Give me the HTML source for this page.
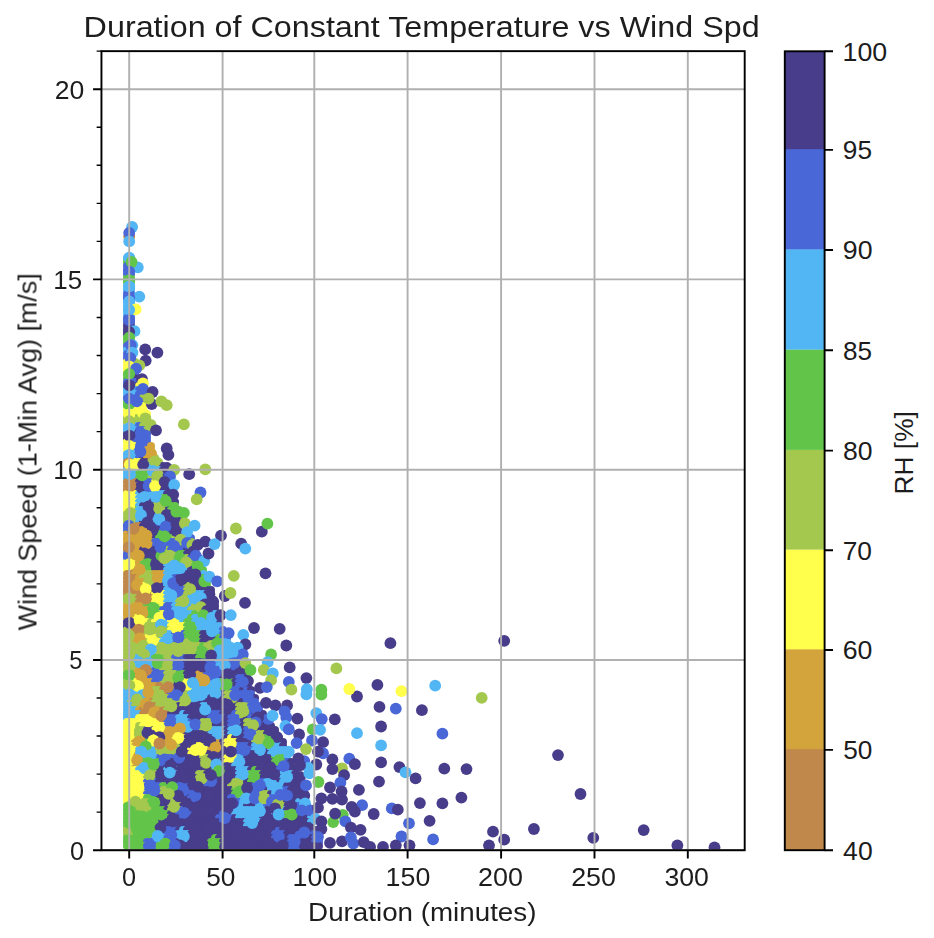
<!DOCTYPE html><html><head><meta charset="utf-8"><style>html,body{margin:0;padding:0;background:#fff;}svg{display:block;}text{font-family:"Liberation Sans",sans-serif;fill:#1c1c1c;}</style></head><body>
<svg width="934" height="938" viewBox="0 0 934 938">
<rect x="0" y="0" width="934" height="938" fill="#fff"/>
<defs><clipPath id="ax"><rect x="101.45" y="51.15" width="643.25" height="799.0500000000001"/></clipPath></defs>
<g clip-path="url(#ax)">
<circle cx="127.0" cy="258.0" r="4" fill="#52B6F5"/>
<circle cx="131.0" cy="258.0" r="4" fill="#52B6F5"/>
<circle cx="127.0" cy="262.0" r="4" fill="#62C54A"/>
<circle cx="131.0" cy="262.0" r="4" fill="#62C54A"/>
<circle cx="127.0" cy="266.0" r="4" fill="#4A67D8"/>
<circle cx="131.0" cy="266.0" r="4" fill="#62C54A"/>
<circle cx="127.0" cy="270.0" r="4" fill="#4A67D8"/>
<circle cx="131.0" cy="270.0" r="4" fill="#4A67D8"/>
<circle cx="127.0" cy="274.0" r="4" fill="#4A67D8"/>
<circle cx="131.0" cy="274.0" r="4" fill="#4A67D8"/>
<circle cx="127.0" cy="278.0" r="4" fill="#62C54A"/>
<circle cx="131.0" cy="278.0" r="4" fill="#62C54A"/>
<circle cx="127.0" cy="282.0" r="4" fill="#62C54A"/>
<circle cx="131.0" cy="282.0" r="4" fill="#62C54A"/>
<circle cx="127.0" cy="286.0" r="4" fill="#52B6F5"/>
<circle cx="131.0" cy="286.0" r="4" fill="#52B6F5"/>
<circle cx="127.0" cy="290.0" r="4" fill="#52B6F5"/>
<circle cx="131.0" cy="290.0" r="4" fill="#52B6F5"/>
<circle cx="127.0" cy="294.0" r="4" fill="#4A67D8"/>
<circle cx="131.0" cy="294.0" r="4" fill="#4A67D8"/>
<circle cx="127.0" cy="298.0" r="4" fill="#4A67D8"/>
<circle cx="131.0" cy="298.0" r="4" fill="#4A67D8"/>
<circle cx="127.0" cy="302.0" r="4" fill="#52B6F5"/>
<circle cx="131.0" cy="302.0" r="4" fill="#52B6F5"/>
<circle cx="127.0" cy="306.0" r="4" fill="#52B6F5"/>
<circle cx="131.0" cy="306.0" r="4" fill="#52B6F5"/>
<circle cx="127.0" cy="310.0" r="4" fill="#52B6F5"/>
<circle cx="131.0" cy="310.0" r="4" fill="#52B6F5"/>
<circle cx="127.0" cy="314.0" r="4" fill="#52B6F5"/>
<circle cx="131.0" cy="314.0" r="4" fill="#52B6F5"/>
<circle cx="127.0" cy="318.0" r="4" fill="#4A67D8"/>
<circle cx="131.0" cy="318.0" r="4" fill="#4A67D8"/>
<circle cx="127.0" cy="322.0" r="4" fill="#4A67D8"/>
<circle cx="131.0" cy="322.0" r="4" fill="#4A67D8"/>
<circle cx="127.0" cy="326.0" r="4" fill="#483D8B"/>
<circle cx="131.0" cy="326.0" r="4" fill="#483D8B"/>
<circle cx="127.0" cy="330.0" r="4" fill="#483D8B"/>
<circle cx="131.0" cy="330.0" r="4" fill="#483D8B"/>
<circle cx="127.0" cy="334.0" r="4" fill="#483D8B"/>
<circle cx="131.0" cy="334.0" r="4" fill="#483D8B"/>
<circle cx="127.0" cy="338.0" r="4" fill="#62C54A"/>
<circle cx="131.0" cy="338.0" r="4" fill="#62C54A"/>
<circle cx="127.0" cy="342.0" r="4" fill="#62C54A"/>
<circle cx="131.0" cy="342.0" r="4" fill="#4A67D8"/>
<circle cx="127.0" cy="346.0" r="4" fill="#4A67D8"/>
<circle cx="131.0" cy="346.0" r="4" fill="#4A67D8"/>
<circle cx="127.0" cy="350.0" r="4" fill="#52B6F5"/>
<circle cx="131.0" cy="350.0" r="4" fill="#52B6F5"/>
<circle cx="127.0" cy="354.0" r="4" fill="#4A67D8"/>
<circle cx="131.0" cy="354.0" r="4" fill="#52B6F5"/>
<circle cx="127.0" cy="358.0" r="4" fill="#4A67D8"/>
<circle cx="131.0" cy="358.0" r="4" fill="#4A67D8"/>
<circle cx="127.0" cy="362.0" r="4" fill="#FFFF4C"/>
<circle cx="131.0" cy="362.0" r="4" fill="#4A67D8"/>
<circle cx="135.0" cy="362.0" r="4" fill="#A4C84E"/>
<circle cx="127.0" cy="366.0" r="4" fill="#FFFF4C"/>
<circle cx="131.0" cy="366.0" r="4" fill="#FFFF4C"/>
<circle cx="135.0" cy="366.0" r="4" fill="#4A67D8"/>
<circle cx="127.0" cy="370.0" r="4" fill="#FFFF4C"/>
<circle cx="131.0" cy="370.0" r="4" fill="#FFFF4C"/>
<circle cx="135.0" cy="370.0" r="4" fill="#4A67D8"/>
<circle cx="127.0" cy="374.0" r="4" fill="#62C54A"/>
<circle cx="131.0" cy="374.0" r="4" fill="#62C54A"/>
<circle cx="135.0" cy="374.0" r="4" fill="#4A67D8"/>
<circle cx="127.0" cy="378.0" r="4" fill="#62C54A"/>
<circle cx="131.0" cy="378.0" r="4" fill="#62C54A"/>
<circle cx="135.0" cy="378.0" r="4" fill="#483D8B"/>
<circle cx="127.0" cy="382.0" r="4" fill="#4A67D8"/>
<circle cx="131.0" cy="382.0" r="4" fill="#4A67D8"/>
<circle cx="135.0" cy="382.0" r="4" fill="#4A67D8"/>
<circle cx="127.0" cy="386.0" r="4" fill="#483D8B"/>
<circle cx="131.0" cy="386.0" r="4" fill="#483D8B"/>
<circle cx="135.0" cy="386.0" r="4" fill="#483D8B"/>
<circle cx="139.0" cy="386.0" r="4" fill="#FFFF4C"/>
<circle cx="127.0" cy="390.0" r="4" fill="#52B6F5"/>
<circle cx="131.0" cy="390.0" r="4" fill="#52B6F5"/>
<circle cx="135.0" cy="390.0" r="4" fill="#52B6F5"/>
<circle cx="139.0" cy="390.0" r="4" fill="#4A67D8"/>
<circle cx="143.0" cy="390.0" r="4" fill="#4A67D8"/>
<circle cx="127.0" cy="394.0" r="4" fill="#52B6F5"/>
<circle cx="131.0" cy="394.0" r="4" fill="#52B6F5"/>
<circle cx="135.0" cy="394.0" r="4" fill="#52B6F5"/>
<circle cx="139.0" cy="394.0" r="4" fill="#4A67D8"/>
<circle cx="143.0" cy="394.0" r="4" fill="#4A67D8"/>
<circle cx="127.0" cy="398.0" r="4" fill="#4A67D8"/>
<circle cx="131.0" cy="398.0" r="4" fill="#4A67D8"/>
<circle cx="135.0" cy="398.0" r="4" fill="#4A67D8"/>
<circle cx="139.0" cy="398.0" r="4" fill="#4A67D8"/>
<circle cx="143.0" cy="398.0" r="4" fill="#A4C84E"/>
<circle cx="127.0" cy="402.0" r="4" fill="#62C54A"/>
<circle cx="131.0" cy="402.0" r="4" fill="#62C54A"/>
<circle cx="135.0" cy="402.0" r="4" fill="#4A67D8"/>
<circle cx="139.0" cy="402.0" r="4" fill="#4A67D8"/>
<circle cx="143.0" cy="402.0" r="4" fill="#4A67D8"/>
<circle cx="127.0" cy="406.0" r="4" fill="#62C54A"/>
<circle cx="131.0" cy="406.0" r="4" fill="#62C54A"/>
<circle cx="135.0" cy="406.0" r="4" fill="#4A67D8"/>
<circle cx="139.0" cy="406.0" r="4" fill="#4A67D8"/>
<circle cx="143.0" cy="406.0" r="4" fill="#FFFF4C"/>
<circle cx="127.0" cy="410.0" r="4" fill="#FFFF4C"/>
<circle cx="131.0" cy="410.0" r="4" fill="#FFFF4C"/>
<circle cx="135.0" cy="410.0" r="4" fill="#FFFF4C"/>
<circle cx="139.0" cy="410.0" r="4" fill="#FFFF4C"/>
<circle cx="143.0" cy="410.0" r="4" fill="#FFFF4C"/>
<circle cx="127.0" cy="414.0" r="4" fill="#FFFF4C"/>
<circle cx="131.0" cy="414.0" r="4" fill="#FFFF4C"/>
<circle cx="135.0" cy="414.0" r="4" fill="#FFFF4C"/>
<circle cx="139.0" cy="414.0" r="4" fill="#FFFF4C"/>
<circle cx="143.0" cy="414.0" r="4" fill="#FFFF4C"/>
<circle cx="147.0" cy="414.0" r="4" fill="#FFFF4C"/>
<circle cx="127.0" cy="418.0" r="4" fill="#A4C84E"/>
<circle cx="131.0" cy="418.0" r="4" fill="#A4C84E"/>
<circle cx="135.0" cy="418.0" r="4" fill="#A4C84E"/>
<circle cx="139.0" cy="418.0" r="4" fill="#A4C84E"/>
<circle cx="143.0" cy="418.0" r="4" fill="#A4C84E"/>
<circle cx="147.0" cy="418.0" r="4" fill="#A4C84E"/>
<circle cx="127.0" cy="422.0" r="4" fill="#A4C84E"/>
<circle cx="131.0" cy="422.0" r="4" fill="#A4C84E"/>
<circle cx="135.0" cy="422.0" r="4" fill="#A4C84E"/>
<circle cx="139.0" cy="422.0" r="4" fill="#A4C84E"/>
<circle cx="143.0" cy="422.0" r="4" fill="#A4C84E"/>
<circle cx="147.0" cy="422.0" r="4" fill="#A4C84E"/>
<circle cx="127.0" cy="426.0" r="4" fill="#52B6F5"/>
<circle cx="131.0" cy="426.0" r="4" fill="#52B6F5"/>
<circle cx="135.0" cy="426.0" r="4" fill="#52B6F5"/>
<circle cx="139.0" cy="426.0" r="4" fill="#4A67D8"/>
<circle cx="143.0" cy="426.0" r="4" fill="#A4C84E"/>
<circle cx="147.0" cy="426.0" r="4" fill="#A4C84E"/>
<circle cx="127.0" cy="430.0" r="4" fill="#52B6F5"/>
<circle cx="131.0" cy="430.0" r="4" fill="#52B6F5"/>
<circle cx="135.0" cy="430.0" r="4" fill="#52B6F5"/>
<circle cx="139.0" cy="430.0" r="4" fill="#4A67D8"/>
<circle cx="143.0" cy="430.0" r="4" fill="#4A67D8"/>
<circle cx="147.0" cy="430.0" r="4" fill="#A4C84E"/>
<circle cx="127.0" cy="434.0" r="4" fill="#483D8B"/>
<circle cx="131.0" cy="434.0" r="4" fill="#483D8B"/>
<circle cx="135.0" cy="434.0" r="4" fill="#483D8B"/>
<circle cx="139.0" cy="434.0" r="4" fill="#4A67D8"/>
<circle cx="143.0" cy="434.0" r="4" fill="#4A67D8"/>
<circle cx="147.0" cy="434.0" r="4" fill="#4A67D8"/>
<circle cx="127.0" cy="438.0" r="4" fill="#483D8B"/>
<circle cx="131.0" cy="438.0" r="4" fill="#483D8B"/>
<circle cx="135.0" cy="438.0" r="4" fill="#483D8B"/>
<circle cx="139.0" cy="438.0" r="4" fill="#4A67D8"/>
<circle cx="143.0" cy="438.0" r="4" fill="#4A67D8"/>
<circle cx="147.0" cy="438.0" r="4" fill="#4A67D8"/>
<circle cx="127.0" cy="442.0" r="4" fill="#FFFF4C"/>
<circle cx="131.0" cy="442.0" r="4" fill="#FFFF4C"/>
<circle cx="135.0" cy="442.0" r="4" fill="#4A67D8"/>
<circle cx="139.0" cy="442.0" r="4" fill="#4A67D8"/>
<circle cx="143.0" cy="442.0" r="4" fill="#4A67D8"/>
<circle cx="147.0" cy="442.0" r="4" fill="#4A67D8"/>
<circle cx="127.0" cy="446.0" r="4" fill="#FFFF4C"/>
<circle cx="131.0" cy="446.0" r="4" fill="#FFFF4C"/>
<circle cx="135.0" cy="446.0" r="4" fill="#FFFF4C"/>
<circle cx="139.0" cy="446.0" r="4" fill="#4A67D8"/>
<circle cx="143.0" cy="446.0" r="4" fill="#4A67D8"/>
<circle cx="147.0" cy="446.0" r="4" fill="#4A67D8"/>
<circle cx="151.0" cy="446.0" r="4" fill="#D4A43C"/>
<circle cx="127.0" cy="450.0" r="4" fill="#FFFF4C"/>
<circle cx="131.0" cy="450.0" r="4" fill="#FFFF4C"/>
<circle cx="135.0" cy="450.0" r="4" fill="#4A67D8"/>
<circle cx="139.0" cy="450.0" r="4" fill="#4A67D8"/>
<circle cx="143.0" cy="450.0" r="4" fill="#4A67D8"/>
<circle cx="147.0" cy="450.0" r="4" fill="#D4A43C"/>
<circle cx="151.0" cy="450.0" r="4" fill="#D4A43C"/>
<circle cx="127.0" cy="454.0" r="4" fill="#52B6F5"/>
<circle cx="131.0" cy="454.0" r="4" fill="#52B6F5"/>
<circle cx="135.0" cy="454.0" r="4" fill="#52B6F5"/>
<circle cx="139.0" cy="454.0" r="4" fill="#4A67D8"/>
<circle cx="143.0" cy="454.0" r="4" fill="#4A67D8"/>
<circle cx="147.0" cy="454.0" r="4" fill="#D4A43C"/>
<circle cx="151.0" cy="454.0" r="4" fill="#D4A43C"/>
<circle cx="127.0" cy="458.0" r="4" fill="#52B6F5"/>
<circle cx="131.0" cy="458.0" r="4" fill="#52B6F5"/>
<circle cx="135.0" cy="458.0" r="4" fill="#52B6F5"/>
<circle cx="139.0" cy="458.0" r="4" fill="#4A67D8"/>
<circle cx="143.0" cy="458.0" r="4" fill="#483D8B"/>
<circle cx="147.0" cy="458.0" r="4" fill="#D4A43C"/>
<circle cx="151.0" cy="458.0" r="4" fill="#D4A43C"/>
<circle cx="155.0" cy="458.0" r="4" fill="#A4C84E"/>
<circle cx="127.0" cy="462.0" r="4" fill="#C0884A"/>
<circle cx="131.0" cy="462.0" r="4" fill="#C0884A"/>
<circle cx="135.0" cy="462.0" r="4" fill="#FFFF4C"/>
<circle cx="139.0" cy="462.0" r="4" fill="#FFFF4C"/>
<circle cx="143.0" cy="462.0" r="4" fill="#483D8B"/>
<circle cx="147.0" cy="462.0" r="4" fill="#483D8B"/>
<circle cx="151.0" cy="462.0" r="4" fill="#A4C84E"/>
<circle cx="155.0" cy="462.0" r="4" fill="#A4C84E"/>
<circle cx="159.0" cy="462.0" r="4" fill="#A4C84E"/>
<circle cx="127.0" cy="466.0" r="4" fill="#C0884A"/>
<circle cx="131.0" cy="466.0" r="4" fill="#FFFF4C"/>
<circle cx="135.0" cy="466.0" r="4" fill="#FFFF4C"/>
<circle cx="139.0" cy="466.0" r="4" fill="#FFFF4C"/>
<circle cx="143.0" cy="466.0" r="4" fill="#483D8B"/>
<circle cx="147.0" cy="466.0" r="4" fill="#483D8B"/>
<circle cx="151.0" cy="466.0" r="4" fill="#52B6F5"/>
<circle cx="155.0" cy="466.0" r="4" fill="#A4C84E"/>
<circle cx="159.0" cy="466.0" r="4" fill="#A4C84E"/>
<circle cx="163.0" cy="466.0" r="4" fill="#483D8B"/>
<circle cx="167.0" cy="466.0" r="4" fill="#483D8B"/>
<circle cx="127.0" cy="470.0" r="4" fill="#52B6F5"/>
<circle cx="131.0" cy="470.0" r="4" fill="#52B6F5"/>
<circle cx="135.0" cy="470.0" r="4" fill="#FFFF4C"/>
<circle cx="139.0" cy="470.0" r="4" fill="#62C54A"/>
<circle cx="143.0" cy="470.0" r="4" fill="#62C54A"/>
<circle cx="147.0" cy="470.0" r="4" fill="#52B6F5"/>
<circle cx="151.0" cy="470.0" r="4" fill="#52B6F5"/>
<circle cx="155.0" cy="470.0" r="4" fill="#52B6F5"/>
<circle cx="159.0" cy="470.0" r="4" fill="#52B6F5"/>
<circle cx="163.0" cy="470.0" r="4" fill="#483D8B"/>
<circle cx="167.0" cy="470.0" r="4" fill="#483D8B"/>
<circle cx="127.0" cy="474.0" r="4" fill="#52B6F5"/>
<circle cx="131.0" cy="474.0" r="4" fill="#52B6F5"/>
<circle cx="135.0" cy="474.0" r="4" fill="#52B6F5"/>
<circle cx="139.0" cy="474.0" r="4" fill="#62C54A"/>
<circle cx="143.0" cy="474.0" r="4" fill="#62C54A"/>
<circle cx="147.0" cy="474.0" r="4" fill="#62C54A"/>
<circle cx="151.0" cy="474.0" r="4" fill="#52B6F5"/>
<circle cx="155.0" cy="474.0" r="4" fill="#A4C84E"/>
<circle cx="159.0" cy="474.0" r="4" fill="#A4C84E"/>
<circle cx="163.0" cy="474.0" r="4" fill="#A4C84E"/>
<circle cx="167.0" cy="474.0" r="4" fill="#4A67D8"/>
<circle cx="127.0" cy="478.0" r="4" fill="#52B6F5"/>
<circle cx="131.0" cy="478.0" r="4" fill="#52B6F5"/>
<circle cx="135.0" cy="478.0" r="4" fill="#52B6F5"/>
<circle cx="139.0" cy="478.0" r="4" fill="#62C54A"/>
<circle cx="143.0" cy="478.0" r="4" fill="#62C54A"/>
<circle cx="147.0" cy="478.0" r="4" fill="#62C54A"/>
<circle cx="151.0" cy="478.0" r="4" fill="#A4C84E"/>
<circle cx="155.0" cy="478.0" r="4" fill="#A4C84E"/>
<circle cx="159.0" cy="478.0" r="4" fill="#A4C84E"/>
<circle cx="163.0" cy="478.0" r="4" fill="#483D8B"/>
<circle cx="167.0" cy="478.0" r="4" fill="#4A67D8"/>
<circle cx="127.0" cy="482.0" r="4" fill="#C0884A"/>
<circle cx="131.0" cy="482.0" r="4" fill="#C0884A"/>
<circle cx="135.0" cy="482.0" r="4" fill="#C0884A"/>
<circle cx="139.0" cy="482.0" r="4" fill="#483D8B"/>
<circle cx="143.0" cy="482.0" r="4" fill="#483D8B"/>
<circle cx="147.0" cy="482.0" r="4" fill="#4A67D8"/>
<circle cx="151.0" cy="482.0" r="4" fill="#4A67D8"/>
<circle cx="155.0" cy="482.0" r="4" fill="#FFFF4C"/>
<circle cx="159.0" cy="482.0" r="4" fill="#483D8B"/>
<circle cx="163.0" cy="482.0" r="4" fill="#483D8B"/>
<circle cx="167.0" cy="482.0" r="4" fill="#483D8B"/>
<circle cx="171.0" cy="482.0" r="4" fill="#52B6F5"/>
<circle cx="127.0" cy="486.0" r="4" fill="#C0884A"/>
<circle cx="131.0" cy="486.0" r="4" fill="#C0884A"/>
<circle cx="135.0" cy="486.0" r="4" fill="#C0884A"/>
<circle cx="139.0" cy="486.0" r="4" fill="#483D8B"/>
<circle cx="143.0" cy="486.0" r="4" fill="#483D8B"/>
<circle cx="147.0" cy="486.0" r="4" fill="#4A67D8"/>
<circle cx="151.0" cy="486.0" r="4" fill="#4A67D8"/>
<circle cx="155.0" cy="486.0" r="4" fill="#FFFF4C"/>
<circle cx="159.0" cy="486.0" r="4" fill="#FFFF4C"/>
<circle cx="163.0" cy="486.0" r="4" fill="#483D8B"/>
<circle cx="167.0" cy="486.0" r="4" fill="#483D8B"/>
<circle cx="171.0" cy="486.0" r="4" fill="#52B6F5"/>
<circle cx="127.0" cy="490.0" r="4" fill="#C0884A"/>
<circle cx="131.0" cy="490.0" r="4" fill="#C0884A"/>
<circle cx="135.0" cy="490.0" r="4" fill="#C0884A"/>
<circle cx="139.0" cy="490.0" r="4" fill="#483D8B"/>
<circle cx="143.0" cy="490.0" r="4" fill="#483D8B"/>
<circle cx="147.0" cy="490.0" r="4" fill="#4A67D8"/>
<circle cx="151.0" cy="490.0" r="4" fill="#4A67D8"/>
<circle cx="155.0" cy="490.0" r="4" fill="#FFFF4C"/>
<circle cx="159.0" cy="490.0" r="4" fill="#FFFF4C"/>
<circle cx="163.0" cy="490.0" r="4" fill="#483D8B"/>
<circle cx="167.0" cy="490.0" r="4" fill="#483D8B"/>
<circle cx="171.0" cy="490.0" r="4" fill="#483D8B"/>
<circle cx="127.0" cy="494.0" r="4" fill="#FFFF4C"/>
<circle cx="131.0" cy="494.0" r="4" fill="#FFFF4C"/>
<circle cx="135.0" cy="494.0" r="4" fill="#FFFF4C"/>
<circle cx="139.0" cy="494.0" r="4" fill="#52B6F5"/>
<circle cx="143.0" cy="494.0" r="4" fill="#52B6F5"/>
<circle cx="147.0" cy="494.0" r="4" fill="#52B6F5"/>
<circle cx="151.0" cy="494.0" r="4" fill="#52B6F5"/>
<circle cx="155.0" cy="494.0" r="4" fill="#52B6F5"/>
<circle cx="159.0" cy="494.0" r="4" fill="#52B6F5"/>
<circle cx="163.0" cy="494.0" r="4" fill="#52B6F5"/>
<circle cx="167.0" cy="494.0" r="4" fill="#483D8B"/>
<circle cx="171.0" cy="494.0" r="4" fill="#483D8B"/>
<circle cx="127.0" cy="498.0" r="4" fill="#FFFF4C"/>
<circle cx="131.0" cy="498.0" r="4" fill="#FFFF4C"/>
<circle cx="135.0" cy="498.0" r="4" fill="#FFFF4C"/>
<circle cx="139.0" cy="498.0" r="4" fill="#52B6F5"/>
<circle cx="143.0" cy="498.0" r="4" fill="#52B6F5"/>
<circle cx="147.0" cy="498.0" r="4" fill="#52B6F5"/>
<circle cx="151.0" cy="498.0" r="4" fill="#52B6F5"/>
<circle cx="155.0" cy="498.0" r="4" fill="#52B6F5"/>
<circle cx="159.0" cy="498.0" r="4" fill="#52B6F5"/>
<circle cx="163.0" cy="498.0" r="4" fill="#62C54A"/>
<circle cx="167.0" cy="498.0" r="4" fill="#62C54A"/>
<circle cx="171.0" cy="498.0" r="4" fill="#483D8B"/>
<circle cx="127.0" cy="502.0" r="4" fill="#FFFF4C"/>
<circle cx="131.0" cy="502.0" r="4" fill="#FFFF4C"/>
<circle cx="135.0" cy="502.0" r="4" fill="#FFFF4C"/>
<circle cx="139.0" cy="502.0" r="4" fill="#52B6F5"/>
<circle cx="143.0" cy="502.0" r="4" fill="#52B6F5"/>
<circle cx="147.0" cy="502.0" r="4" fill="#483D8B"/>
<circle cx="151.0" cy="502.0" r="4" fill="#483D8B"/>
<circle cx="155.0" cy="502.0" r="4" fill="#52B6F5"/>
<circle cx="159.0" cy="502.0" r="4" fill="#52B6F5"/>
<circle cx="163.0" cy="502.0" r="4" fill="#62C54A"/>
<circle cx="167.0" cy="502.0" r="4" fill="#62C54A"/>
<circle cx="171.0" cy="502.0" r="4" fill="#62C54A"/>
<circle cx="175.0" cy="502.0" r="4" fill="#483D8B"/>
<circle cx="127.0" cy="506.0" r="4" fill="#FFFF4C"/>
<circle cx="131.0" cy="506.0" r="4" fill="#FFFF4C"/>
<circle cx="135.0" cy="506.0" r="4" fill="#FFFF4C"/>
<circle cx="139.0" cy="506.0" r="4" fill="#52B6F5"/>
<circle cx="143.0" cy="506.0" r="4" fill="#483D8B"/>
<circle cx="147.0" cy="506.0" r="4" fill="#483D8B"/>
<circle cx="151.0" cy="506.0" r="4" fill="#483D8B"/>
<circle cx="155.0" cy="506.0" r="4" fill="#A4C84E"/>
<circle cx="159.0" cy="506.0" r="4" fill="#A4C84E"/>
<circle cx="163.0" cy="506.0" r="4" fill="#A4C84E"/>
<circle cx="167.0" cy="506.0" r="4" fill="#62C54A"/>
<circle cx="171.0" cy="506.0" r="4" fill="#62C54A"/>
<circle cx="175.0" cy="506.0" r="4" fill="#62C54A"/>
<circle cx="127.0" cy="510.0" r="4" fill="#FFFF4C"/>
<circle cx="131.0" cy="510.0" r="4" fill="#A4C84E"/>
<circle cx="135.0" cy="510.0" r="4" fill="#A4C84E"/>
<circle cx="139.0" cy="510.0" r="4" fill="#52B6F5"/>
<circle cx="143.0" cy="510.0" r="4" fill="#52B6F5"/>
<circle cx="147.0" cy="510.0" r="4" fill="#483D8B"/>
<circle cx="151.0" cy="510.0" r="4" fill="#483D8B"/>
<circle cx="155.0" cy="510.0" r="4" fill="#A4C84E"/>
<circle cx="159.0" cy="510.0" r="4" fill="#A4C84E"/>
<circle cx="163.0" cy="510.0" r="4" fill="#A4C84E"/>
<circle cx="167.0" cy="510.0" r="4" fill="#483D8B"/>
<circle cx="171.0" cy="510.0" r="4" fill="#62C54A"/>
<circle cx="175.0" cy="510.0" r="4" fill="#62C54A"/>
<circle cx="179.0" cy="510.0" r="4" fill="#62C54A"/>
<circle cx="127.0" cy="514.0" r="4" fill="#A4C84E"/>
<circle cx="131.0" cy="514.0" r="4" fill="#A4C84E"/>
<circle cx="135.0" cy="514.0" r="4" fill="#A4C84E"/>
<circle cx="139.0" cy="514.0" r="4" fill="#52B6F5"/>
<circle cx="143.0" cy="514.0" r="4" fill="#52B6F5"/>
<circle cx="147.0" cy="514.0" r="4" fill="#483D8B"/>
<circle cx="151.0" cy="514.0" r="4" fill="#483D8B"/>
<circle cx="155.0" cy="514.0" r="4" fill="#483D8B"/>
<circle cx="159.0" cy="514.0" r="4" fill="#52B6F5"/>
<circle cx="163.0" cy="514.0" r="4" fill="#483D8B"/>
<circle cx="167.0" cy="514.0" r="4" fill="#483D8B"/>
<circle cx="171.0" cy="514.0" r="4" fill="#483D8B"/>
<circle cx="175.0" cy="514.0" r="4" fill="#62C54A"/>
<circle cx="179.0" cy="514.0" r="4" fill="#62C54A"/>
<circle cx="127.0" cy="518.0" r="4" fill="#A4C84E"/>
<circle cx="131.0" cy="518.0" r="4" fill="#A4C84E"/>
<circle cx="135.0" cy="518.0" r="4" fill="#A4C84E"/>
<circle cx="139.0" cy="518.0" r="4" fill="#52B6F5"/>
<circle cx="143.0" cy="518.0" r="4" fill="#52B6F5"/>
<circle cx="147.0" cy="518.0" r="4" fill="#483D8B"/>
<circle cx="151.0" cy="518.0" r="4" fill="#483D8B"/>
<circle cx="155.0" cy="518.0" r="4" fill="#52B6F5"/>
<circle cx="159.0" cy="518.0" r="4" fill="#52B6F5"/>
<circle cx="163.0" cy="518.0" r="4" fill="#52B6F5"/>
<circle cx="167.0" cy="518.0" r="4" fill="#483D8B"/>
<circle cx="171.0" cy="518.0" r="4" fill="#483D8B"/>
<circle cx="175.0" cy="518.0" r="4" fill="#483D8B"/>
<circle cx="179.0" cy="518.0" r="4" fill="#483D8B"/>
<circle cx="127.0" cy="522.0" r="4" fill="#A4C84E"/>
<circle cx="131.0" cy="522.0" r="4" fill="#A4C84E"/>
<circle cx="135.0" cy="522.0" r="4" fill="#A4C84E"/>
<circle cx="139.0" cy="522.0" r="4" fill="#52B6F5"/>
<circle cx="143.0" cy="522.0" r="4" fill="#483D8B"/>
<circle cx="147.0" cy="522.0" r="4" fill="#483D8B"/>
<circle cx="151.0" cy="522.0" r="4" fill="#483D8B"/>
<circle cx="155.0" cy="522.0" r="4" fill="#52B6F5"/>
<circle cx="159.0" cy="522.0" r="4" fill="#52B6F5"/>
<circle cx="163.0" cy="522.0" r="4" fill="#52B6F5"/>
<circle cx="167.0" cy="522.0" r="4" fill="#4A67D8"/>
<circle cx="171.0" cy="522.0" r="4" fill="#483D8B"/>
<circle cx="175.0" cy="522.0" r="4" fill="#483D8B"/>
<circle cx="179.0" cy="522.0" r="4" fill="#483D8B"/>
<circle cx="183.0" cy="522.0" r="4" fill="#A4C84E"/>
<circle cx="127.0" cy="526.0" r="4" fill="#4A67D8"/>
<circle cx="131.0" cy="526.0" r="4" fill="#4A67D8"/>
<circle cx="135.0" cy="526.0" r="4" fill="#C0884A"/>
<circle cx="139.0" cy="526.0" r="4" fill="#C0884A"/>
<circle cx="143.0" cy="526.0" r="4" fill="#483D8B"/>
<circle cx="147.0" cy="526.0" r="4" fill="#483D8B"/>
<circle cx="151.0" cy="526.0" r="4" fill="#483D8B"/>
<circle cx="155.0" cy="526.0" r="4" fill="#483D8B"/>
<circle cx="159.0" cy="526.0" r="4" fill="#4A67D8"/>
<circle cx="163.0" cy="526.0" r="4" fill="#4A67D8"/>
<circle cx="167.0" cy="526.0" r="4" fill="#4A67D8"/>
<circle cx="171.0" cy="526.0" r="4" fill="#4A67D8"/>
<circle cx="175.0" cy="526.0" r="4" fill="#483D8B"/>
<circle cx="179.0" cy="526.0" r="4" fill="#483D8B"/>
<circle cx="183.0" cy="526.0" r="4" fill="#A4C84E"/>
<circle cx="127.0" cy="530.0" r="4" fill="#4A67D8"/>
<circle cx="131.0" cy="530.0" r="4" fill="#C0884A"/>
<circle cx="135.0" cy="530.0" r="4" fill="#C0884A"/>
<circle cx="139.0" cy="530.0" r="4" fill="#C0884A"/>
<circle cx="143.0" cy="530.0" r="4" fill="#D4A43C"/>
<circle cx="147.0" cy="530.0" r="4" fill="#D4A43C"/>
<circle cx="151.0" cy="530.0" r="4" fill="#483D8B"/>
<circle cx="155.0" cy="530.0" r="4" fill="#483D8B"/>
<circle cx="159.0" cy="530.0" r="4" fill="#483D8B"/>
<circle cx="163.0" cy="530.0" r="4" fill="#4A67D8"/>
<circle cx="167.0" cy="530.0" r="4" fill="#4A67D8"/>
<circle cx="171.0" cy="530.0" r="4" fill="#483D8B"/>
<circle cx="175.0" cy="530.0" r="4" fill="#483D8B"/>
<circle cx="179.0" cy="530.0" r="4" fill="#483D8B"/>
<circle cx="183.0" cy="530.0" r="4" fill="#52B6F5"/>
<circle cx="187.0" cy="530.0" r="4" fill="#52B6F5"/>
<circle cx="127.0" cy="534.0" r="4" fill="#D4A43C"/>
<circle cx="131.0" cy="534.0" r="4" fill="#C0884A"/>
<circle cx="135.0" cy="534.0" r="4" fill="#C0884A"/>
<circle cx="139.0" cy="534.0" r="4" fill="#D4A43C"/>
<circle cx="143.0" cy="534.0" r="4" fill="#D4A43C"/>
<circle cx="147.0" cy="534.0" r="4" fill="#D4A43C"/>
<circle cx="151.0" cy="534.0" r="4" fill="#483D8B"/>
<circle cx="155.0" cy="534.0" r="4" fill="#483D8B"/>
<circle cx="159.0" cy="534.0" r="4" fill="#62C54A"/>
<circle cx="163.0" cy="534.0" r="4" fill="#62C54A"/>
<circle cx="167.0" cy="534.0" r="4" fill="#62C54A"/>
<circle cx="171.0" cy="534.0" r="4" fill="#483D8B"/>
<circle cx="175.0" cy="534.0" r="4" fill="#483D8B"/>
<circle cx="179.0" cy="534.0" r="4" fill="#483D8B"/>
<circle cx="183.0" cy="534.0" r="4" fill="#52B6F5"/>
<circle cx="187.0" cy="534.0" r="4" fill="#52B6F5"/>
<circle cx="127.0" cy="538.0" r="4" fill="#D4A43C"/>
<circle cx="131.0" cy="538.0" r="4" fill="#D4A43C"/>
<circle cx="135.0" cy="538.0" r="4" fill="#D4A43C"/>
<circle cx="139.0" cy="538.0" r="4" fill="#D4A43C"/>
<circle cx="143.0" cy="538.0" r="4" fill="#D4A43C"/>
<circle cx="147.0" cy="538.0" r="4" fill="#D4A43C"/>
<circle cx="151.0" cy="538.0" r="4" fill="#D4A43C"/>
<circle cx="155.0" cy="538.0" r="4" fill="#483D8B"/>
<circle cx="159.0" cy="538.0" r="4" fill="#62C54A"/>
<circle cx="163.0" cy="538.0" r="4" fill="#62C54A"/>
<circle cx="167.0" cy="538.0" r="4" fill="#62C54A"/>
<circle cx="171.0" cy="538.0" r="4" fill="#62C54A"/>
<circle cx="175.0" cy="538.0" r="4" fill="#A4C84E"/>
<circle cx="179.0" cy="538.0" r="4" fill="#A4C84E"/>
<circle cx="183.0" cy="538.0" r="4" fill="#A4C84E"/>
<circle cx="187.0" cy="538.0" r="4" fill="#4A67D8"/>
<circle cx="191.0" cy="538.0" r="4" fill="#4A67D8"/>
<circle cx="127.0" cy="542.0" r="4" fill="#D4A43C"/>
<circle cx="131.0" cy="542.0" r="4" fill="#D4A43C"/>
<circle cx="135.0" cy="542.0" r="4" fill="#D4A43C"/>
<circle cx="139.0" cy="542.0" r="4" fill="#D4A43C"/>
<circle cx="143.0" cy="542.0" r="4" fill="#D4A43C"/>
<circle cx="147.0" cy="542.0" r="4" fill="#D4A43C"/>
<circle cx="151.0" cy="542.0" r="4" fill="#D4A43C"/>
<circle cx="155.0" cy="542.0" r="4" fill="#4A67D8"/>
<circle cx="159.0" cy="542.0" r="4" fill="#4A67D8"/>
<circle cx="163.0" cy="542.0" r="4" fill="#4A67D8"/>
<circle cx="167.0" cy="542.0" r="4" fill="#62C54A"/>
<circle cx="171.0" cy="542.0" r="4" fill="#4A67D8"/>
<circle cx="175.0" cy="542.0" r="4" fill="#4A67D8"/>
<circle cx="179.0" cy="542.0" r="4" fill="#A4C84E"/>
<circle cx="183.0" cy="542.0" r="4" fill="#A4C84E"/>
<circle cx="187.0" cy="542.0" r="4" fill="#4A67D8"/>
<circle cx="191.0" cy="542.0" r="4" fill="#A4C84E"/>
<circle cx="127.0" cy="546.0" r="4" fill="#C0884A"/>
<circle cx="131.0" cy="546.0" r="4" fill="#D4A43C"/>
<circle cx="135.0" cy="546.0" r="4" fill="#D4A43C"/>
<circle cx="139.0" cy="546.0" r="4" fill="#D4A43C"/>
<circle cx="143.0" cy="546.0" r="4" fill="#D4A43C"/>
<circle cx="147.0" cy="546.0" r="4" fill="#D4A43C"/>
<circle cx="151.0" cy="546.0" r="4" fill="#D4A43C"/>
<circle cx="155.0" cy="546.0" r="4" fill="#4A67D8"/>
<circle cx="159.0" cy="546.0" r="4" fill="#4A67D8"/>
<circle cx="163.0" cy="546.0" r="4" fill="#4A67D8"/>
<circle cx="167.0" cy="546.0" r="4" fill="#4A67D8"/>
<circle cx="171.0" cy="546.0" r="4" fill="#4A67D8"/>
<circle cx="175.0" cy="546.0" r="4" fill="#4A67D8"/>
<circle cx="179.0" cy="546.0" r="4" fill="#4A67D8"/>
<circle cx="183.0" cy="546.0" r="4" fill="#4A67D8"/>
<circle cx="187.0" cy="546.0" r="4" fill="#4A67D8"/>
<circle cx="191.0" cy="546.0" r="4" fill="#A4C84E"/>
<circle cx="127.0" cy="550.0" r="4" fill="#C0884A"/>
<circle cx="131.0" cy="550.0" r="4" fill="#D4A43C"/>
<circle cx="135.0" cy="550.0" r="4" fill="#D4A43C"/>
<circle cx="139.0" cy="550.0" r="4" fill="#D4A43C"/>
<circle cx="143.0" cy="550.0" r="4" fill="#483D8B"/>
<circle cx="147.0" cy="550.0" r="4" fill="#483D8B"/>
<circle cx="151.0" cy="550.0" r="4" fill="#483D8B"/>
<circle cx="155.0" cy="550.0" r="4" fill="#483D8B"/>
<circle cx="159.0" cy="550.0" r="4" fill="#4A67D8"/>
<circle cx="163.0" cy="550.0" r="4" fill="#4A67D8"/>
<circle cx="167.0" cy="550.0" r="4" fill="#A4C84E"/>
<circle cx="171.0" cy="550.0" r="4" fill="#4A67D8"/>
<circle cx="175.0" cy="550.0" r="4" fill="#4A67D8"/>
<circle cx="179.0" cy="550.0" r="4" fill="#4A67D8"/>
<circle cx="183.0" cy="550.0" r="4" fill="#4A67D8"/>
<circle cx="187.0" cy="550.0" r="4" fill="#483D8B"/>
<circle cx="191.0" cy="550.0" r="4" fill="#483D8B"/>
<circle cx="195.0" cy="550.0" r="4" fill="#483D8B"/>
<circle cx="127.0" cy="554.0" r="4" fill="#4A67D8"/>
<circle cx="131.0" cy="554.0" r="4" fill="#D4A43C"/>
<circle cx="135.0" cy="554.0" r="4" fill="#D4A43C"/>
<circle cx="139.0" cy="554.0" r="4" fill="#D4A43C"/>
<circle cx="143.0" cy="554.0" r="4" fill="#483D8B"/>
<circle cx="147.0" cy="554.0" r="4" fill="#483D8B"/>
<circle cx="151.0" cy="554.0" r="4" fill="#483D8B"/>
<circle cx="155.0" cy="554.0" r="4" fill="#483D8B"/>
<circle cx="159.0" cy="554.0" r="4" fill="#62C54A"/>
<circle cx="163.0" cy="554.0" r="4" fill="#62C54A"/>
<circle cx="167.0" cy="554.0" r="4" fill="#A4C84E"/>
<circle cx="171.0" cy="554.0" r="4" fill="#A4C84E"/>
<circle cx="175.0" cy="554.0" r="4" fill="#A4C84E"/>
<circle cx="179.0" cy="554.0" r="4" fill="#62C54A"/>
<circle cx="183.0" cy="554.0" r="4" fill="#62C54A"/>
<circle cx="187.0" cy="554.0" r="4" fill="#483D8B"/>
<circle cx="191.0" cy="554.0" r="4" fill="#483D8B"/>
<circle cx="195.0" cy="554.0" r="4" fill="#4A67D8"/>
<circle cx="127.0" cy="558.0" r="4" fill="#4A67D8"/>
<circle cx="131.0" cy="558.0" r="4" fill="#4A67D8"/>
<circle cx="135.0" cy="558.0" r="4" fill="#D4A43C"/>
<circle cx="139.0" cy="558.0" r="4" fill="#D4A43C"/>
<circle cx="143.0" cy="558.0" r="4" fill="#483D8B"/>
<circle cx="147.0" cy="558.0" r="4" fill="#483D8B"/>
<circle cx="151.0" cy="558.0" r="4" fill="#483D8B"/>
<circle cx="155.0" cy="558.0" r="4" fill="#483D8B"/>
<circle cx="159.0" cy="558.0" r="4" fill="#62C54A"/>
<circle cx="163.0" cy="558.0" r="4" fill="#A4C84E"/>
<circle cx="167.0" cy="558.0" r="4" fill="#A4C84E"/>
<circle cx="171.0" cy="558.0" r="4" fill="#A4C84E"/>
<circle cx="175.0" cy="558.0" r="4" fill="#62C54A"/>
<circle cx="179.0" cy="558.0" r="4" fill="#62C54A"/>
<circle cx="183.0" cy="558.0" r="4" fill="#62C54A"/>
<circle cx="187.0" cy="558.0" r="4" fill="#A4C84E"/>
<circle cx="191.0" cy="558.0" r="4" fill="#4A67D8"/>
<circle cx="195.0" cy="558.0" r="4" fill="#4A67D8"/>
<circle cx="199.0" cy="558.0" r="4" fill="#4A67D8"/>
<circle cx="127.0" cy="562.0" r="4" fill="#FFFF4C"/>
<circle cx="131.0" cy="562.0" r="4" fill="#FFFF4C"/>
<circle cx="135.0" cy="562.0" r="4" fill="#FFFF4C"/>
<circle cx="139.0" cy="562.0" r="4" fill="#D4A43C"/>
<circle cx="143.0" cy="562.0" r="4" fill="#62C54A"/>
<circle cx="147.0" cy="562.0" r="4" fill="#62C54A"/>
<circle cx="151.0" cy="562.0" r="4" fill="#62C54A"/>
<circle cx="155.0" cy="562.0" r="4" fill="#483D8B"/>
<circle cx="159.0" cy="562.0" r="4" fill="#483D8B"/>
<circle cx="163.0" cy="562.0" r="4" fill="#A4C84E"/>
<circle cx="167.0" cy="562.0" r="4" fill="#A4C84E"/>
<circle cx="171.0" cy="562.0" r="4" fill="#52B6F5"/>
<circle cx="175.0" cy="562.0" r="4" fill="#52B6F5"/>
<circle cx="179.0" cy="562.0" r="4" fill="#62C54A"/>
<circle cx="183.0" cy="562.0" r="4" fill="#A4C84E"/>
<circle cx="187.0" cy="562.0" r="4" fill="#A4C84E"/>
<circle cx="191.0" cy="562.0" r="4" fill="#A4C84E"/>
<circle cx="195.0" cy="562.0" r="4" fill="#62C54A"/>
<circle cx="199.0" cy="562.0" r="4" fill="#62C54A"/>
<circle cx="127.0" cy="566.0" r="4" fill="#FFFF4C"/>
<circle cx="131.0" cy="566.0" r="4" fill="#FFFF4C"/>
<circle cx="135.0" cy="566.0" r="4" fill="#D4A43C"/>
<circle cx="139.0" cy="566.0" r="4" fill="#D4A43C"/>
<circle cx="143.0" cy="566.0" r="4" fill="#62C54A"/>
<circle cx="147.0" cy="566.0" r="4" fill="#62C54A"/>
<circle cx="151.0" cy="566.0" r="4" fill="#62C54A"/>
<circle cx="155.0" cy="566.0" r="4" fill="#483D8B"/>
<circle cx="159.0" cy="566.0" r="4" fill="#483D8B"/>
<circle cx="163.0" cy="566.0" r="4" fill="#483D8B"/>
<circle cx="167.0" cy="566.0" r="4" fill="#52B6F5"/>
<circle cx="171.0" cy="566.0" r="4" fill="#52B6F5"/>
<circle cx="175.0" cy="566.0" r="4" fill="#52B6F5"/>
<circle cx="179.0" cy="566.0" r="4" fill="#52B6F5"/>
<circle cx="183.0" cy="566.0" r="4" fill="#52B6F5"/>
<circle cx="187.0" cy="566.0" r="4" fill="#A4C84E"/>
<circle cx="191.0" cy="566.0" r="4" fill="#A4C84E"/>
<circle cx="195.0" cy="566.0" r="4" fill="#62C54A"/>
<circle cx="199.0" cy="566.0" r="4" fill="#62C54A"/>
<circle cx="127.0" cy="570.0" r="4" fill="#FFFF4C"/>
<circle cx="131.0" cy="570.0" r="4" fill="#FFFF4C"/>
<circle cx="135.0" cy="570.0" r="4" fill="#D4A43C"/>
<circle cx="139.0" cy="570.0" r="4" fill="#D4A43C"/>
<circle cx="143.0" cy="570.0" r="4" fill="#D4A43C"/>
<circle cx="147.0" cy="570.0" r="4" fill="#62C54A"/>
<circle cx="151.0" cy="570.0" r="4" fill="#62C54A"/>
<circle cx="155.0" cy="570.0" r="4" fill="#483D8B"/>
<circle cx="159.0" cy="570.0" r="4" fill="#483D8B"/>
<circle cx="163.0" cy="570.0" r="4" fill="#483D8B"/>
<circle cx="167.0" cy="570.0" r="4" fill="#52B6F5"/>
<circle cx="171.0" cy="570.0" r="4" fill="#52B6F5"/>
<circle cx="175.0" cy="570.0" r="4" fill="#52B6F5"/>
<circle cx="179.0" cy="570.0" r="4" fill="#52B6F5"/>
<circle cx="183.0" cy="570.0" r="4" fill="#52B6F5"/>
<circle cx="187.0" cy="570.0" r="4" fill="#52B6F5"/>
<circle cx="191.0" cy="570.0" r="4" fill="#483D8B"/>
<circle cx="195.0" cy="570.0" r="4" fill="#483D8B"/>
<circle cx="199.0" cy="570.0" r="4" fill="#62C54A"/>
<circle cx="203.0" cy="570.0" r="4" fill="#62C54A"/>
<circle cx="127.0" cy="574.0" r="4" fill="#C0884A"/>
<circle cx="131.0" cy="574.0" r="4" fill="#C0884A"/>
<circle cx="135.0" cy="574.0" r="4" fill="#D4A43C"/>
<circle cx="139.0" cy="574.0" r="4" fill="#D4A43C"/>
<circle cx="143.0" cy="574.0" r="4" fill="#D4A43C"/>
<circle cx="147.0" cy="574.0" r="4" fill="#A4C84E"/>
<circle cx="151.0" cy="574.0" r="4" fill="#A4C84E"/>
<circle cx="155.0" cy="574.0" r="4" fill="#D4A43C"/>
<circle cx="159.0" cy="574.0" r="4" fill="#D4A43C"/>
<circle cx="163.0" cy="574.0" r="4" fill="#D4A43C"/>
<circle cx="167.0" cy="574.0" r="4" fill="#52B6F5"/>
<circle cx="171.0" cy="574.0" r="4" fill="#52B6F5"/>
<circle cx="175.0" cy="574.0" r="4" fill="#52B6F5"/>
<circle cx="179.0" cy="574.0" r="4" fill="#52B6F5"/>
<circle cx="183.0" cy="574.0" r="4" fill="#483D8B"/>
<circle cx="187.0" cy="574.0" r="4" fill="#483D8B"/>
<circle cx="191.0" cy="574.0" r="4" fill="#483D8B"/>
<circle cx="195.0" cy="574.0" r="4" fill="#483D8B"/>
<circle cx="199.0" cy="574.0" r="4" fill="#483D8B"/>
<circle cx="203.0" cy="574.0" r="4" fill="#52B6F5"/>
<circle cx="127.0" cy="578.0" r="4" fill="#C0884A"/>
<circle cx="131.0" cy="578.0" r="4" fill="#C0884A"/>
<circle cx="135.0" cy="578.0" r="4" fill="#C0884A"/>
<circle cx="139.0" cy="578.0" r="4" fill="#D4A43C"/>
<circle cx="143.0" cy="578.0" r="4" fill="#A4C84E"/>
<circle cx="147.0" cy="578.0" r="4" fill="#A4C84E"/>
<circle cx="151.0" cy="578.0" r="4" fill="#A4C84E"/>
<circle cx="155.0" cy="578.0" r="4" fill="#D4A43C"/>
<circle cx="159.0" cy="578.0" r="4" fill="#D4A43C"/>
<circle cx="163.0" cy="578.0" r="4" fill="#D4A43C"/>
<circle cx="167.0" cy="578.0" r="4" fill="#52B6F5"/>
<circle cx="171.0" cy="578.0" r="4" fill="#52B6F5"/>
<circle cx="175.0" cy="578.0" r="4" fill="#4A67D8"/>
<circle cx="179.0" cy="578.0" r="4" fill="#483D8B"/>
<circle cx="183.0" cy="578.0" r="4" fill="#483D8B"/>
<circle cx="187.0" cy="578.0" r="4" fill="#483D8B"/>
<circle cx="191.0" cy="578.0" r="4" fill="#483D8B"/>
<circle cx="195.0" cy="578.0" r="4" fill="#483D8B"/>
<circle cx="199.0" cy="578.0" r="4" fill="#483D8B"/>
<circle cx="203.0" cy="578.0" r="4" fill="#62C54A"/>
<circle cx="207.0" cy="578.0" r="4" fill="#52B6F5"/>
<circle cx="127.0" cy="582.0" r="4" fill="#C0884A"/>
<circle cx="131.0" cy="582.0" r="4" fill="#C0884A"/>
<circle cx="135.0" cy="582.0" r="4" fill="#D4A43C"/>
<circle cx="139.0" cy="582.0" r="4" fill="#D4A43C"/>
<circle cx="143.0" cy="582.0" r="4" fill="#D4A43C"/>
<circle cx="147.0" cy="582.0" r="4" fill="#A4C84E"/>
<circle cx="151.0" cy="582.0" r="4" fill="#A4C84E"/>
<circle cx="155.0" cy="582.0" r="4" fill="#D4A43C"/>
<circle cx="159.0" cy="582.0" r="4" fill="#D4A43C"/>
<circle cx="163.0" cy="582.0" r="4" fill="#52B6F5"/>
<circle cx="167.0" cy="582.0" r="4" fill="#52B6F5"/>
<circle cx="171.0" cy="582.0" r="4" fill="#4A67D8"/>
<circle cx="175.0" cy="582.0" r="4" fill="#4A67D8"/>
<circle cx="179.0" cy="582.0" r="4" fill="#483D8B"/>
<circle cx="183.0" cy="582.0" r="4" fill="#483D8B"/>
<circle cx="187.0" cy="582.0" r="4" fill="#483D8B"/>
<circle cx="191.0" cy="582.0" r="4" fill="#483D8B"/>
<circle cx="195.0" cy="582.0" r="4" fill="#483D8B"/>
<circle cx="199.0" cy="582.0" r="4" fill="#483D8B"/>
<circle cx="203.0" cy="582.0" r="4" fill="#62C54A"/>
<circle cx="207.0" cy="582.0" r="4" fill="#62C54A"/>
<circle cx="127.0" cy="586.0" r="4" fill="#C0884A"/>
<circle cx="131.0" cy="586.0" r="4" fill="#C0884A"/>
<circle cx="135.0" cy="586.0" r="4" fill="#D4A43C"/>
<circle cx="139.0" cy="586.0" r="4" fill="#D4A43C"/>
<circle cx="143.0" cy="586.0" r="4" fill="#FFFF4C"/>
<circle cx="147.0" cy="586.0" r="4" fill="#FFFF4C"/>
<circle cx="151.0" cy="586.0" r="4" fill="#FFFF4C"/>
<circle cx="155.0" cy="586.0" r="4" fill="#483D8B"/>
<circle cx="159.0" cy="586.0" r="4" fill="#483D8B"/>
<circle cx="163.0" cy="586.0" r="4" fill="#483D8B"/>
<circle cx="167.0" cy="586.0" r="4" fill="#52B6F5"/>
<circle cx="171.0" cy="586.0" r="4" fill="#4A67D8"/>
<circle cx="175.0" cy="586.0" r="4" fill="#4A67D8"/>
<circle cx="179.0" cy="586.0" r="4" fill="#4A67D8"/>
<circle cx="183.0" cy="586.0" r="4" fill="#483D8B"/>
<circle cx="187.0" cy="586.0" r="4" fill="#A4C84E"/>
<circle cx="191.0" cy="586.0" r="4" fill="#A4C84E"/>
<circle cx="195.0" cy="586.0" r="4" fill="#483D8B"/>
<circle cx="199.0" cy="586.0" r="4" fill="#483D8B"/>
<circle cx="203.0" cy="586.0" r="4" fill="#62C54A"/>
<circle cx="207.0" cy="586.0" r="4" fill="#62C54A"/>
<circle cx="127.0" cy="590.0" r="4" fill="#C0884A"/>
<circle cx="131.0" cy="590.0" r="4" fill="#C0884A"/>
<circle cx="135.0" cy="590.0" r="4" fill="#D4A43C"/>
<circle cx="139.0" cy="590.0" r="4" fill="#D4A43C"/>
<circle cx="143.0" cy="590.0" r="4" fill="#FFFF4C"/>
<circle cx="147.0" cy="590.0" r="4" fill="#FFFF4C"/>
<circle cx="151.0" cy="590.0" r="4" fill="#FFFF4C"/>
<circle cx="155.0" cy="590.0" r="4" fill="#483D8B"/>
<circle cx="159.0" cy="590.0" r="4" fill="#483D8B"/>
<circle cx="163.0" cy="590.0" r="4" fill="#483D8B"/>
<circle cx="167.0" cy="590.0" r="4" fill="#52B6F5"/>
<circle cx="171.0" cy="590.0" r="4" fill="#52B6F5"/>
<circle cx="175.0" cy="590.0" r="4" fill="#4A67D8"/>
<circle cx="179.0" cy="590.0" r="4" fill="#4A67D8"/>
<circle cx="183.0" cy="590.0" r="4" fill="#4A67D8"/>
<circle cx="187.0" cy="590.0" r="4" fill="#A4C84E"/>
<circle cx="191.0" cy="590.0" r="4" fill="#A4C84E"/>
<circle cx="195.0" cy="590.0" r="4" fill="#A4C84E"/>
<circle cx="199.0" cy="590.0" r="4" fill="#483D8B"/>
<circle cx="203.0" cy="590.0" r="4" fill="#483D8B"/>
<circle cx="207.0" cy="590.0" r="4" fill="#483D8B"/>
<circle cx="211.0" cy="590.0" r="4" fill="#483D8B"/>
<circle cx="127.0" cy="594.0" r="4" fill="#C0884A"/>
<circle cx="131.0" cy="594.0" r="4" fill="#C0884A"/>
<circle cx="135.0" cy="594.0" r="4" fill="#C0884A"/>
<circle cx="139.0" cy="594.0" r="4" fill="#C0884A"/>
<circle cx="143.0" cy="594.0" r="4" fill="#C0884A"/>
<circle cx="147.0" cy="594.0" r="4" fill="#C0884A"/>
<circle cx="151.0" cy="594.0" r="4" fill="#C0884A"/>
<circle cx="155.0" cy="594.0" r="4" fill="#FFFF4C"/>
<circle cx="159.0" cy="594.0" r="4" fill="#FFFF4C"/>
<circle cx="163.0" cy="594.0" r="4" fill="#FFFF4C"/>
<circle cx="167.0" cy="594.0" r="4" fill="#52B6F5"/>
<circle cx="171.0" cy="594.0" r="4" fill="#52B6F5"/>
<circle cx="175.0" cy="594.0" r="4" fill="#4A67D8"/>
<circle cx="179.0" cy="594.0" r="4" fill="#4A67D8"/>
<circle cx="183.0" cy="594.0" r="4" fill="#4A67D8"/>
<circle cx="187.0" cy="594.0" r="4" fill="#A4C84E"/>
<circle cx="191.0" cy="594.0" r="4" fill="#A4C84E"/>
<circle cx="195.0" cy="594.0" r="4" fill="#52B6F5"/>
<circle cx="199.0" cy="594.0" r="4" fill="#52B6F5"/>
<circle cx="203.0" cy="594.0" r="4" fill="#52B6F5"/>
<circle cx="207.0" cy="594.0" r="4" fill="#483D8B"/>
<circle cx="211.0" cy="594.0" r="4" fill="#483D8B"/>
<circle cx="127.0" cy="598.0" r="4" fill="#A4C84E"/>
<circle cx="131.0" cy="598.0" r="4" fill="#A4C84E"/>
<circle cx="135.0" cy="598.0" r="4" fill="#A4C84E"/>
<circle cx="139.0" cy="598.0" r="4" fill="#C0884A"/>
<circle cx="143.0" cy="598.0" r="4" fill="#C0884A"/>
<circle cx="147.0" cy="598.0" r="4" fill="#C0884A"/>
<circle cx="151.0" cy="598.0" r="4" fill="#C0884A"/>
<circle cx="155.0" cy="598.0" r="4" fill="#FFFF4C"/>
<circle cx="159.0" cy="598.0" r="4" fill="#FFFF4C"/>
<circle cx="163.0" cy="598.0" r="4" fill="#FFFF4C"/>
<circle cx="167.0" cy="598.0" r="4" fill="#52B6F5"/>
<circle cx="171.0" cy="598.0" r="4" fill="#52B6F5"/>
<circle cx="175.0" cy="598.0" r="4" fill="#52B6F5"/>
<circle cx="179.0" cy="598.0" r="4" fill="#A4C84E"/>
<circle cx="183.0" cy="598.0" r="4" fill="#A4C84E"/>
<circle cx="187.0" cy="598.0" r="4" fill="#A4C84E"/>
<circle cx="191.0" cy="598.0" r="4" fill="#52B6F5"/>
<circle cx="195.0" cy="598.0" r="4" fill="#52B6F5"/>
<circle cx="199.0" cy="598.0" r="4" fill="#52B6F5"/>
<circle cx="203.0" cy="598.0" r="4" fill="#52B6F5"/>
<circle cx="207.0" cy="598.0" r="4" fill="#483D8B"/>
<circle cx="211.0" cy="598.0" r="4" fill="#483D8B"/>
<circle cx="127.0" cy="602.0" r="4" fill="#A4C84E"/>
<circle cx="131.0" cy="602.0" r="4" fill="#A4C84E"/>
<circle cx="135.0" cy="602.0" r="4" fill="#A4C84E"/>
<circle cx="139.0" cy="602.0" r="4" fill="#C0884A"/>
<circle cx="143.0" cy="602.0" r="4" fill="#C0884A"/>
<circle cx="147.0" cy="602.0" r="4" fill="#C0884A"/>
<circle cx="151.0" cy="602.0" r="4" fill="#C0884A"/>
<circle cx="155.0" cy="602.0" r="4" fill="#FFFF4C"/>
<circle cx="159.0" cy="602.0" r="4" fill="#FFFF4C"/>
<circle cx="163.0" cy="602.0" r="4" fill="#FFFF4C"/>
<circle cx="167.0" cy="602.0" r="4" fill="#52B6F5"/>
<circle cx="171.0" cy="602.0" r="4" fill="#52B6F5"/>
<circle cx="175.0" cy="602.0" r="4" fill="#52B6F5"/>
<circle cx="179.0" cy="602.0" r="4" fill="#A4C84E"/>
<circle cx="183.0" cy="602.0" r="4" fill="#A4C84E"/>
<circle cx="187.0" cy="602.0" r="4" fill="#A4C84E"/>
<circle cx="191.0" cy="602.0" r="4" fill="#52B6F5"/>
<circle cx="195.0" cy="602.0" r="4" fill="#52B6F5"/>
<circle cx="199.0" cy="602.0" r="4" fill="#52B6F5"/>
<circle cx="203.0" cy="602.0" r="4" fill="#483D8B"/>
<circle cx="207.0" cy="602.0" r="4" fill="#483D8B"/>
<circle cx="211.0" cy="602.0" r="4" fill="#483D8B"/>
<circle cx="215.0" cy="602.0" r="4" fill="#483D8B"/>
<circle cx="127.0" cy="606.0" r="4" fill="#D4A43C"/>
<circle cx="131.0" cy="606.0" r="4" fill="#D4A43C"/>
<circle cx="135.0" cy="606.0" r="4" fill="#D4A43C"/>
<circle cx="139.0" cy="606.0" r="4" fill="#D4A43C"/>
<circle cx="143.0" cy="606.0" r="4" fill="#D4A43C"/>
<circle cx="147.0" cy="606.0" r="4" fill="#62C54A"/>
<circle cx="151.0" cy="606.0" r="4" fill="#62C54A"/>
<circle cx="155.0" cy="606.0" r="4" fill="#62C54A"/>
<circle cx="159.0" cy="606.0" r="4" fill="#62C54A"/>
<circle cx="163.0" cy="606.0" r="4" fill="#FFFF4C"/>
<circle cx="167.0" cy="606.0" r="4" fill="#4A67D8"/>
<circle cx="171.0" cy="606.0" r="4" fill="#4A67D8"/>
<circle cx="175.0" cy="606.0" r="4" fill="#52B6F5"/>
<circle cx="179.0" cy="606.0" r="4" fill="#A4C84E"/>
<circle cx="183.0" cy="606.0" r="4" fill="#A4C84E"/>
<circle cx="187.0" cy="606.0" r="4" fill="#A4C84E"/>
<circle cx="191.0" cy="606.0" r="4" fill="#52B6F5"/>
<circle cx="195.0" cy="606.0" r="4" fill="#A4C84E"/>
<circle cx="199.0" cy="606.0" r="4" fill="#A4C84E"/>
<circle cx="203.0" cy="606.0" r="4" fill="#A4C84E"/>
<circle cx="207.0" cy="606.0" r="4" fill="#483D8B"/>
<circle cx="211.0" cy="606.0" r="4" fill="#483D8B"/>
<circle cx="215.0" cy="606.0" r="4" fill="#483D8B"/>
<circle cx="127.0" cy="610.0" r="4" fill="#D4A43C"/>
<circle cx="131.0" cy="610.0" r="4" fill="#D4A43C"/>
<circle cx="135.0" cy="610.0" r="4" fill="#D4A43C"/>
<circle cx="139.0" cy="610.0" r="4" fill="#D4A43C"/>
<circle cx="143.0" cy="610.0" r="4" fill="#D4A43C"/>
<circle cx="147.0" cy="610.0" r="4" fill="#D4A43C"/>
<circle cx="151.0" cy="610.0" r="4" fill="#62C54A"/>
<circle cx="155.0" cy="610.0" r="4" fill="#62C54A"/>
<circle cx="159.0" cy="610.0" r="4" fill="#62C54A"/>
<circle cx="163.0" cy="610.0" r="4" fill="#4A67D8"/>
<circle cx="167.0" cy="610.0" r="4" fill="#4A67D8"/>
<circle cx="171.0" cy="610.0" r="4" fill="#4A67D8"/>
<circle cx="175.0" cy="610.0" r="4" fill="#52B6F5"/>
<circle cx="179.0" cy="610.0" r="4" fill="#52B6F5"/>
<circle cx="183.0" cy="610.0" r="4" fill="#52B6F5"/>
<circle cx="187.0" cy="610.0" r="4" fill="#52B6F5"/>
<circle cx="191.0" cy="610.0" r="4" fill="#A4C84E"/>
<circle cx="195.0" cy="610.0" r="4" fill="#A4C84E"/>
<circle cx="199.0" cy="610.0" r="4" fill="#A4C84E"/>
<circle cx="203.0" cy="610.0" r="4" fill="#A4C84E"/>
<circle cx="207.0" cy="610.0" r="4" fill="#483D8B"/>
<circle cx="211.0" cy="610.0" r="4" fill="#483D8B"/>
<circle cx="215.0" cy="610.0" r="4" fill="#483D8B"/>
<circle cx="127.0" cy="614.0" r="4" fill="#D4A43C"/>
<circle cx="131.0" cy="614.0" r="4" fill="#D4A43C"/>
<circle cx="135.0" cy="614.0" r="4" fill="#D4A43C"/>
<circle cx="139.0" cy="614.0" r="4" fill="#D4A43C"/>
<circle cx="143.0" cy="614.0" r="4" fill="#D4A43C"/>
<circle cx="147.0" cy="614.0" r="4" fill="#D4A43C"/>
<circle cx="151.0" cy="614.0" r="4" fill="#62C54A"/>
<circle cx="155.0" cy="614.0" r="4" fill="#62C54A"/>
<circle cx="159.0" cy="614.0" r="4" fill="#FFFF4C"/>
<circle cx="163.0" cy="614.0" r="4" fill="#FFFF4C"/>
<circle cx="167.0" cy="614.0" r="4" fill="#4A67D8"/>
<circle cx="171.0" cy="614.0" r="4" fill="#4A67D8"/>
<circle cx="175.0" cy="614.0" r="4" fill="#52B6F5"/>
<circle cx="179.0" cy="614.0" r="4" fill="#52B6F5"/>
<circle cx="183.0" cy="614.0" r="4" fill="#52B6F5"/>
<circle cx="187.0" cy="614.0" r="4" fill="#52B6F5"/>
<circle cx="191.0" cy="614.0" r="4" fill="#52B6F5"/>
<circle cx="195.0" cy="614.0" r="4" fill="#62C54A"/>
<circle cx="199.0" cy="614.0" r="4" fill="#62C54A"/>
<circle cx="203.0" cy="614.0" r="4" fill="#62C54A"/>
<circle cx="207.0" cy="614.0" r="4" fill="#483D8B"/>
<circle cx="211.0" cy="614.0" r="4" fill="#52B6F5"/>
<circle cx="215.0" cy="614.0" r="4" fill="#52B6F5"/>
<circle cx="127.0" cy="618.0" r="4" fill="#D4A43C"/>
<circle cx="131.0" cy="618.0" r="4" fill="#D4A43C"/>
<circle cx="135.0" cy="618.0" r="4" fill="#FFFF4C"/>
<circle cx="139.0" cy="618.0" r="4" fill="#FFFF4C"/>
<circle cx="143.0" cy="618.0" r="4" fill="#FFFF4C"/>
<circle cx="147.0" cy="618.0" r="4" fill="#D4A43C"/>
<circle cx="151.0" cy="618.0" r="4" fill="#62C54A"/>
<circle cx="155.0" cy="618.0" r="4" fill="#FFFF4C"/>
<circle cx="159.0" cy="618.0" r="4" fill="#FFFF4C"/>
<circle cx="163.0" cy="618.0" r="4" fill="#FFFF4C"/>
<circle cx="167.0" cy="618.0" r="4" fill="#4A67D8"/>
<circle cx="171.0" cy="618.0" r="4" fill="#4A67D8"/>
<circle cx="175.0" cy="618.0" r="4" fill="#52B6F5"/>
<circle cx="179.0" cy="618.0" r="4" fill="#52B6F5"/>
<circle cx="183.0" cy="618.0" r="4" fill="#52B6F5"/>
<circle cx="187.0" cy="618.0" r="4" fill="#52B6F5"/>
<circle cx="191.0" cy="618.0" r="4" fill="#62C54A"/>
<circle cx="195.0" cy="618.0" r="4" fill="#52B6F5"/>
<circle cx="199.0" cy="618.0" r="4" fill="#52B6F5"/>
<circle cx="203.0" cy="618.0" r="4" fill="#62C54A"/>
<circle cx="207.0" cy="618.0" r="4" fill="#62C54A"/>
<circle cx="211.0" cy="618.0" r="4" fill="#52B6F5"/>
<circle cx="215.0" cy="618.0" r="4" fill="#52B6F5"/>
<circle cx="219.0" cy="618.0" r="4" fill="#483D8B"/>
<circle cx="127.0" cy="622.0" r="4" fill="#483D8B"/>
<circle cx="131.0" cy="622.0" r="4" fill="#483D8B"/>
<circle cx="135.0" cy="622.0" r="4" fill="#FFFF4C"/>
<circle cx="139.0" cy="622.0" r="4" fill="#FFFF4C"/>
<circle cx="143.0" cy="622.0" r="4" fill="#FFFF4C"/>
<circle cx="147.0" cy="622.0" r="4" fill="#FFFF4C"/>
<circle cx="151.0" cy="622.0" r="4" fill="#A4C84E"/>
<circle cx="155.0" cy="622.0" r="4" fill="#FFFF4C"/>
<circle cx="159.0" cy="622.0" r="4" fill="#52B6F5"/>
<circle cx="163.0" cy="622.0" r="4" fill="#52B6F5"/>
<circle cx="167.0" cy="622.0" r="4" fill="#52B6F5"/>
<circle cx="171.0" cy="622.0" r="4" fill="#FFFF4C"/>
<circle cx="175.0" cy="622.0" r="4" fill="#FFFF4C"/>
<circle cx="179.0" cy="622.0" r="4" fill="#FFFF4C"/>
<circle cx="183.0" cy="622.0" r="4" fill="#52B6F5"/>
<circle cx="187.0" cy="622.0" r="4" fill="#62C54A"/>
<circle cx="191.0" cy="622.0" r="4" fill="#62C54A"/>
<circle cx="195.0" cy="622.0" r="4" fill="#52B6F5"/>
<circle cx="199.0" cy="622.0" r="4" fill="#52B6F5"/>
<circle cx="203.0" cy="622.0" r="4" fill="#52B6F5"/>
<circle cx="207.0" cy="622.0" r="4" fill="#52B6F5"/>
<circle cx="211.0" cy="622.0" r="4" fill="#52B6F5"/>
<circle cx="215.0" cy="622.0" r="4" fill="#52B6F5"/>
<circle cx="219.0" cy="622.0" r="4" fill="#483D8B"/>
<circle cx="127.0" cy="626.0" r="4" fill="#483D8B"/>
<circle cx="131.0" cy="626.0" r="4" fill="#483D8B"/>
<circle cx="135.0" cy="626.0" r="4" fill="#C0884A"/>
<circle cx="139.0" cy="626.0" r="4" fill="#C0884A"/>
<circle cx="143.0" cy="626.0" r="4" fill="#C0884A"/>
<circle cx="147.0" cy="626.0" r="4" fill="#A4C84E"/>
<circle cx="151.0" cy="626.0" r="4" fill="#A4C84E"/>
<circle cx="155.0" cy="626.0" r="4" fill="#A4C84E"/>
<circle cx="159.0" cy="626.0" r="4" fill="#52B6F5"/>
<circle cx="163.0" cy="626.0" r="4" fill="#52B6F5"/>
<circle cx="167.0" cy="626.0" r="4" fill="#52B6F5"/>
<circle cx="171.0" cy="626.0" r="4" fill="#FFFF4C"/>
<circle cx="175.0" cy="626.0" r="4" fill="#FFFF4C"/>
<circle cx="179.0" cy="626.0" r="4" fill="#FFFF4C"/>
<circle cx="183.0" cy="626.0" r="4" fill="#FFFF4C"/>
<circle cx="187.0" cy="626.0" r="4" fill="#62C54A"/>
<circle cx="191.0" cy="626.0" r="4" fill="#62C54A"/>
<circle cx="195.0" cy="626.0" r="4" fill="#62C54A"/>
<circle cx="199.0" cy="626.0" r="4" fill="#52B6F5"/>
<circle cx="203.0" cy="626.0" r="4" fill="#52B6F5"/>
<circle cx="207.0" cy="626.0" r="4" fill="#52B6F5"/>
<circle cx="211.0" cy="626.0" r="4" fill="#52B6F5"/>
<circle cx="215.0" cy="626.0" r="4" fill="#52B6F5"/>
<circle cx="219.0" cy="626.0" r="4" fill="#52B6F5"/>
<circle cx="127.0" cy="630.0" r="4" fill="#A4C84E"/>
<circle cx="131.0" cy="630.0" r="4" fill="#A4C84E"/>
<circle cx="135.0" cy="630.0" r="4" fill="#C0884A"/>
<circle cx="139.0" cy="630.0" r="4" fill="#C0884A"/>
<circle cx="143.0" cy="630.0" r="4" fill="#C0884A"/>
<circle cx="147.0" cy="630.0" r="4" fill="#A4C84E"/>
<circle cx="151.0" cy="630.0" r="4" fill="#A4C84E"/>
<circle cx="155.0" cy="630.0" r="4" fill="#A4C84E"/>
<circle cx="159.0" cy="630.0" r="4" fill="#A4C84E"/>
<circle cx="163.0" cy="630.0" r="4" fill="#A4C84E"/>
<circle cx="167.0" cy="630.0" r="4" fill="#A4C84E"/>
<circle cx="171.0" cy="630.0" r="4" fill="#FFFF4C"/>
<circle cx="175.0" cy="630.0" r="4" fill="#FFFF4C"/>
<circle cx="179.0" cy="630.0" r="4" fill="#FFFF4C"/>
<circle cx="183.0" cy="630.0" r="4" fill="#FFFF4C"/>
<circle cx="187.0" cy="630.0" r="4" fill="#62C54A"/>
<circle cx="191.0" cy="630.0" r="4" fill="#62C54A"/>
<circle cx="195.0" cy="630.0" r="4" fill="#62C54A"/>
<circle cx="199.0" cy="630.0" r="4" fill="#52B6F5"/>
<circle cx="203.0" cy="630.0" r="4" fill="#52B6F5"/>
<circle cx="207.0" cy="630.0" r="4" fill="#52B6F5"/>
<circle cx="211.0" cy="630.0" r="4" fill="#52B6F5"/>
<circle cx="215.0" cy="630.0" r="4" fill="#52B6F5"/>
<circle cx="219.0" cy="630.0" r="4" fill="#52B6F5"/>
<circle cx="223.0" cy="630.0" r="4" fill="#4A67D8"/>
<circle cx="127.0" cy="634.0" r="4" fill="#A4C84E"/>
<circle cx="131.0" cy="634.0" r="4" fill="#A4C84E"/>
<circle cx="135.0" cy="634.0" r="4" fill="#C0884A"/>
<circle cx="139.0" cy="634.0" r="4" fill="#C0884A"/>
<circle cx="143.0" cy="634.0" r="4" fill="#D4A43C"/>
<circle cx="147.0" cy="634.0" r="4" fill="#A4C84E"/>
<circle cx="151.0" cy="634.0" r="4" fill="#A4C84E"/>
<circle cx="155.0" cy="634.0" r="4" fill="#A4C84E"/>
<circle cx="159.0" cy="634.0" r="4" fill="#A4C84E"/>
<circle cx="163.0" cy="634.0" r="4" fill="#A4C84E"/>
<circle cx="167.0" cy="634.0" r="4" fill="#52B6F5"/>
<circle cx="171.0" cy="634.0" r="4" fill="#52B6F5"/>
<circle cx="175.0" cy="634.0" r="4" fill="#4A67D8"/>
<circle cx="179.0" cy="634.0" r="4" fill="#4A67D8"/>
<circle cx="183.0" cy="634.0" r="4" fill="#4A67D8"/>
<circle cx="187.0" cy="634.0" r="4" fill="#62C54A"/>
<circle cx="191.0" cy="634.0" r="4" fill="#62C54A"/>
<circle cx="195.0" cy="634.0" r="4" fill="#62C54A"/>
<circle cx="199.0" cy="634.0" r="4" fill="#62C54A"/>
<circle cx="203.0" cy="634.0" r="4" fill="#483D8B"/>
<circle cx="207.0" cy="634.0" r="4" fill="#483D8B"/>
<circle cx="211.0" cy="634.0" r="4" fill="#52B6F5"/>
<circle cx="215.0" cy="634.0" r="4" fill="#52B6F5"/>
<circle cx="219.0" cy="634.0" r="4" fill="#52B6F5"/>
<circle cx="223.0" cy="634.0" r="4" fill="#4A67D8"/>
<circle cx="127.0" cy="638.0" r="4" fill="#A4C84E"/>
<circle cx="131.0" cy="638.0" r="4" fill="#A4C84E"/>
<circle cx="135.0" cy="638.0" r="4" fill="#D4A43C"/>
<circle cx="139.0" cy="638.0" r="4" fill="#D4A43C"/>
<circle cx="143.0" cy="638.0" r="4" fill="#D4A43C"/>
<circle cx="147.0" cy="638.0" r="4" fill="#FFFF4C"/>
<circle cx="151.0" cy="638.0" r="4" fill="#FFFF4C"/>
<circle cx="155.0" cy="638.0" r="4" fill="#FFFF4C"/>
<circle cx="159.0" cy="638.0" r="4" fill="#A4C84E"/>
<circle cx="163.0" cy="638.0" r="4" fill="#52B6F5"/>
<circle cx="167.0" cy="638.0" r="4" fill="#52B6F5"/>
<circle cx="171.0" cy="638.0" r="4" fill="#52B6F5"/>
<circle cx="175.0" cy="638.0" r="4" fill="#4A67D8"/>
<circle cx="179.0" cy="638.0" r="4" fill="#4A67D8"/>
<circle cx="183.0" cy="638.0" r="4" fill="#4A67D8"/>
<circle cx="187.0" cy="638.0" r="4" fill="#62C54A"/>
<circle cx="191.0" cy="638.0" r="4" fill="#62C54A"/>
<circle cx="195.0" cy="638.0" r="4" fill="#62C54A"/>
<circle cx="199.0" cy="638.0" r="4" fill="#62C54A"/>
<circle cx="203.0" cy="638.0" r="4" fill="#483D8B"/>
<circle cx="207.0" cy="638.0" r="4" fill="#483D8B"/>
<circle cx="211.0" cy="638.0" r="4" fill="#483D8B"/>
<circle cx="215.0" cy="638.0" r="4" fill="#483D8B"/>
<circle cx="219.0" cy="638.0" r="4" fill="#62C54A"/>
<circle cx="223.0" cy="638.0" r="4" fill="#4A67D8"/>
<circle cx="227.0" cy="638.0" r="4" fill="#4A67D8"/>
<circle cx="127.0" cy="642.0" r="4" fill="#A4C84E"/>
<circle cx="131.0" cy="642.0" r="4" fill="#A4C84E"/>
<circle cx="135.0" cy="642.0" r="4" fill="#D4A43C"/>
<circle cx="139.0" cy="642.0" r="4" fill="#D4A43C"/>
<circle cx="143.0" cy="642.0" r="4" fill="#A4C84E"/>
<circle cx="147.0" cy="642.0" r="4" fill="#A4C84E"/>
<circle cx="151.0" cy="642.0" r="4" fill="#FFFF4C"/>
<circle cx="155.0" cy="642.0" r="4" fill="#FFFF4C"/>
<circle cx="159.0" cy="642.0" r="4" fill="#FFFF4C"/>
<circle cx="163.0" cy="642.0" r="4" fill="#52B6F5"/>
<circle cx="167.0" cy="642.0" r="4" fill="#52B6F5"/>
<circle cx="171.0" cy="642.0" r="4" fill="#52B6F5"/>
<circle cx="175.0" cy="642.0" r="4" fill="#4A67D8"/>
<circle cx="179.0" cy="642.0" r="4" fill="#4A67D8"/>
<circle cx="183.0" cy="642.0" r="4" fill="#4A67D8"/>
<circle cx="187.0" cy="642.0" r="4" fill="#A4C84E"/>
<circle cx="191.0" cy="642.0" r="4" fill="#A4C84E"/>
<circle cx="195.0" cy="642.0" r="4" fill="#62C54A"/>
<circle cx="199.0" cy="642.0" r="4" fill="#62C54A"/>
<circle cx="203.0" cy="642.0" r="4" fill="#483D8B"/>
<circle cx="207.0" cy="642.0" r="4" fill="#483D8B"/>
<circle cx="211.0" cy="642.0" r="4" fill="#A4C84E"/>
<circle cx="215.0" cy="642.0" r="4" fill="#62C54A"/>
<circle cx="219.0" cy="642.0" r="4" fill="#62C54A"/>
<circle cx="223.0" cy="642.0" r="4" fill="#52B6F5"/>
<circle cx="227.0" cy="642.0" r="4" fill="#52B6F5"/>
<circle cx="127.0" cy="646.0" r="4" fill="#A4C84E"/>
<circle cx="131.0" cy="646.0" r="4" fill="#A4C84E"/>
<circle cx="135.0" cy="646.0" r="4" fill="#A4C84E"/>
<circle cx="139.0" cy="646.0" r="4" fill="#A4C84E"/>
<circle cx="143.0" cy="646.0" r="4" fill="#A4C84E"/>
<circle cx="147.0" cy="646.0" r="4" fill="#A4C84E"/>
<circle cx="151.0" cy="646.0" r="4" fill="#52B6F5"/>
<circle cx="155.0" cy="646.0" r="4" fill="#52B6F5"/>
<circle cx="159.0" cy="646.0" r="4" fill="#A4C84E"/>
<circle cx="163.0" cy="646.0" r="4" fill="#A4C84E"/>
<circle cx="167.0" cy="646.0" r="4" fill="#A4C84E"/>
<circle cx="171.0" cy="646.0" r="4" fill="#A4C84E"/>
<circle cx="175.0" cy="646.0" r="4" fill="#A4C84E"/>
<circle cx="179.0" cy="646.0" r="4" fill="#A4C84E"/>
<circle cx="183.0" cy="646.0" r="4" fill="#A4C84E"/>
<circle cx="187.0" cy="646.0" r="4" fill="#A4C84E"/>
<circle cx="191.0" cy="646.0" r="4" fill="#A4C84E"/>
<circle cx="195.0" cy="646.0" r="4" fill="#A4C84E"/>
<circle cx="199.0" cy="646.0" r="4" fill="#A4C84E"/>
<circle cx="203.0" cy="646.0" r="4" fill="#62C54A"/>
<circle cx="207.0" cy="646.0" r="4" fill="#A4C84E"/>
<circle cx="211.0" cy="646.0" r="4" fill="#A4C84E"/>
<circle cx="215.0" cy="646.0" r="4" fill="#62C54A"/>
<circle cx="219.0" cy="646.0" r="4" fill="#62C54A"/>
<circle cx="223.0" cy="646.0" r="4" fill="#52B6F5"/>
<circle cx="227.0" cy="646.0" r="4" fill="#52B6F5"/>
<circle cx="231.0" cy="646.0" r="4" fill="#52B6F5"/>
<circle cx="127.0" cy="650.0" r="4" fill="#A4C84E"/>
<circle cx="131.0" cy="650.0" r="4" fill="#A4C84E"/>
<circle cx="135.0" cy="650.0" r="4" fill="#A4C84E"/>
<circle cx="139.0" cy="650.0" r="4" fill="#A4C84E"/>
<circle cx="143.0" cy="650.0" r="4" fill="#A4C84E"/>
<circle cx="147.0" cy="650.0" r="4" fill="#52B6F5"/>
<circle cx="151.0" cy="650.0" r="4" fill="#52B6F5"/>
<circle cx="155.0" cy="650.0" r="4" fill="#52B6F5"/>
<circle cx="159.0" cy="650.0" r="4" fill="#A4C84E"/>
<circle cx="163.0" cy="650.0" r="4" fill="#A4C84E"/>
<circle cx="167.0" cy="650.0" r="4" fill="#A4C84E"/>
<circle cx="171.0" cy="650.0" r="4" fill="#A4C84E"/>
<circle cx="175.0" cy="650.0" r="4" fill="#A4C84E"/>
<circle cx="179.0" cy="650.0" r="4" fill="#A4C84E"/>
<circle cx="183.0" cy="650.0" r="4" fill="#A4C84E"/>
<circle cx="187.0" cy="650.0" r="4" fill="#A4C84E"/>
<circle cx="191.0" cy="650.0" r="4" fill="#A4C84E"/>
<circle cx="195.0" cy="650.0" r="4" fill="#A4C84E"/>
<circle cx="199.0" cy="650.0" r="4" fill="#62C54A"/>
<circle cx="203.0" cy="650.0" r="4" fill="#62C54A"/>
<circle cx="207.0" cy="650.0" r="4" fill="#62C54A"/>
<circle cx="211.0" cy="650.0" r="4" fill="#A4C84E"/>
<circle cx="215.0" cy="650.0" r="4" fill="#52B6F5"/>
<circle cx="219.0" cy="650.0" r="4" fill="#52B6F5"/>
<circle cx="223.0" cy="650.0" r="4" fill="#52B6F5"/>
<circle cx="227.0" cy="650.0" r="4" fill="#52B6F5"/>
<circle cx="231.0" cy="650.0" r="4" fill="#52B6F5"/>
<circle cx="127.0" cy="654.0" r="4" fill="#A4C84E"/>
<circle cx="131.0" cy="654.0" r="4" fill="#A4C84E"/>
<circle cx="135.0" cy="654.0" r="4" fill="#A4C84E"/>
<circle cx="139.0" cy="654.0" r="4" fill="#A4C84E"/>
<circle cx="143.0" cy="654.0" r="4" fill="#A4C84E"/>
<circle cx="147.0" cy="654.0" r="4" fill="#A4C84E"/>
<circle cx="151.0" cy="654.0" r="4" fill="#52B6F5"/>
<circle cx="155.0" cy="654.0" r="4" fill="#52B6F5"/>
<circle cx="159.0" cy="654.0" r="4" fill="#A4C84E"/>
<circle cx="163.0" cy="654.0" r="4" fill="#A4C84E"/>
<circle cx="167.0" cy="654.0" r="4" fill="#A4C84E"/>
<circle cx="171.0" cy="654.0" r="4" fill="#A4C84E"/>
<circle cx="175.0" cy="654.0" r="4" fill="#A4C84E"/>
<circle cx="179.0" cy="654.0" r="4" fill="#A4C84E"/>
<circle cx="183.0" cy="654.0" r="4" fill="#A4C84E"/>
<circle cx="187.0" cy="654.0" r="4" fill="#A4C84E"/>
<circle cx="191.0" cy="654.0" r="4" fill="#A4C84E"/>
<circle cx="195.0" cy="654.0" r="4" fill="#A4C84E"/>
<circle cx="199.0" cy="654.0" r="4" fill="#62C54A"/>
<circle cx="203.0" cy="654.0" r="4" fill="#62C54A"/>
<circle cx="207.0" cy="654.0" r="4" fill="#62C54A"/>
<circle cx="211.0" cy="654.0" r="4" fill="#483D8B"/>
<circle cx="215.0" cy="654.0" r="4" fill="#483D8B"/>
<circle cx="219.0" cy="654.0" r="4" fill="#52B6F5"/>
<circle cx="223.0" cy="654.0" r="4" fill="#52B6F5"/>
<circle cx="227.0" cy="654.0" r="4" fill="#52B6F5"/>
<circle cx="231.0" cy="654.0" r="4" fill="#52B6F5"/>
<circle cx="235.0" cy="654.0" r="4" fill="#52B6F5"/>
<circle cx="127.0" cy="658.0" r="4" fill="#A4C84E"/>
<circle cx="131.0" cy="658.0" r="4" fill="#A4C84E"/>
<circle cx="135.0" cy="658.0" r="4" fill="#52B6F5"/>
<circle cx="139.0" cy="658.0" r="4" fill="#52B6F5"/>
<circle cx="143.0" cy="658.0" r="4" fill="#A4C84E"/>
<circle cx="147.0" cy="658.0" r="4" fill="#A4C84E"/>
<circle cx="151.0" cy="658.0" r="4" fill="#52B6F5"/>
<circle cx="155.0" cy="658.0" r="4" fill="#62C54A"/>
<circle cx="159.0" cy="658.0" r="4" fill="#62C54A"/>
<circle cx="163.0" cy="658.0" r="4" fill="#62C54A"/>
<circle cx="167.0" cy="658.0" r="4" fill="#A4C84E"/>
<circle cx="171.0" cy="658.0" r="4" fill="#A4C84E"/>
<circle cx="175.0" cy="658.0" r="4" fill="#4A67D8"/>
<circle cx="179.0" cy="658.0" r="4" fill="#4A67D8"/>
<circle cx="183.0" cy="658.0" r="4" fill="#4A67D8"/>
<circle cx="187.0" cy="658.0" r="4" fill="#483D8B"/>
<circle cx="191.0" cy="658.0" r="4" fill="#483D8B"/>
<circle cx="195.0" cy="658.0" r="4" fill="#483D8B"/>
<circle cx="199.0" cy="658.0" r="4" fill="#62C54A"/>
<circle cx="203.0" cy="658.0" r="4" fill="#62C54A"/>
<circle cx="207.0" cy="658.0" r="4" fill="#483D8B"/>
<circle cx="211.0" cy="658.0" r="4" fill="#483D8B"/>
<circle cx="215.0" cy="658.0" r="4" fill="#483D8B"/>
<circle cx="219.0" cy="658.0" r="4" fill="#52B6F5"/>
<circle cx="223.0" cy="658.0" r="4" fill="#52B6F5"/>
<circle cx="227.0" cy="658.0" r="4" fill="#52B6F5"/>
<circle cx="231.0" cy="658.0" r="4" fill="#52B6F5"/>
<circle cx="235.0" cy="658.0" r="4" fill="#4A67D8"/>
<circle cx="127.0" cy="662.0" r="4" fill="#A4C84E"/>
<circle cx="131.0" cy="662.0" r="4" fill="#A4C84E"/>
<circle cx="135.0" cy="662.0" r="4" fill="#52B6F5"/>
<circle cx="139.0" cy="662.0" r="4" fill="#52B6F5"/>
<circle cx="143.0" cy="662.0" r="4" fill="#52B6F5"/>
<circle cx="147.0" cy="662.0" r="4" fill="#52B6F5"/>
<circle cx="151.0" cy="662.0" r="4" fill="#52B6F5"/>
<circle cx="155.0" cy="662.0" r="4" fill="#62C54A"/>
<circle cx="159.0" cy="662.0" r="4" fill="#62C54A"/>
<circle cx="163.0" cy="662.0" r="4" fill="#62C54A"/>
<circle cx="167.0" cy="662.0" r="4" fill="#A4C84E"/>
<circle cx="171.0" cy="662.0" r="4" fill="#A4C84E"/>
<circle cx="175.0" cy="662.0" r="4" fill="#4A67D8"/>
<circle cx="179.0" cy="662.0" r="4" fill="#4A67D8"/>
<circle cx="183.0" cy="662.0" r="4" fill="#4A67D8"/>
<circle cx="187.0" cy="662.0" r="4" fill="#483D8B"/>
<circle cx="191.0" cy="662.0" r="4" fill="#483D8B"/>
<circle cx="195.0" cy="662.0" r="4" fill="#483D8B"/>
<circle cx="199.0" cy="662.0" r="4" fill="#483D8B"/>
<circle cx="203.0" cy="662.0" r="4" fill="#483D8B"/>
<circle cx="207.0" cy="662.0" r="4" fill="#4A67D8"/>
<circle cx="211.0" cy="662.0" r="4" fill="#4A67D8"/>
<circle cx="215.0" cy="662.0" r="4" fill="#4A67D8"/>
<circle cx="219.0" cy="662.0" r="4" fill="#52B6F5"/>
<circle cx="223.0" cy="662.0" r="4" fill="#52B6F5"/>
<circle cx="227.0" cy="662.0" r="4" fill="#52B6F5"/>
<circle cx="231.0" cy="662.0" r="4" fill="#4A67D8"/>
<circle cx="235.0" cy="662.0" r="4" fill="#4A67D8"/>
<circle cx="239.0" cy="662.0" r="4" fill="#4A67D8"/>
<circle cx="127.0" cy="666.0" r="4" fill="#A4C84E"/>
<circle cx="131.0" cy="666.0" r="4" fill="#A4C84E"/>
<circle cx="135.0" cy="666.0" r="4" fill="#52B6F5"/>
<circle cx="139.0" cy="666.0" r="4" fill="#52B6F5"/>
<circle cx="143.0" cy="666.0" r="4" fill="#C0884A"/>
<circle cx="147.0" cy="666.0" r="4" fill="#52B6F5"/>
<circle cx="151.0" cy="666.0" r="4" fill="#52B6F5"/>
<circle cx="155.0" cy="666.0" r="4" fill="#62C54A"/>
<circle cx="159.0" cy="666.0" r="4" fill="#62C54A"/>
<circle cx="163.0" cy="666.0" r="4" fill="#A4C84E"/>
<circle cx="167.0" cy="666.0" r="4" fill="#A4C84E"/>
<circle cx="171.0" cy="666.0" r="4" fill="#A4C84E"/>
<circle cx="175.0" cy="666.0" r="4" fill="#4A67D8"/>
<circle cx="179.0" cy="666.0" r="4" fill="#4A67D8"/>
<circle cx="183.0" cy="666.0" r="4" fill="#4A67D8"/>
<circle cx="187.0" cy="666.0" r="4" fill="#483D8B"/>
<circle cx="191.0" cy="666.0" r="4" fill="#483D8B"/>
<circle cx="195.0" cy="666.0" r="4" fill="#483D8B"/>
<circle cx="199.0" cy="666.0" r="4" fill="#483D8B"/>
<circle cx="203.0" cy="666.0" r="4" fill="#483D8B"/>
<circle cx="207.0" cy="666.0" r="4" fill="#4A67D8"/>
<circle cx="211.0" cy="666.0" r="4" fill="#4A67D8"/>
<circle cx="215.0" cy="666.0" r="4" fill="#4A67D8"/>
<circle cx="219.0" cy="666.0" r="4" fill="#52B6F5"/>
<circle cx="223.0" cy="666.0" r="4" fill="#52B6F5"/>
<circle cx="227.0" cy="666.0" r="4" fill="#52B6F5"/>
<circle cx="231.0" cy="666.0" r="4" fill="#4A67D8"/>
<circle cx="235.0" cy="666.0" r="4" fill="#4A67D8"/>
<circle cx="239.0" cy="666.0" r="4" fill="#4A67D8"/>
<circle cx="127.0" cy="670.0" r="4" fill="#A4C84E"/>
<circle cx="131.0" cy="670.0" r="4" fill="#A4C84E"/>
<circle cx="135.0" cy="670.0" r="4" fill="#A4C84E"/>
<circle cx="139.0" cy="670.0" r="4" fill="#D4A43C"/>
<circle cx="143.0" cy="670.0" r="4" fill="#C0884A"/>
<circle cx="147.0" cy="670.0" r="4" fill="#C0884A"/>
<circle cx="151.0" cy="670.0" r="4" fill="#C0884A"/>
<circle cx="155.0" cy="670.0" r="4" fill="#4A67D8"/>
<circle cx="159.0" cy="670.0" r="4" fill="#4A67D8"/>
<circle cx="163.0" cy="670.0" r="4" fill="#A4C84E"/>
<circle cx="167.0" cy="670.0" r="4" fill="#A4C84E"/>
<circle cx="171.0" cy="670.0" r="4" fill="#A4C84E"/>
<circle cx="175.0" cy="670.0" r="4" fill="#4A67D8"/>
<circle cx="179.0" cy="670.0" r="4" fill="#4A67D8"/>
<circle cx="183.0" cy="670.0" r="4" fill="#4A67D8"/>
<circle cx="187.0" cy="670.0" r="4" fill="#483D8B"/>
<circle cx="191.0" cy="670.0" r="4" fill="#483D8B"/>
<circle cx="195.0" cy="670.0" r="4" fill="#483D8B"/>
<circle cx="199.0" cy="670.0" r="4" fill="#483D8B"/>
<circle cx="203.0" cy="670.0" r="4" fill="#483D8B"/>
<circle cx="207.0" cy="670.0" r="4" fill="#4A67D8"/>
<circle cx="211.0" cy="670.0" r="4" fill="#4A67D8"/>
<circle cx="215.0" cy="670.0" r="4" fill="#4A67D8"/>
<circle cx="219.0" cy="670.0" r="4" fill="#4A67D8"/>
<circle cx="223.0" cy="670.0" r="4" fill="#52B6F5"/>
<circle cx="227.0" cy="670.0" r="4" fill="#483D8B"/>
<circle cx="231.0" cy="670.0" r="4" fill="#483D8B"/>
<circle cx="235.0" cy="670.0" r="4" fill="#4A67D8"/>
<circle cx="239.0" cy="670.0" r="4" fill="#483D8B"/>
<circle cx="243.0" cy="670.0" r="4" fill="#483D8B"/>
<circle cx="127.0" cy="674.0" r="4" fill="#62C54A"/>
<circle cx="131.0" cy="674.0" r="4" fill="#62C54A"/>
<circle cx="135.0" cy="674.0" r="4" fill="#D4A43C"/>
<circle cx="139.0" cy="674.0" r="4" fill="#D4A43C"/>
<circle cx="143.0" cy="674.0" r="4" fill="#D4A43C"/>
<circle cx="147.0" cy="674.0" r="4" fill="#C0884A"/>
<circle cx="151.0" cy="674.0" r="4" fill="#C0884A"/>
<circle cx="155.0" cy="674.0" r="4" fill="#4A67D8"/>
<circle cx="159.0" cy="674.0" r="4" fill="#4A67D8"/>
<circle cx="163.0" cy="674.0" r="4" fill="#4A67D8"/>
<circle cx="167.0" cy="674.0" r="4" fill="#A4C84E"/>
<circle cx="171.0" cy="674.0" r="4" fill="#A4C84E"/>
<circle cx="175.0" cy="674.0" r="4" fill="#A4C84E"/>
<circle cx="179.0" cy="674.0" r="4" fill="#62C54A"/>
<circle cx="183.0" cy="674.0" r="4" fill="#62C54A"/>
<circle cx="187.0" cy="674.0" r="4" fill="#483D8B"/>
<circle cx="191.0" cy="674.0" r="4" fill="#483D8B"/>
<circle cx="195.0" cy="674.0" r="4" fill="#483D8B"/>
<circle cx="199.0" cy="674.0" r="4" fill="#D4A43C"/>
<circle cx="203.0" cy="674.0" r="4" fill="#D4A43C"/>
<circle cx="207.0" cy="674.0" r="4" fill="#4A67D8"/>
<circle cx="211.0" cy="674.0" r="4" fill="#4A67D8"/>
<circle cx="215.0" cy="674.0" r="4" fill="#4A67D8"/>
<circle cx="219.0" cy="674.0" r="4" fill="#4A67D8"/>
<circle cx="223.0" cy="674.0" r="4" fill="#483D8B"/>
<circle cx="227.0" cy="674.0" r="4" fill="#483D8B"/>
<circle cx="231.0" cy="674.0" r="4" fill="#483D8B"/>
<circle cx="235.0" cy="674.0" r="4" fill="#483D8B"/>
<circle cx="239.0" cy="674.0" r="4" fill="#483D8B"/>
<circle cx="243.0" cy="674.0" r="4" fill="#483D8B"/>
<circle cx="127.0" cy="678.0" r="4" fill="#62C54A"/>
<circle cx="131.0" cy="678.0" r="4" fill="#62C54A"/>
<circle cx="135.0" cy="678.0" r="4" fill="#D4A43C"/>
<circle cx="139.0" cy="678.0" r="4" fill="#D4A43C"/>
<circle cx="143.0" cy="678.0" r="4" fill="#D4A43C"/>
<circle cx="147.0" cy="678.0" r="4" fill="#D4A43C"/>
<circle cx="151.0" cy="678.0" r="4" fill="#4A67D8"/>
<circle cx="155.0" cy="678.0" r="4" fill="#4A67D8"/>
<circle cx="159.0" cy="678.0" r="4" fill="#4A67D8"/>
<circle cx="163.0" cy="678.0" r="4" fill="#4A67D8"/>
<circle cx="167.0" cy="678.0" r="4" fill="#A4C84E"/>
<circle cx="171.0" cy="678.0" r="4" fill="#A4C84E"/>
<circle cx="175.0" cy="678.0" r="4" fill="#62C54A"/>
<circle cx="179.0" cy="678.0" r="4" fill="#62C54A"/>
<circle cx="183.0" cy="678.0" r="4" fill="#62C54A"/>
<circle cx="187.0" cy="678.0" r="4" fill="#483D8B"/>
<circle cx="191.0" cy="678.0" r="4" fill="#483D8B"/>
<circle cx="195.0" cy="678.0" r="4" fill="#52B6F5"/>
<circle cx="199.0" cy="678.0" r="4" fill="#D4A43C"/>
<circle cx="203.0" cy="678.0" r="4" fill="#D4A43C"/>
<circle cx="207.0" cy="678.0" r="4" fill="#D4A43C"/>
<circle cx="211.0" cy="678.0" r="4" fill="#4A67D8"/>
<circle cx="215.0" cy="678.0" r="4" fill="#4A67D8"/>
<circle cx="219.0" cy="678.0" r="4" fill="#4A67D8"/>
<circle cx="223.0" cy="678.0" r="4" fill="#483D8B"/>
<circle cx="227.0" cy="678.0" r="4" fill="#483D8B"/>
<circle cx="231.0" cy="678.0" r="4" fill="#483D8B"/>
<circle cx="235.0" cy="678.0" r="4" fill="#483D8B"/>
<circle cx="239.0" cy="678.0" r="4" fill="#4A67D8"/>
<circle cx="243.0" cy="678.0" r="4" fill="#4A67D8"/>
<circle cx="247.0" cy="678.0" r="4" fill="#483D8B"/>
<circle cx="127.0" cy="682.0" r="4" fill="#A4C84E"/>
<circle cx="131.0" cy="682.0" r="4" fill="#A4C84E"/>
<circle cx="135.0" cy="682.0" r="4" fill="#FFFF4C"/>
<circle cx="139.0" cy="682.0" r="4" fill="#FFFF4C"/>
<circle cx="143.0" cy="682.0" r="4" fill="#D4A43C"/>
<circle cx="147.0" cy="682.0" r="4" fill="#D4A43C"/>
<circle cx="151.0" cy="682.0" r="4" fill="#D4A43C"/>
<circle cx="155.0" cy="682.0" r="4" fill="#4A67D8"/>
<circle cx="159.0" cy="682.0" r="4" fill="#4A67D8"/>
<circle cx="163.0" cy="682.0" r="4" fill="#A4C84E"/>
<circle cx="167.0" cy="682.0" r="4" fill="#A4C84E"/>
<circle cx="171.0" cy="682.0" r="4" fill="#A4C84E"/>
<circle cx="175.0" cy="682.0" r="4" fill="#62C54A"/>
<circle cx="179.0" cy="682.0" r="4" fill="#62C54A"/>
<circle cx="183.0" cy="682.0" r="4" fill="#FFFF4C"/>
<circle cx="187.0" cy="682.0" r="4" fill="#FFFF4C"/>
<circle cx="191.0" cy="682.0" r="4" fill="#52B6F5"/>
<circle cx="195.0" cy="682.0" r="4" fill="#52B6F5"/>
<circle cx="199.0" cy="682.0" r="4" fill="#D4A43C"/>
<circle cx="203.0" cy="682.0" r="4" fill="#D4A43C"/>
<circle cx="207.0" cy="682.0" r="4" fill="#D4A43C"/>
<circle cx="211.0" cy="682.0" r="4" fill="#52B6F5"/>
<circle cx="215.0" cy="682.0" r="4" fill="#52B6F5"/>
<circle cx="219.0" cy="682.0" r="4" fill="#52B6F5"/>
<circle cx="223.0" cy="682.0" r="4" fill="#62C54A"/>
<circle cx="227.0" cy="682.0" r="4" fill="#62C54A"/>
<circle cx="231.0" cy="682.0" r="4" fill="#62C54A"/>
<circle cx="235.0" cy="682.0" r="4" fill="#483D8B"/>
<circle cx="239.0" cy="682.0" r="4" fill="#4A67D8"/>
<circle cx="243.0" cy="682.0" r="4" fill="#4A67D8"/>
<circle cx="247.0" cy="682.0" r="4" fill="#483D8B"/>
<circle cx="127.0" cy="686.0" r="4" fill="#A4C84E"/>
<circle cx="131.0" cy="686.0" r="4" fill="#A4C84E"/>
<circle cx="135.0" cy="686.0" r="4" fill="#FFFF4C"/>
<circle cx="139.0" cy="686.0" r="4" fill="#FFFF4C"/>
<circle cx="143.0" cy="686.0" r="4" fill="#D4A43C"/>
<circle cx="147.0" cy="686.0" r="4" fill="#D4A43C"/>
<circle cx="151.0" cy="686.0" r="4" fill="#D4A43C"/>
<circle cx="155.0" cy="686.0" r="4" fill="#D4A43C"/>
<circle cx="159.0" cy="686.0" r="4" fill="#C0884A"/>
<circle cx="163.0" cy="686.0" r="4" fill="#C0884A"/>
<circle cx="167.0" cy="686.0" r="4" fill="#C0884A"/>
<circle cx="171.0" cy="686.0" r="4" fill="#C0884A"/>
<circle cx="175.0" cy="686.0" r="4" fill="#483D8B"/>
<circle cx="179.0" cy="686.0" r="4" fill="#483D8B"/>
<circle cx="183.0" cy="686.0" r="4" fill="#483D8B"/>
<circle cx="187.0" cy="686.0" r="4" fill="#FFFF4C"/>
<circle cx="191.0" cy="686.0" r="4" fill="#FFFF4C"/>
<circle cx="195.0" cy="686.0" r="4" fill="#52B6F5"/>
<circle cx="199.0" cy="686.0" r="4" fill="#52B6F5"/>
<circle cx="203.0" cy="686.0" r="4" fill="#D4A43C"/>
<circle cx="207.0" cy="686.0" r="4" fill="#D4A43C"/>
<circle cx="211.0" cy="686.0" r="4" fill="#52B6F5"/>
<circle cx="215.0" cy="686.0" r="4" fill="#52B6F5"/>
<circle cx="219.0" cy="686.0" r="4" fill="#52B6F5"/>
<circle cx="223.0" cy="686.0" r="4" fill="#62C54A"/>
<circle cx="227.0" cy="686.0" r="4" fill="#62C54A"/>
<circle cx="231.0" cy="686.0" r="4" fill="#62C54A"/>
<circle cx="235.0" cy="686.0" r="4" fill="#483D8B"/>
<circle cx="239.0" cy="686.0" r="4" fill="#4A67D8"/>
<circle cx="243.0" cy="686.0" r="4" fill="#4A67D8"/>
<circle cx="247.0" cy="686.0" r="4" fill="#483D8B"/>
<circle cx="127.0" cy="690.0" r="4" fill="#52B6F5"/>
<circle cx="131.0" cy="690.0" r="4" fill="#52B6F5"/>
<circle cx="135.0" cy="690.0" r="4" fill="#FFFF4C"/>
<circle cx="139.0" cy="690.0" r="4" fill="#FFFF4C"/>
<circle cx="143.0" cy="690.0" r="4" fill="#52B6F5"/>
<circle cx="147.0" cy="690.0" r="4" fill="#D4A43C"/>
<circle cx="151.0" cy="690.0" r="4" fill="#D4A43C"/>
<circle cx="155.0" cy="690.0" r="4" fill="#A4C84E"/>
<circle cx="159.0" cy="690.0" r="4" fill="#A4C84E"/>
<circle cx="163.0" cy="690.0" r="4" fill="#C0884A"/>
<circle cx="167.0" cy="690.0" r="4" fill="#C0884A"/>
<circle cx="171.0" cy="690.0" r="4" fill="#C0884A"/>
<circle cx="175.0" cy="690.0" r="4" fill="#4A67D8"/>
<circle cx="179.0" cy="690.0" r="4" fill="#483D8B"/>
<circle cx="183.0" cy="690.0" r="4" fill="#483D8B"/>
<circle cx="187.0" cy="690.0" r="4" fill="#FFFF4C"/>
<circle cx="191.0" cy="690.0" r="4" fill="#FFFF4C"/>
<circle cx="195.0" cy="690.0" r="4" fill="#52B6F5"/>
<circle cx="199.0" cy="690.0" r="4" fill="#52B6F5"/>
<circle cx="203.0" cy="690.0" r="4" fill="#52B6F5"/>
<circle cx="207.0" cy="690.0" r="4" fill="#52B6F5"/>
<circle cx="211.0" cy="690.0" r="4" fill="#52B6F5"/>
<circle cx="215.0" cy="690.0" r="4" fill="#52B6F5"/>
<circle cx="219.0" cy="690.0" r="4" fill="#52B6F5"/>
<circle cx="223.0" cy="690.0" r="4" fill="#62C54A"/>
<circle cx="227.0" cy="690.0" r="4" fill="#62C54A"/>
<circle cx="231.0" cy="690.0" r="4" fill="#4A67D8"/>
<circle cx="235.0" cy="690.0" r="4" fill="#4A67D8"/>
<circle cx="239.0" cy="690.0" r="4" fill="#4A67D8"/>
<circle cx="243.0" cy="690.0" r="4" fill="#483D8B"/>
<circle cx="247.0" cy="690.0" r="4" fill="#4A67D8"/>
<circle cx="251.0" cy="690.0" r="4" fill="#483D8B"/>
<circle cx="127.0" cy="694.0" r="4" fill="#52B6F5"/>
<circle cx="131.0" cy="694.0" r="4" fill="#52B6F5"/>
<circle cx="135.0" cy="694.0" r="4" fill="#52B6F5"/>
<circle cx="139.0" cy="694.0" r="4" fill="#52B6F5"/>
<circle cx="143.0" cy="694.0" r="4" fill="#52B6F5"/>
<circle cx="147.0" cy="694.0" r="4" fill="#D4A43C"/>
<circle cx="151.0" cy="694.0" r="4" fill="#D4A43C"/>
<circle cx="155.0" cy="694.0" r="4" fill="#A4C84E"/>
<circle cx="159.0" cy="694.0" r="4" fill="#A4C84E"/>
<circle cx="163.0" cy="694.0" r="4" fill="#A4C84E"/>
<circle cx="167.0" cy="694.0" r="4" fill="#C0884A"/>
<circle cx="171.0" cy="694.0" r="4" fill="#4A67D8"/>
<circle cx="175.0" cy="694.0" r="4" fill="#4A67D8"/>
<circle cx="179.0" cy="694.0" r="4" fill="#4A67D8"/>
<circle cx="183.0" cy="694.0" r="4" fill="#4A67D8"/>
<circle cx="187.0" cy="694.0" r="4" fill="#A4C84E"/>
<circle cx="191.0" cy="694.0" r="4" fill="#52B6F5"/>
<circle cx="195.0" cy="694.0" r="4" fill="#52B6F5"/>
<circle cx="199.0" cy="694.0" r="4" fill="#52B6F5"/>
<circle cx="203.0" cy="694.0" r="4" fill="#52B6F5"/>
<circle cx="207.0" cy="694.0" r="4" fill="#52B6F5"/>
<circle cx="211.0" cy="694.0" r="4" fill="#52B6F5"/>
<circle cx="215.0" cy="694.0" r="4" fill="#52B6F5"/>
<circle cx="219.0" cy="694.0" r="4" fill="#52B6F5"/>
<circle cx="223.0" cy="694.0" r="4" fill="#483D8B"/>
<circle cx="227.0" cy="694.0" r="4" fill="#A4C84E"/>
<circle cx="231.0" cy="694.0" r="4" fill="#A4C84E"/>
<circle cx="235.0" cy="694.0" r="4" fill="#4A67D8"/>
<circle cx="239.0" cy="694.0" r="4" fill="#4A67D8"/>
<circle cx="243.0" cy="694.0" r="4" fill="#4A67D8"/>
<circle cx="247.0" cy="694.0" r="4" fill="#4A67D8"/>
<circle cx="251.0" cy="694.0" r="4" fill="#4A67D8"/>
<circle cx="127.0" cy="698.0" r="4" fill="#52B6F5"/>
<circle cx="131.0" cy="698.0" r="4" fill="#52B6F5"/>
<circle cx="135.0" cy="698.0" r="4" fill="#A4C84E"/>
<circle cx="139.0" cy="698.0" r="4" fill="#A4C84E"/>
<circle cx="143.0" cy="698.0" r="4" fill="#52B6F5"/>
<circle cx="147.0" cy="698.0" r="4" fill="#52B6F5"/>
<circle cx="151.0" cy="698.0" r="4" fill="#D4A43C"/>
<circle cx="155.0" cy="698.0" r="4" fill="#A4C84E"/>
<circle cx="159.0" cy="698.0" r="4" fill="#A4C84E"/>
<circle cx="163.0" cy="698.0" r="4" fill="#A4C84E"/>
<circle cx="167.0" cy="698.0" r="4" fill="#A4C84E"/>
<circle cx="171.0" cy="698.0" r="4" fill="#4A67D8"/>
<circle cx="175.0" cy="698.0" r="4" fill="#4A67D8"/>
<circle cx="179.0" cy="698.0" r="4" fill="#4A67D8"/>
<circle cx="183.0" cy="698.0" r="4" fill="#A4C84E"/>
<circle cx="187.0" cy="698.0" r="4" fill="#A4C84E"/>
<circle cx="191.0" cy="698.0" r="4" fill="#52B6F5"/>
<circle cx="195.0" cy="698.0" r="4" fill="#52B6F5"/>
<circle cx="199.0" cy="698.0" r="4" fill="#52B6F5"/>
<circle cx="203.0" cy="698.0" r="4" fill="#52B6F5"/>
<circle cx="207.0" cy="698.0" r="4" fill="#52B6F5"/>
<circle cx="211.0" cy="698.0" r="4" fill="#483D8B"/>
<circle cx="215.0" cy="698.0" r="4" fill="#52B6F5"/>
<circle cx="219.0" cy="698.0" r="4" fill="#52B6F5"/>
<circle cx="223.0" cy="698.0" r="4" fill="#483D8B"/>
<circle cx="227.0" cy="698.0" r="4" fill="#A4C84E"/>
<circle cx="231.0" cy="698.0" r="4" fill="#A4C84E"/>
<circle cx="235.0" cy="698.0" r="4" fill="#A4C84E"/>
<circle cx="239.0" cy="698.0" r="4" fill="#4A67D8"/>
<circle cx="243.0" cy="698.0" r="4" fill="#4A67D8"/>
<circle cx="247.0" cy="698.0" r="4" fill="#4A67D8"/>
<circle cx="251.0" cy="698.0" r="4" fill="#4A67D8"/>
<circle cx="255.0" cy="698.0" r="4" fill="#483D8B"/>
<circle cx="127.0" cy="702.0" r="4" fill="#52B6F5"/>
<circle cx="131.0" cy="702.0" r="4" fill="#A4C84E"/>
<circle cx="135.0" cy="702.0" r="4" fill="#A4C84E"/>
<circle cx="139.0" cy="702.0" r="4" fill="#A4C84E"/>
<circle cx="143.0" cy="702.0" r="4" fill="#D4A43C"/>
<circle cx="147.0" cy="702.0" r="4" fill="#D4A43C"/>
<circle cx="151.0" cy="702.0" r="4" fill="#C0884A"/>
<circle cx="155.0" cy="702.0" r="4" fill="#A4C84E"/>
<circle cx="159.0" cy="702.0" r="4" fill="#A4C84E"/>
<circle cx="163.0" cy="702.0" r="4" fill="#A4C84E"/>
<circle cx="167.0" cy="702.0" r="4" fill="#A4C84E"/>
<circle cx="171.0" cy="702.0" r="4" fill="#A4C84E"/>
<circle cx="175.0" cy="702.0" r="4" fill="#A4C84E"/>
<circle cx="179.0" cy="702.0" r="4" fill="#A4C84E"/>
<circle cx="183.0" cy="702.0" r="4" fill="#A4C84E"/>
<circle cx="187.0" cy="702.0" r="4" fill="#A4C84E"/>
<circle cx="191.0" cy="702.0" r="4" fill="#A4C84E"/>
<circle cx="195.0" cy="702.0" r="4" fill="#52B6F5"/>
<circle cx="199.0" cy="702.0" r="4" fill="#483D8B"/>
<circle cx="203.0" cy="702.0" r="4" fill="#483D8B"/>
<circle cx="207.0" cy="702.0" r="4" fill="#483D8B"/>
<circle cx="211.0" cy="702.0" r="4" fill="#483D8B"/>
<circle cx="215.0" cy="702.0" r="4" fill="#483D8B"/>
<circle cx="219.0" cy="702.0" r="4" fill="#483D8B"/>
<circle cx="223.0" cy="702.0" r="4" fill="#483D8B"/>
<circle cx="227.0" cy="702.0" r="4" fill="#483D8B"/>
<circle cx="231.0" cy="702.0" r="4" fill="#483D8B"/>
<circle cx="235.0" cy="702.0" r="4" fill="#A4C84E"/>
<circle cx="239.0" cy="702.0" r="4" fill="#483D8B"/>
<circle cx="243.0" cy="702.0" r="4" fill="#483D8B"/>
<circle cx="247.0" cy="702.0" r="4" fill="#4A67D8"/>
<circle cx="251.0" cy="702.0" r="4" fill="#4A67D8"/>
<circle cx="255.0" cy="702.0" r="4" fill="#4A67D8"/>
<circle cx="127.0" cy="706.0" r="4" fill="#52B6F5"/>
<circle cx="131.0" cy="706.0" r="4" fill="#52B6F5"/>
<circle cx="135.0" cy="706.0" r="4" fill="#A4C84E"/>
<circle cx="139.0" cy="706.0" r="4" fill="#A4C84E"/>
<circle cx="143.0" cy="706.0" r="4" fill="#D4A43C"/>
<circle cx="147.0" cy="706.0" r="4" fill="#C0884A"/>
<circle cx="151.0" cy="706.0" r="4" fill="#C0884A"/>
<circle cx="155.0" cy="706.0" r="4" fill="#C0884A"/>
<circle cx="159.0" cy="706.0" r="4" fill="#A4C84E"/>
<circle cx="163.0" cy="706.0" r="4" fill="#A4C84E"/>
<circle cx="167.0" cy="706.0" r="4" fill="#A4C84E"/>
<circle cx="171.0" cy="706.0" r="4" fill="#A4C84E"/>
<circle cx="175.0" cy="706.0" r="4" fill="#A4C84E"/>
<circle cx="179.0" cy="706.0" r="4" fill="#483D8B"/>
<circle cx="183.0" cy="706.0" r="4" fill="#A4C84E"/>
<circle cx="187.0" cy="706.0" r="4" fill="#A4C84E"/>
<circle cx="191.0" cy="706.0" r="4" fill="#483D8B"/>
<circle cx="195.0" cy="706.0" r="4" fill="#483D8B"/>
<circle cx="199.0" cy="706.0" r="4" fill="#483D8B"/>
<circle cx="203.0" cy="706.0" r="4" fill="#52B6F5"/>
<circle cx="207.0" cy="706.0" r="4" fill="#52B6F5"/>
<circle cx="211.0" cy="706.0" r="4" fill="#483D8B"/>
<circle cx="215.0" cy="706.0" r="4" fill="#483D8B"/>
<circle cx="219.0" cy="706.0" r="4" fill="#483D8B"/>
<circle cx="223.0" cy="706.0" r="4" fill="#483D8B"/>
<circle cx="227.0" cy="706.0" r="4" fill="#483D8B"/>
<circle cx="231.0" cy="706.0" r="4" fill="#483D8B"/>
<circle cx="235.0" cy="706.0" r="4" fill="#483D8B"/>
<circle cx="239.0" cy="706.0" r="4" fill="#A4C84E"/>
<circle cx="243.0" cy="706.0" r="4" fill="#A4C84E"/>
<circle cx="247.0" cy="706.0" r="4" fill="#A4C84E"/>
<circle cx="251.0" cy="706.0" r="4" fill="#4A67D8"/>
<circle cx="255.0" cy="706.0" r="4" fill="#4A67D8"/>
<circle cx="259.0" cy="706.0" r="4" fill="#4A67D8"/>
<circle cx="127.0" cy="710.0" r="4" fill="#52B6F5"/>
<circle cx="131.0" cy="710.0" r="4" fill="#52B6F5"/>
<circle cx="135.0" cy="710.0" r="4" fill="#52B6F5"/>
<circle cx="139.0" cy="710.0" r="4" fill="#D4A43C"/>
<circle cx="143.0" cy="710.0" r="4" fill="#C0884A"/>
<circle cx="147.0" cy="710.0" r="4" fill="#C0884A"/>
<circle cx="151.0" cy="710.0" r="4" fill="#C0884A"/>
<circle cx="155.0" cy="710.0" r="4" fill="#D4A43C"/>
<circle cx="159.0" cy="710.0" r="4" fill="#D4A43C"/>
<circle cx="163.0" cy="710.0" r="4" fill="#C0884A"/>
<circle cx="167.0" cy="710.0" r="4" fill="#A4C84E"/>
<circle cx="171.0" cy="710.0" r="4" fill="#A4C84E"/>
<circle cx="175.0" cy="710.0" r="4" fill="#A4C84E"/>
<circle cx="179.0" cy="710.0" r="4" fill="#483D8B"/>
<circle cx="183.0" cy="710.0" r="4" fill="#483D8B"/>
<circle cx="187.0" cy="710.0" r="4" fill="#483D8B"/>
<circle cx="191.0" cy="710.0" r="4" fill="#483D8B"/>
<circle cx="195.0" cy="710.0" r="4" fill="#483D8B"/>
<circle cx="199.0" cy="710.0" r="4" fill="#483D8B"/>
<circle cx="203.0" cy="710.0" r="4" fill="#52B6F5"/>
<circle cx="207.0" cy="710.0" r="4" fill="#52B6F5"/>
<circle cx="211.0" cy="710.0" r="4" fill="#52B6F5"/>
<circle cx="215.0" cy="710.0" r="4" fill="#483D8B"/>
<circle cx="219.0" cy="710.0" r="4" fill="#483D8B"/>
<circle cx="223.0" cy="710.0" r="4" fill="#483D8B"/>
<circle cx="227.0" cy="710.0" r="4" fill="#483D8B"/>
<circle cx="231.0" cy="710.0" r="4" fill="#483D8B"/>
<circle cx="235.0" cy="710.0" r="4" fill="#483D8B"/>
<circle cx="239.0" cy="710.0" r="4" fill="#A4C84E"/>
<circle cx="243.0" cy="710.0" r="4" fill="#A4C84E"/>
<circle cx="247.0" cy="710.0" r="4" fill="#A4C84E"/>
<circle cx="251.0" cy="710.0" r="4" fill="#4A67D8"/>
<circle cx="255.0" cy="710.0" r="4" fill="#4A67D8"/>
<circle cx="259.0" cy="710.0" r="4" fill="#4A67D8"/>
<circle cx="127.0" cy="714.0" r="4" fill="#52B6F5"/>
<circle cx="131.0" cy="714.0" r="4" fill="#52B6F5"/>
<circle cx="135.0" cy="714.0" r="4" fill="#52B6F5"/>
<circle cx="139.0" cy="714.0" r="4" fill="#52B6F5"/>
<circle cx="143.0" cy="714.0" r="4" fill="#C0884A"/>
<circle cx="147.0" cy="714.0" r="4" fill="#C0884A"/>
<circle cx="151.0" cy="714.0" r="4" fill="#D4A43C"/>
<circle cx="155.0" cy="714.0" r="4" fill="#D4A43C"/>
<circle cx="159.0" cy="714.0" r="4" fill="#C0884A"/>
<circle cx="163.0" cy="714.0" r="4" fill="#C0884A"/>
<circle cx="167.0" cy="714.0" r="4" fill="#C0884A"/>
<circle cx="171.0" cy="714.0" r="4" fill="#483D8B"/>
<circle cx="175.0" cy="714.0" r="4" fill="#483D8B"/>
<circle cx="179.0" cy="714.0" r="4" fill="#483D8B"/>
<circle cx="183.0" cy="714.0" r="4" fill="#52B6F5"/>
<circle cx="187.0" cy="714.0" r="4" fill="#483D8B"/>
<circle cx="191.0" cy="714.0" r="4" fill="#483D8B"/>
<circle cx="195.0" cy="714.0" r="4" fill="#483D8B"/>
<circle cx="199.0" cy="714.0" r="4" fill="#483D8B"/>
<circle cx="203.0" cy="714.0" r="4" fill="#52B6F5"/>
<circle cx="207.0" cy="714.0" r="4" fill="#52B6F5"/>
<circle cx="211.0" cy="714.0" r="4" fill="#4A67D8"/>
<circle cx="215.0" cy="714.0" r="4" fill="#4A67D8"/>
<circle cx="219.0" cy="714.0" r="4" fill="#4A67D8"/>
<circle cx="223.0" cy="714.0" r="4" fill="#483D8B"/>
<circle cx="227.0" cy="714.0" r="4" fill="#483D8B"/>
<circle cx="231.0" cy="714.0" r="4" fill="#483D8B"/>
<circle cx="235.0" cy="714.0" r="4" fill="#4A67D8"/>
<circle cx="239.0" cy="714.0" r="4" fill="#A4C84E"/>
<circle cx="243.0" cy="714.0" r="4" fill="#A4C84E"/>
<circle cx="247.0" cy="714.0" r="4" fill="#A4C84E"/>
<circle cx="251.0" cy="714.0" r="4" fill="#4A67D8"/>
<circle cx="255.0" cy="714.0" r="4" fill="#483D8B"/>
<circle cx="259.0" cy="714.0" r="4" fill="#483D8B"/>
<circle cx="263.0" cy="714.0" r="4" fill="#483D8B"/>
<circle cx="127.0" cy="718.0" r="4" fill="#52B6F5"/>
<circle cx="131.0" cy="718.0" r="4" fill="#52B6F5"/>
<circle cx="135.0" cy="718.0" r="4" fill="#52B6F5"/>
<circle cx="139.0" cy="718.0" r="4" fill="#FFFF4C"/>
<circle cx="143.0" cy="718.0" r="4" fill="#FFFF4C"/>
<circle cx="147.0" cy="718.0" r="4" fill="#FFFF4C"/>
<circle cx="151.0" cy="718.0" r="4" fill="#FFFF4C"/>
<circle cx="155.0" cy="718.0" r="4" fill="#D4A43C"/>
<circle cx="159.0" cy="718.0" r="4" fill="#C0884A"/>
<circle cx="163.0" cy="718.0" r="4" fill="#C0884A"/>
<circle cx="167.0" cy="718.0" r="4" fill="#4A67D8"/>
<circle cx="171.0" cy="718.0" r="4" fill="#4A67D8"/>
<circle cx="175.0" cy="718.0" r="4" fill="#4A67D8"/>
<circle cx="179.0" cy="718.0" r="4" fill="#52B6F5"/>
<circle cx="183.0" cy="718.0" r="4" fill="#52B6F5"/>
<circle cx="187.0" cy="718.0" r="4" fill="#52B6F5"/>
<circle cx="191.0" cy="718.0" r="4" fill="#483D8B"/>
<circle cx="195.0" cy="718.0" r="4" fill="#483D8B"/>
<circle cx="199.0" cy="718.0" r="4" fill="#483D8B"/>
<circle cx="203.0" cy="718.0" r="4" fill="#483D8B"/>
<circle cx="207.0" cy="718.0" r="4" fill="#483D8B"/>
<circle cx="211.0" cy="718.0" r="4" fill="#4A67D8"/>
<circle cx="215.0" cy="718.0" r="4" fill="#4A67D8"/>
<circle cx="219.0" cy="718.0" r="4" fill="#4A67D8"/>
<circle cx="223.0" cy="718.0" r="4" fill="#4A67D8"/>
<circle cx="227.0" cy="718.0" r="4" fill="#483D8B"/>
<circle cx="231.0" cy="718.0" r="4" fill="#4A67D8"/>
<circle cx="235.0" cy="718.0" r="4" fill="#4A67D8"/>
<circle cx="239.0" cy="718.0" r="4" fill="#4A67D8"/>
<circle cx="243.0" cy="718.0" r="4" fill="#A4C84E"/>
<circle cx="247.0" cy="718.0" r="4" fill="#483D8B"/>
<circle cx="251.0" cy="718.0" r="4" fill="#4A67D8"/>
<circle cx="255.0" cy="718.0" r="4" fill="#483D8B"/>
<circle cx="259.0" cy="718.0" r="4" fill="#483D8B"/>
<circle cx="263.0" cy="718.0" r="4" fill="#483D8B"/>
<circle cx="267.0" cy="718.0" r="4" fill="#4A67D8"/>
<circle cx="127.0" cy="722.0" r="4" fill="#FFFF4C"/>
<circle cx="131.0" cy="722.0" r="4" fill="#FFFF4C"/>
<circle cx="135.0" cy="722.0" r="4" fill="#FFFF4C"/>
<circle cx="139.0" cy="722.0" r="4" fill="#FFFF4C"/>
<circle cx="143.0" cy="722.0" r="4" fill="#FFFF4C"/>
<circle cx="147.0" cy="722.0" r="4" fill="#FFFF4C"/>
<circle cx="151.0" cy="722.0" r="4" fill="#FFFF4C"/>
<circle cx="155.0" cy="722.0" r="4" fill="#FFFF4C"/>
<circle cx="159.0" cy="722.0" r="4" fill="#FFFF4C"/>
<circle cx="163.0" cy="722.0" r="4" fill="#C0884A"/>
<circle cx="167.0" cy="722.0" r="4" fill="#4A67D8"/>
<circle cx="171.0" cy="722.0" r="4" fill="#4A67D8"/>
<circle cx="175.0" cy="722.0" r="4" fill="#4A67D8"/>
<circle cx="179.0" cy="722.0" r="4" fill="#52B6F5"/>
<circle cx="183.0" cy="722.0" r="4" fill="#52B6F5"/>
<circle cx="187.0" cy="722.0" r="4" fill="#52B6F5"/>
<circle cx="191.0" cy="722.0" r="4" fill="#4A67D8"/>
<circle cx="195.0" cy="722.0" r="4" fill="#4A67D8"/>
<circle cx="199.0" cy="722.0" r="4" fill="#4A67D8"/>
<circle cx="203.0" cy="722.0" r="4" fill="#A4C84E"/>
<circle cx="207.0" cy="722.0" r="4" fill="#A4C84E"/>
<circle cx="211.0" cy="722.0" r="4" fill="#A4C84E"/>
<circle cx="215.0" cy="722.0" r="4" fill="#4A67D8"/>
<circle cx="219.0" cy="722.0" r="4" fill="#4A67D8"/>
<circle cx="223.0" cy="722.0" r="4" fill="#483D8B"/>
<circle cx="227.0" cy="722.0" r="4" fill="#483D8B"/>
<circle cx="231.0" cy="722.0" r="4" fill="#4A67D8"/>
<circle cx="235.0" cy="722.0" r="4" fill="#4A67D8"/>
<circle cx="239.0" cy="722.0" r="4" fill="#4A67D8"/>
<circle cx="243.0" cy="722.0" r="4" fill="#483D8B"/>
<circle cx="247.0" cy="722.0" r="4" fill="#A4C84E"/>
<circle cx="251.0" cy="722.0" r="4" fill="#A4C84E"/>
<circle cx="255.0" cy="722.0" r="4" fill="#4A67D8"/>
<circle cx="259.0" cy="722.0" r="4" fill="#4A67D8"/>
<circle cx="263.0" cy="722.0" r="4" fill="#4A67D8"/>
<circle cx="267.0" cy="722.0" r="4" fill="#4A67D8"/>
<circle cx="127.0" cy="726.0" r="4" fill="#FFFF4C"/>
<circle cx="131.0" cy="726.0" r="4" fill="#FFFF4C"/>
<circle cx="135.0" cy="726.0" r="4" fill="#FFFF4C"/>
<circle cx="139.0" cy="726.0" r="4" fill="#A4C84E"/>
<circle cx="143.0" cy="726.0" r="4" fill="#FFFF4C"/>
<circle cx="147.0" cy="726.0" r="4" fill="#FFFF4C"/>
<circle cx="151.0" cy="726.0" r="4" fill="#FFFF4C"/>
<circle cx="155.0" cy="726.0" r="4" fill="#FFFF4C"/>
<circle cx="159.0" cy="726.0" r="4" fill="#FFFF4C"/>
<circle cx="163.0" cy="726.0" r="4" fill="#FFFF4C"/>
<circle cx="167.0" cy="726.0" r="4" fill="#4A67D8"/>
<circle cx="171.0" cy="726.0" r="4" fill="#4A67D8"/>
<circle cx="175.0" cy="726.0" r="4" fill="#D4A43C"/>
<circle cx="179.0" cy="726.0" r="4" fill="#D4A43C"/>
<circle cx="183.0" cy="726.0" r="4" fill="#D4A43C"/>
<circle cx="187.0" cy="726.0" r="4" fill="#52B6F5"/>
<circle cx="191.0" cy="726.0" r="4" fill="#52B6F5"/>
<circle cx="195.0" cy="726.0" r="4" fill="#4A67D8"/>
<circle cx="199.0" cy="726.0" r="4" fill="#4A67D8"/>
<circle cx="203.0" cy="726.0" r="4" fill="#A4C84E"/>
<circle cx="207.0" cy="726.0" r="4" fill="#A4C84E"/>
<circle cx="211.0" cy="726.0" r="4" fill="#A4C84E"/>
<circle cx="215.0" cy="726.0" r="4" fill="#483D8B"/>
<circle cx="219.0" cy="726.0" r="4" fill="#483D8B"/>
<circle cx="223.0" cy="726.0" r="4" fill="#483D8B"/>
<circle cx="227.0" cy="726.0" r="4" fill="#483D8B"/>
<circle cx="231.0" cy="726.0" r="4" fill="#4A67D8"/>
<circle cx="235.0" cy="726.0" r="4" fill="#52B6F5"/>
<circle cx="239.0" cy="726.0" r="4" fill="#52B6F5"/>
<circle cx="243.0" cy="726.0" r="4" fill="#483D8B"/>
<circle cx="247.0" cy="726.0" r="4" fill="#A4C84E"/>
<circle cx="251.0" cy="726.0" r="4" fill="#A4C84E"/>
<circle cx="255.0" cy="726.0" r="4" fill="#A4C84E"/>
<circle cx="259.0" cy="726.0" r="4" fill="#4A67D8"/>
<circle cx="263.0" cy="726.0" r="4" fill="#483D8B"/>
<circle cx="267.0" cy="726.0" r="4" fill="#483D8B"/>
<circle cx="271.0" cy="726.0" r="4" fill="#483D8B"/>
<circle cx="127.0" cy="730.0" r="4" fill="#FFFF4C"/>
<circle cx="131.0" cy="730.0" r="4" fill="#FFFF4C"/>
<circle cx="135.0" cy="730.0" r="4" fill="#A4C84E"/>
<circle cx="139.0" cy="730.0" r="4" fill="#A4C84E"/>
<circle cx="143.0" cy="730.0" r="4" fill="#A4C84E"/>
<circle cx="147.0" cy="730.0" r="4" fill="#483D8B"/>
<circle cx="151.0" cy="730.0" r="4" fill="#483D8B"/>
<circle cx="155.0" cy="730.0" r="4" fill="#FFFF4C"/>
<circle cx="159.0" cy="730.0" r="4" fill="#FFFF4C"/>
<circle cx="163.0" cy="730.0" r="4" fill="#FFFF4C"/>
<circle cx="167.0" cy="730.0" r="4" fill="#D4A43C"/>
<circle cx="171.0" cy="730.0" r="4" fill="#D4A43C"/>
<circle cx="175.0" cy="730.0" r="4" fill="#D4A43C"/>
<circle cx="179.0" cy="730.0" r="4" fill="#D4A43C"/>
<circle cx="183.0" cy="730.0" r="4" fill="#D4A43C"/>
<circle cx="187.0" cy="730.0" r="4" fill="#52B6F5"/>
<circle cx="191.0" cy="730.0" r="4" fill="#52B6F5"/>
<circle cx="195.0" cy="730.0" r="4" fill="#4A67D8"/>
<circle cx="199.0" cy="730.0" r="4" fill="#4A67D8"/>
<circle cx="203.0" cy="730.0" r="4" fill="#A4C84E"/>
<circle cx="207.0" cy="730.0" r="4" fill="#A4C84E"/>
<circle cx="211.0" cy="730.0" r="4" fill="#A4C84E"/>
<circle cx="215.0" cy="730.0" r="4" fill="#52B6F5"/>
<circle cx="219.0" cy="730.0" r="4" fill="#52B6F5"/>
<circle cx="223.0" cy="730.0" r="4" fill="#52B6F5"/>
<circle cx="227.0" cy="730.0" r="4" fill="#483D8B"/>
<circle cx="231.0" cy="730.0" r="4" fill="#52B6F5"/>
<circle cx="235.0" cy="730.0" r="4" fill="#52B6F5"/>
<circle cx="239.0" cy="730.0" r="4" fill="#52B6F5"/>
<circle cx="243.0" cy="730.0" r="4" fill="#483D8B"/>
<circle cx="247.0" cy="730.0" r="4" fill="#4A67D8"/>
<circle cx="251.0" cy="730.0" r="4" fill="#4A67D8"/>
<circle cx="255.0" cy="730.0" r="4" fill="#A4C84E"/>
<circle cx="259.0" cy="730.0" r="4" fill="#483D8B"/>
<circle cx="263.0" cy="730.0" r="4" fill="#483D8B"/>
<circle cx="267.0" cy="730.0" r="4" fill="#483D8B"/>
<circle cx="271.0" cy="730.0" r="4" fill="#483D8B"/>
<circle cx="275.0" cy="730.0" r="4" fill="#483D8B"/>
<circle cx="127.0" cy="734.0" r="4" fill="#FFFF4C"/>
<circle cx="131.0" cy="734.0" r="4" fill="#FFFF4C"/>
<circle cx="135.0" cy="734.0" r="4" fill="#A4C84E"/>
<circle cx="139.0" cy="734.0" r="4" fill="#A4C84E"/>
<circle cx="143.0" cy="734.0" r="4" fill="#A4C84E"/>
<circle cx="147.0" cy="734.0" r="4" fill="#483D8B"/>
<circle cx="151.0" cy="734.0" r="4" fill="#483D8B"/>
<circle cx="155.0" cy="734.0" r="4" fill="#483D8B"/>
<circle cx="159.0" cy="734.0" r="4" fill="#483D8B"/>
<circle cx="163.0" cy="734.0" r="4" fill="#483D8B"/>
<circle cx="167.0" cy="734.0" r="4" fill="#D4A43C"/>
<circle cx="171.0" cy="734.0" r="4" fill="#D4A43C"/>
<circle cx="175.0" cy="734.0" r="4" fill="#FFFF4C"/>
<circle cx="179.0" cy="734.0" r="4" fill="#FFFF4C"/>
<circle cx="183.0" cy="734.0" r="4" fill="#FFFF4C"/>
<circle cx="187.0" cy="734.0" r="4" fill="#483D8B"/>
<circle cx="191.0" cy="734.0" r="4" fill="#483D8B"/>
<circle cx="195.0" cy="734.0" r="4" fill="#483D8B"/>
<circle cx="199.0" cy="734.0" r="4" fill="#483D8B"/>
<circle cx="203.0" cy="734.0" r="4" fill="#483D8B"/>
<circle cx="207.0" cy="734.0" r="4" fill="#483D8B"/>
<circle cx="211.0" cy="734.0" r="4" fill="#52B6F5"/>
<circle cx="215.0" cy="734.0" r="4" fill="#52B6F5"/>
<circle cx="219.0" cy="734.0" r="4" fill="#52B6F5"/>
<circle cx="223.0" cy="734.0" r="4" fill="#52B6F5"/>
<circle cx="227.0" cy="734.0" r="4" fill="#483D8B"/>
<circle cx="231.0" cy="734.0" r="4" fill="#52B6F5"/>
<circle cx="235.0" cy="734.0" r="4" fill="#52B6F5"/>
<circle cx="239.0" cy="734.0" r="4" fill="#52B6F5"/>
<circle cx="243.0" cy="734.0" r="4" fill="#483D8B"/>
<circle cx="247.0" cy="734.0" r="4" fill="#4A67D8"/>
<circle cx="251.0" cy="734.0" r="4" fill="#4A67D8"/>
<circle cx="255.0" cy="734.0" r="4" fill="#4A67D8"/>
<circle cx="259.0" cy="734.0" r="4" fill="#A4C84E"/>
<circle cx="263.0" cy="734.0" r="4" fill="#A4C84E"/>
<circle cx="267.0" cy="734.0" r="4" fill="#483D8B"/>
<circle cx="271.0" cy="734.0" r="4" fill="#483D8B"/>
<circle cx="275.0" cy="734.0" r="4" fill="#483D8B"/>
<circle cx="127.0" cy="738.0" r="4" fill="#FFFF4C"/>
<circle cx="131.0" cy="738.0" r="4" fill="#FFFF4C"/>
<circle cx="135.0" cy="738.0" r="4" fill="#D4A43C"/>
<circle cx="139.0" cy="738.0" r="4" fill="#D4A43C"/>
<circle cx="143.0" cy="738.0" r="4" fill="#D4A43C"/>
<circle cx="147.0" cy="738.0" r="4" fill="#483D8B"/>
<circle cx="151.0" cy="738.0" r="4" fill="#FFFF4C"/>
<circle cx="155.0" cy="738.0" r="4" fill="#FFFF4C"/>
<circle cx="159.0" cy="738.0" r="4" fill="#483D8B"/>
<circle cx="163.0" cy="738.0" r="4" fill="#483D8B"/>
<circle cx="167.0" cy="738.0" r="4" fill="#D4A43C"/>
<circle cx="171.0" cy="738.0" r="4" fill="#D4A43C"/>
<circle cx="175.0" cy="738.0" r="4" fill="#FFFF4C"/>
<circle cx="179.0" cy="738.0" r="4" fill="#FFFF4C"/>
<circle cx="183.0" cy="738.0" r="4" fill="#FFFF4C"/>
<circle cx="187.0" cy="738.0" r="4" fill="#483D8B"/>
<circle cx="191.0" cy="738.0" r="4" fill="#483D8B"/>
<circle cx="195.0" cy="738.0" r="4" fill="#483D8B"/>
<circle cx="199.0" cy="738.0" r="4" fill="#483D8B"/>
<circle cx="203.0" cy="738.0" r="4" fill="#483D8B"/>
<circle cx="207.0" cy="738.0" r="4" fill="#483D8B"/>
<circle cx="211.0" cy="738.0" r="4" fill="#483D8B"/>
<circle cx="215.0" cy="738.0" r="4" fill="#52B6F5"/>
<circle cx="219.0" cy="738.0" r="4" fill="#52B6F5"/>
<circle cx="223.0" cy="738.0" r="4" fill="#52B6F5"/>
<circle cx="227.0" cy="738.0" r="4" fill="#483D8B"/>
<circle cx="231.0" cy="738.0" r="4" fill="#FFFF4C"/>
<circle cx="235.0" cy="738.0" r="4" fill="#483D8B"/>
<circle cx="239.0" cy="738.0" r="4" fill="#483D8B"/>
<circle cx="243.0" cy="738.0" r="4" fill="#483D8B"/>
<circle cx="247.0" cy="738.0" r="4" fill="#4A67D8"/>
<circle cx="251.0" cy="738.0" r="4" fill="#4A67D8"/>
<circle cx="255.0" cy="738.0" r="4" fill="#A4C84E"/>
<circle cx="259.0" cy="738.0" r="4" fill="#A4C84E"/>
<circle cx="263.0" cy="738.0" r="4" fill="#A4C84E"/>
<circle cx="267.0" cy="738.0" r="4" fill="#62C54A"/>
<circle cx="271.0" cy="738.0" r="4" fill="#62C54A"/>
<circle cx="275.0" cy="738.0" r="4" fill="#483D8B"/>
<circle cx="279.0" cy="738.0" r="4" fill="#483D8B"/>
<circle cx="127.0" cy="742.0" r="4" fill="#FFFF4C"/>
<circle cx="131.0" cy="742.0" r="4" fill="#FFFF4C"/>
<circle cx="135.0" cy="742.0" r="4" fill="#D4A43C"/>
<circle cx="139.0" cy="742.0" r="4" fill="#D4A43C"/>
<circle cx="143.0" cy="742.0" r="4" fill="#D4A43C"/>
<circle cx="147.0" cy="742.0" r="4" fill="#62C54A"/>
<circle cx="151.0" cy="742.0" r="4" fill="#FFFF4C"/>
<circle cx="155.0" cy="742.0" r="4" fill="#FFFF4C"/>
<circle cx="159.0" cy="742.0" r="4" fill="#C0884A"/>
<circle cx="163.0" cy="742.0" r="4" fill="#C0884A"/>
<circle cx="167.0" cy="742.0" r="4" fill="#D4A43C"/>
<circle cx="171.0" cy="742.0" r="4" fill="#D4A43C"/>
<circle cx="175.0" cy="742.0" r="4" fill="#D4A43C"/>
<circle cx="179.0" cy="742.0" r="4" fill="#FFFF4C"/>
<circle cx="183.0" cy="742.0" r="4" fill="#FFFF4C"/>
<circle cx="187.0" cy="742.0" r="4" fill="#483D8B"/>
<circle cx="191.0" cy="742.0" r="4" fill="#483D8B"/>
<circle cx="195.0" cy="742.0" r="4" fill="#483D8B"/>
<circle cx="199.0" cy="742.0" r="4" fill="#483D8B"/>
<circle cx="203.0" cy="742.0" r="4" fill="#483D8B"/>
<circle cx="207.0" cy="742.0" r="4" fill="#483D8B"/>
<circle cx="211.0" cy="742.0" r="4" fill="#483D8B"/>
<circle cx="215.0" cy="742.0" r="4" fill="#483D8B"/>
<circle cx="219.0" cy="742.0" r="4" fill="#D4A43C"/>
<circle cx="223.0" cy="742.0" r="4" fill="#483D8B"/>
<circle cx="227.0" cy="742.0" r="4" fill="#FFFF4C"/>
<circle cx="231.0" cy="742.0" r="4" fill="#FFFF4C"/>
<circle cx="235.0" cy="742.0" r="4" fill="#FFFF4C"/>
<circle cx="239.0" cy="742.0" r="4" fill="#483D8B"/>
<circle cx="243.0" cy="742.0" r="4" fill="#483D8B"/>
<circle cx="247.0" cy="742.0" r="4" fill="#483D8B"/>
<circle cx="251.0" cy="742.0" r="4" fill="#483D8B"/>
<circle cx="255.0" cy="742.0" r="4" fill="#A4C84E"/>
<circle cx="259.0" cy="742.0" r="4" fill="#A4C84E"/>
<circle cx="263.0" cy="742.0" r="4" fill="#A4C84E"/>
<circle cx="267.0" cy="742.0" r="4" fill="#62C54A"/>
<circle cx="271.0" cy="742.0" r="4" fill="#62C54A"/>
<circle cx="275.0" cy="742.0" r="4" fill="#483D8B"/>
<circle cx="279.0" cy="742.0" r="4" fill="#483D8B"/>
<circle cx="283.0" cy="742.0" r="4" fill="#483D8B"/>
<circle cx="127.0" cy="746.0" r="4" fill="#FFFF4C"/>
<circle cx="131.0" cy="746.0" r="4" fill="#FFFF4C"/>
<circle cx="135.0" cy="746.0" r="4" fill="#D4A43C"/>
<circle cx="139.0" cy="746.0" r="4" fill="#D4A43C"/>
<circle cx="143.0" cy="746.0" r="4" fill="#62C54A"/>
<circle cx="147.0" cy="746.0" r="4" fill="#62C54A"/>
<circle cx="151.0" cy="746.0" r="4" fill="#62C54A"/>
<circle cx="155.0" cy="746.0" r="4" fill="#C0884A"/>
<circle cx="159.0" cy="746.0" r="4" fill="#C0884A"/>
<circle cx="163.0" cy="746.0" r="4" fill="#A4C84E"/>
<circle cx="167.0" cy="746.0" r="4" fill="#D4A43C"/>
<circle cx="171.0" cy="746.0" r="4" fill="#D4A43C"/>
<circle cx="175.0" cy="746.0" r="4" fill="#A4C84E"/>
<circle cx="179.0" cy="746.0" r="4" fill="#A4C84E"/>
<circle cx="183.0" cy="746.0" r="4" fill="#483D8B"/>
<circle cx="187.0" cy="746.0" r="4" fill="#483D8B"/>
<circle cx="191.0" cy="746.0" r="4" fill="#483D8B"/>
<circle cx="195.0" cy="746.0" r="4" fill="#FFFF4C"/>
<circle cx="199.0" cy="746.0" r="4" fill="#FFFF4C"/>
<circle cx="203.0" cy="746.0" r="4" fill="#FFFF4C"/>
<circle cx="207.0" cy="746.0" r="4" fill="#483D8B"/>
<circle cx="211.0" cy="746.0" r="4" fill="#D4A43C"/>
<circle cx="215.0" cy="746.0" r="4" fill="#D4A43C"/>
<circle cx="219.0" cy="746.0" r="4" fill="#D4A43C"/>
<circle cx="223.0" cy="746.0" r="4" fill="#483D8B"/>
<circle cx="227.0" cy="746.0" r="4" fill="#FFFF4C"/>
<circle cx="231.0" cy="746.0" r="4" fill="#FFFF4C"/>
<circle cx="235.0" cy="746.0" r="4" fill="#FFFF4C"/>
<circle cx="239.0" cy="746.0" r="4" fill="#4A67D8"/>
<circle cx="243.0" cy="746.0" r="4" fill="#4A67D8"/>
<circle cx="247.0" cy="746.0" r="4" fill="#4A67D8"/>
<circle cx="251.0" cy="746.0" r="4" fill="#483D8B"/>
<circle cx="255.0" cy="746.0" r="4" fill="#52B6F5"/>
<circle cx="259.0" cy="746.0" r="4" fill="#52B6F5"/>
<circle cx="263.0" cy="746.0" r="4" fill="#52B6F5"/>
<circle cx="267.0" cy="746.0" r="4" fill="#62C54A"/>
<circle cx="271.0" cy="746.0" r="4" fill="#62C54A"/>
<circle cx="275.0" cy="746.0" r="4" fill="#52B6F5"/>
<circle cx="279.0" cy="746.0" r="4" fill="#52B6F5"/>
<circle cx="283.0" cy="746.0" r="4" fill="#483D8B"/>
<circle cx="127.0" cy="750.0" r="4" fill="#FFFF4C"/>
<circle cx="131.0" cy="750.0" r="4" fill="#FFFF4C"/>
<circle cx="135.0" cy="750.0" r="4" fill="#FFFF4C"/>
<circle cx="139.0" cy="750.0" r="4" fill="#52B6F5"/>
<circle cx="143.0" cy="750.0" r="4" fill="#52B6F5"/>
<circle cx="147.0" cy="750.0" r="4" fill="#62C54A"/>
<circle cx="151.0" cy="750.0" r="4" fill="#52B6F5"/>
<circle cx="155.0" cy="750.0" r="4" fill="#52B6F5"/>
<circle cx="159.0" cy="750.0" r="4" fill="#A4C84E"/>
<circle cx="163.0" cy="750.0" r="4" fill="#A4C84E"/>
<circle cx="167.0" cy="750.0" r="4" fill="#A4C84E"/>
<circle cx="171.0" cy="750.0" r="4" fill="#A4C84E"/>
<circle cx="175.0" cy="750.0" r="4" fill="#A4C84E"/>
<circle cx="179.0" cy="750.0" r="4" fill="#483D8B"/>
<circle cx="183.0" cy="750.0" r="4" fill="#483D8B"/>
<circle cx="187.0" cy="750.0" r="4" fill="#483D8B"/>
<circle cx="191.0" cy="750.0" r="4" fill="#FFFF4C"/>
<circle cx="195.0" cy="750.0" r="4" fill="#FFFF4C"/>
<circle cx="199.0" cy="750.0" r="4" fill="#FFFF4C"/>
<circle cx="203.0" cy="750.0" r="4" fill="#FFFF4C"/>
<circle cx="207.0" cy="750.0" r="4" fill="#FFFF4C"/>
<circle cx="211.0" cy="750.0" r="4" fill="#D4A43C"/>
<circle cx="215.0" cy="750.0" r="4" fill="#D4A43C"/>
<circle cx="219.0" cy="750.0" r="4" fill="#D4A43C"/>
<circle cx="223.0" cy="750.0" r="4" fill="#483D8B"/>
<circle cx="227.0" cy="750.0" r="4" fill="#483D8B"/>
<circle cx="231.0" cy="750.0" r="4" fill="#483D8B"/>
<circle cx="235.0" cy="750.0" r="4" fill="#483D8B"/>
<circle cx="239.0" cy="750.0" r="4" fill="#4A67D8"/>
<circle cx="243.0" cy="750.0" r="4" fill="#4A67D8"/>
<circle cx="247.0" cy="750.0" r="4" fill="#4A67D8"/>
<circle cx="251.0" cy="750.0" r="4" fill="#4A67D8"/>
<circle cx="255.0" cy="750.0" r="4" fill="#52B6F5"/>
<circle cx="259.0" cy="750.0" r="4" fill="#52B6F5"/>
<circle cx="263.0" cy="750.0" r="4" fill="#52B6F5"/>
<circle cx="267.0" cy="750.0" r="4" fill="#483D8B"/>
<circle cx="271.0" cy="750.0" r="4" fill="#52B6F5"/>
<circle cx="275.0" cy="750.0" r="4" fill="#52B6F5"/>
<circle cx="279.0" cy="750.0" r="4" fill="#52B6F5"/>
<circle cx="283.0" cy="750.0" r="4" fill="#52B6F5"/>
<circle cx="287.0" cy="750.0" r="4" fill="#52B6F5"/>
<circle cx="127.0" cy="754.0" r="4" fill="#FFFF4C"/>
<circle cx="131.0" cy="754.0" r="4" fill="#FFFF4C"/>
<circle cx="135.0" cy="754.0" r="4" fill="#D4A43C"/>
<circle cx="139.0" cy="754.0" r="4" fill="#52B6F5"/>
<circle cx="143.0" cy="754.0" r="4" fill="#52B6F5"/>
<circle cx="147.0" cy="754.0" r="4" fill="#52B6F5"/>
<circle cx="151.0" cy="754.0" r="4" fill="#52B6F5"/>
<circle cx="155.0" cy="754.0" r="4" fill="#52B6F5"/>
<circle cx="159.0" cy="754.0" r="4" fill="#A4C84E"/>
<circle cx="163.0" cy="754.0" r="4" fill="#A4C84E"/>
<circle cx="167.0" cy="754.0" r="4" fill="#A4C84E"/>
<circle cx="171.0" cy="754.0" r="4" fill="#A4C84E"/>
<circle cx="175.0" cy="754.0" r="4" fill="#A4C84E"/>
<circle cx="179.0" cy="754.0" r="4" fill="#483D8B"/>
<circle cx="183.0" cy="754.0" r="4" fill="#483D8B"/>
<circle cx="187.0" cy="754.0" r="4" fill="#483D8B"/>
<circle cx="191.0" cy="754.0" r="4" fill="#FFFF4C"/>
<circle cx="195.0" cy="754.0" r="4" fill="#FFFF4C"/>
<circle cx="199.0" cy="754.0" r="4" fill="#FFFF4C"/>
<circle cx="203.0" cy="754.0" r="4" fill="#FFFF4C"/>
<circle cx="207.0" cy="754.0" r="4" fill="#483D8B"/>
<circle cx="211.0" cy="754.0" r="4" fill="#483D8B"/>
<circle cx="215.0" cy="754.0" r="4" fill="#483D8B"/>
<circle cx="219.0" cy="754.0" r="4" fill="#483D8B"/>
<circle cx="223.0" cy="754.0" r="4" fill="#483D8B"/>
<circle cx="227.0" cy="754.0" r="4" fill="#483D8B"/>
<circle cx="231.0" cy="754.0" r="4" fill="#483D8B"/>
<circle cx="235.0" cy="754.0" r="4" fill="#483D8B"/>
<circle cx="239.0" cy="754.0" r="4" fill="#4A67D8"/>
<circle cx="243.0" cy="754.0" r="4" fill="#4A67D8"/>
<circle cx="247.0" cy="754.0" r="4" fill="#4A67D8"/>
<circle cx="251.0" cy="754.0" r="4" fill="#483D8B"/>
<circle cx="255.0" cy="754.0" r="4" fill="#483D8B"/>
<circle cx="259.0" cy="754.0" r="4" fill="#52B6F5"/>
<circle cx="263.0" cy="754.0" r="4" fill="#52B6F5"/>
<circle cx="267.0" cy="754.0" r="4" fill="#483D8B"/>
<circle cx="271.0" cy="754.0" r="4" fill="#52B6F5"/>
<circle cx="275.0" cy="754.0" r="4" fill="#52B6F5"/>
<circle cx="279.0" cy="754.0" r="4" fill="#52B6F5"/>
<circle cx="283.0" cy="754.0" r="4" fill="#52B6F5"/>
<circle cx="287.0" cy="754.0" r="4" fill="#52B6F5"/>
<circle cx="127.0" cy="758.0" r="4" fill="#FFFF4C"/>
<circle cx="131.0" cy="758.0" r="4" fill="#FFFF4C"/>
<circle cx="135.0" cy="758.0" r="4" fill="#D4A43C"/>
<circle cx="139.0" cy="758.0" r="4" fill="#D4A43C"/>
<circle cx="143.0" cy="758.0" r="4" fill="#D4A43C"/>
<circle cx="147.0" cy="758.0" r="4" fill="#52B6F5"/>
<circle cx="151.0" cy="758.0" r="4" fill="#52B6F5"/>
<circle cx="155.0" cy="758.0" r="4" fill="#52B6F5"/>
<circle cx="159.0" cy="758.0" r="4" fill="#4A67D8"/>
<circle cx="163.0" cy="758.0" r="4" fill="#4A67D8"/>
<circle cx="167.0" cy="758.0" r="4" fill="#4A67D8"/>
<circle cx="171.0" cy="758.0" r="4" fill="#4A67D8"/>
<circle cx="175.0" cy="758.0" r="4" fill="#4A67D8"/>
<circle cx="179.0" cy="758.0" r="4" fill="#4A67D8"/>
<circle cx="183.0" cy="758.0" r="4" fill="#4A67D8"/>
<circle cx="187.0" cy="758.0" r="4" fill="#483D8B"/>
<circle cx="191.0" cy="758.0" r="4" fill="#483D8B"/>
<circle cx="195.0" cy="758.0" r="4" fill="#483D8B"/>
<circle cx="199.0" cy="758.0" r="4" fill="#483D8B"/>
<circle cx="203.0" cy="758.0" r="4" fill="#A4C84E"/>
<circle cx="207.0" cy="758.0" r="4" fill="#A4C84E"/>
<circle cx="211.0" cy="758.0" r="4" fill="#483D8B"/>
<circle cx="215.0" cy="758.0" r="4" fill="#483D8B"/>
<circle cx="219.0" cy="758.0" r="4" fill="#483D8B"/>
<circle cx="223.0" cy="758.0" r="4" fill="#483D8B"/>
<circle cx="227.0" cy="758.0" r="4" fill="#FFFF4C"/>
<circle cx="231.0" cy="758.0" r="4" fill="#FFFF4C"/>
<circle cx="235.0" cy="758.0" r="4" fill="#FFFF4C"/>
<circle cx="239.0" cy="758.0" r="4" fill="#52B6F5"/>
<circle cx="243.0" cy="758.0" r="4" fill="#52B6F5"/>
<circle cx="247.0" cy="758.0" r="4" fill="#483D8B"/>
<circle cx="251.0" cy="758.0" r="4" fill="#483D8B"/>
<circle cx="255.0" cy="758.0" r="4" fill="#483D8B"/>
<circle cx="259.0" cy="758.0" r="4" fill="#483D8B"/>
<circle cx="263.0" cy="758.0" r="4" fill="#483D8B"/>
<circle cx="267.0" cy="758.0" r="4" fill="#483D8B"/>
<circle cx="271.0" cy="758.0" r="4" fill="#483D8B"/>
<circle cx="275.0" cy="758.0" r="4" fill="#62C54A"/>
<circle cx="279.0" cy="758.0" r="4" fill="#62C54A"/>
<circle cx="283.0" cy="758.0" r="4" fill="#62C54A"/>
<circle cx="287.0" cy="758.0" r="4" fill="#52B6F5"/>
<circle cx="127.0" cy="762.0" r="4" fill="#FFFF4C"/>
<circle cx="131.0" cy="762.0" r="4" fill="#FFFF4C"/>
<circle cx="135.0" cy="762.0" r="4" fill="#D4A43C"/>
<circle cx="139.0" cy="762.0" r="4" fill="#D4A43C"/>
<circle cx="143.0" cy="762.0" r="4" fill="#62C54A"/>
<circle cx="147.0" cy="762.0" r="4" fill="#62C54A"/>
<circle cx="151.0" cy="762.0" r="4" fill="#62C54A"/>
<circle cx="155.0" cy="762.0" r="4" fill="#62C54A"/>
<circle cx="159.0" cy="762.0" r="4" fill="#62C54A"/>
<circle cx="163.0" cy="762.0" r="4" fill="#4A67D8"/>
<circle cx="167.0" cy="762.0" r="4" fill="#4A67D8"/>
<circle cx="171.0" cy="762.0" r="4" fill="#483D8B"/>
<circle cx="175.0" cy="762.0" r="4" fill="#483D8B"/>
<circle cx="179.0" cy="762.0" r="4" fill="#4A67D8"/>
<circle cx="183.0" cy="762.0" r="4" fill="#4A67D8"/>
<circle cx="187.0" cy="762.0" r="4" fill="#483D8B"/>
<circle cx="191.0" cy="762.0" r="4" fill="#483D8B"/>
<circle cx="195.0" cy="762.0" r="4" fill="#483D8B"/>
<circle cx="199.0" cy="762.0" r="4" fill="#483D8B"/>
<circle cx="203.0" cy="762.0" r="4" fill="#A4C84E"/>
<circle cx="207.0" cy="762.0" r="4" fill="#A4C84E"/>
<circle cx="211.0" cy="762.0" r="4" fill="#A4C84E"/>
<circle cx="215.0" cy="762.0" r="4" fill="#52B6F5"/>
<circle cx="219.0" cy="762.0" r="4" fill="#52B6F5"/>
<circle cx="223.0" cy="762.0" r="4" fill="#483D8B"/>
<circle cx="227.0" cy="762.0" r="4" fill="#FFFF4C"/>
<circle cx="231.0" cy="762.0" r="4" fill="#FFFF4C"/>
<circle cx="235.0" cy="762.0" r="4" fill="#52B6F5"/>
<circle cx="239.0" cy="762.0" r="4" fill="#52B6F5"/>
<circle cx="243.0" cy="762.0" r="4" fill="#52B6F5"/>
<circle cx="247.0" cy="762.0" r="4" fill="#483D8B"/>
<circle cx="251.0" cy="762.0" r="4" fill="#483D8B"/>
<circle cx="255.0" cy="762.0" r="4" fill="#483D8B"/>
<circle cx="259.0" cy="762.0" r="4" fill="#483D8B"/>
<circle cx="263.0" cy="762.0" r="4" fill="#483D8B"/>
<circle cx="267.0" cy="762.0" r="4" fill="#483D8B"/>
<circle cx="271.0" cy="762.0" r="4" fill="#483D8B"/>
<circle cx="275.0" cy="762.0" r="4" fill="#62C54A"/>
<circle cx="279.0" cy="762.0" r="4" fill="#62C54A"/>
<circle cx="283.0" cy="762.0" r="4" fill="#4A67D8"/>
<circle cx="287.0" cy="762.0" r="4" fill="#4A67D8"/>
<circle cx="291.0" cy="762.0" r="4" fill="#483D8B"/>
<circle cx="127.0" cy="766.0" r="4" fill="#FFFF4C"/>
<circle cx="131.0" cy="766.0" r="4" fill="#FFFF4C"/>
<circle cx="135.0" cy="766.0" r="4" fill="#D4A43C"/>
<circle cx="139.0" cy="766.0" r="4" fill="#52B6F5"/>
<circle cx="143.0" cy="766.0" r="4" fill="#52B6F5"/>
<circle cx="147.0" cy="766.0" r="4" fill="#62C54A"/>
<circle cx="151.0" cy="766.0" r="4" fill="#62C54A"/>
<circle cx="155.0" cy="766.0" r="4" fill="#62C54A"/>
<circle cx="159.0" cy="766.0" r="4" fill="#62C54A"/>
<circle cx="163.0" cy="766.0" r="4" fill="#4A67D8"/>
<circle cx="167.0" cy="766.0" r="4" fill="#483D8B"/>
<circle cx="171.0" cy="766.0" r="4" fill="#483D8B"/>
<circle cx="175.0" cy="766.0" r="4" fill="#483D8B"/>
<circle cx="179.0" cy="766.0" r="4" fill="#483D8B"/>
<circle cx="183.0" cy="766.0" r="4" fill="#483D8B"/>
<circle cx="187.0" cy="766.0" r="4" fill="#483D8B"/>
<circle cx="191.0" cy="766.0" r="4" fill="#483D8B"/>
<circle cx="195.0" cy="766.0" r="4" fill="#483D8B"/>
<circle cx="199.0" cy="766.0" r="4" fill="#483D8B"/>
<circle cx="203.0" cy="766.0" r="4" fill="#A4C84E"/>
<circle cx="207.0" cy="766.0" r="4" fill="#A4C84E"/>
<circle cx="211.0" cy="766.0" r="4" fill="#52B6F5"/>
<circle cx="215.0" cy="766.0" r="4" fill="#52B6F5"/>
<circle cx="219.0" cy="766.0" r="4" fill="#52B6F5"/>
<circle cx="223.0" cy="766.0" r="4" fill="#62C54A"/>
<circle cx="227.0" cy="766.0" r="4" fill="#483D8B"/>
<circle cx="231.0" cy="766.0" r="4" fill="#483D8B"/>
<circle cx="235.0" cy="766.0" r="4" fill="#52B6F5"/>
<circle cx="239.0" cy="766.0" r="4" fill="#52B6F5"/>
<circle cx="243.0" cy="766.0" r="4" fill="#52B6F5"/>
<circle cx="247.0" cy="766.0" r="4" fill="#483D8B"/>
<circle cx="251.0" cy="766.0" r="4" fill="#483D8B"/>
<circle cx="255.0" cy="766.0" r="4" fill="#483D8B"/>
<circle cx="259.0" cy="766.0" r="4" fill="#483D8B"/>
<circle cx="263.0" cy="766.0" r="4" fill="#483D8B"/>
<circle cx="267.0" cy="766.0" r="4" fill="#483D8B"/>
<circle cx="271.0" cy="766.0" r="4" fill="#483D8B"/>
<circle cx="275.0" cy="766.0" r="4" fill="#483D8B"/>
<circle cx="279.0" cy="766.0" r="4" fill="#4A67D8"/>
<circle cx="283.0" cy="766.0" r="4" fill="#4A67D8"/>
<circle cx="287.0" cy="766.0" r="4" fill="#4A67D8"/>
<circle cx="291.0" cy="766.0" r="4" fill="#483D8B"/>
<circle cx="127.0" cy="770.0" r="4" fill="#FFFF4C"/>
<circle cx="131.0" cy="770.0" r="4" fill="#FFFF4C"/>
<circle cx="135.0" cy="770.0" r="4" fill="#FFFF4C"/>
<circle cx="139.0" cy="770.0" r="4" fill="#52B6F5"/>
<circle cx="143.0" cy="770.0" r="4" fill="#52B6F5"/>
<circle cx="147.0" cy="770.0" r="4" fill="#52B6F5"/>
<circle cx="151.0" cy="770.0" r="4" fill="#A4C84E"/>
<circle cx="155.0" cy="770.0" r="4" fill="#62C54A"/>
<circle cx="159.0" cy="770.0" r="4" fill="#483D8B"/>
<circle cx="163.0" cy="770.0" r="4" fill="#483D8B"/>
<circle cx="167.0" cy="770.0" r="4" fill="#52B6F5"/>
<circle cx="171.0" cy="770.0" r="4" fill="#52B6F5"/>
<circle cx="175.0" cy="770.0" r="4" fill="#52B6F5"/>
<circle cx="179.0" cy="770.0" r="4" fill="#483D8B"/>
<circle cx="183.0" cy="770.0" r="4" fill="#483D8B"/>
<circle cx="187.0" cy="770.0" r="4" fill="#483D8B"/>
<circle cx="191.0" cy="770.0" r="4" fill="#483D8B"/>
<circle cx="195.0" cy="770.0" r="4" fill="#483D8B"/>
<circle cx="199.0" cy="770.0" r="4" fill="#483D8B"/>
<circle cx="203.0" cy="770.0" r="4" fill="#483D8B"/>
<circle cx="207.0" cy="770.0" r="4" fill="#483D8B"/>
<circle cx="211.0" cy="770.0" r="4" fill="#483D8B"/>
<circle cx="215.0" cy="770.0" r="4" fill="#62C54A"/>
<circle cx="219.0" cy="770.0" r="4" fill="#62C54A"/>
<circle cx="223.0" cy="770.0" r="4" fill="#62C54A"/>
<circle cx="227.0" cy="770.0" r="4" fill="#483D8B"/>
<circle cx="231.0" cy="770.0" r="4" fill="#483D8B"/>
<circle cx="235.0" cy="770.0" r="4" fill="#483D8B"/>
<circle cx="239.0" cy="770.0" r="4" fill="#52B6F5"/>
<circle cx="243.0" cy="770.0" r="4" fill="#52B6F5"/>
<circle cx="247.0" cy="770.0" r="4" fill="#52B6F5"/>
<circle cx="251.0" cy="770.0" r="4" fill="#483D8B"/>
<circle cx="255.0" cy="770.0" r="4" fill="#62C54A"/>
<circle cx="259.0" cy="770.0" r="4" fill="#483D8B"/>
<circle cx="263.0" cy="770.0" r="4" fill="#483D8B"/>
<circle cx="267.0" cy="770.0" r="4" fill="#483D8B"/>
<circle cx="271.0" cy="770.0" r="4" fill="#483D8B"/>
<circle cx="275.0" cy="770.0" r="4" fill="#483D8B"/>
<circle cx="279.0" cy="770.0" r="4" fill="#4A67D8"/>
<circle cx="283.0" cy="770.0" r="4" fill="#4A67D8"/>
<circle cx="287.0" cy="770.0" r="4" fill="#4A67D8"/>
<circle cx="291.0" cy="770.0" r="4" fill="#483D8B"/>
<circle cx="295.0" cy="770.0" r="4" fill="#483D8B"/>
<circle cx="127.0" cy="774.0" r="4" fill="#FFFF4C"/>
<circle cx="131.0" cy="774.0" r="4" fill="#FFFF4C"/>
<circle cx="135.0" cy="774.0" r="4" fill="#FFFF4C"/>
<circle cx="139.0" cy="774.0" r="4" fill="#FFFF4C"/>
<circle cx="143.0" cy="774.0" r="4" fill="#52B6F5"/>
<circle cx="147.0" cy="774.0" r="4" fill="#A4C84E"/>
<circle cx="151.0" cy="774.0" r="4" fill="#A4C84E"/>
<circle cx="155.0" cy="774.0" r="4" fill="#A4C84E"/>
<circle cx="159.0" cy="774.0" r="4" fill="#483D8B"/>
<circle cx="163.0" cy="774.0" r="4" fill="#483D8B"/>
<circle cx="167.0" cy="774.0" r="4" fill="#52B6F5"/>
<circle cx="171.0" cy="774.0" r="4" fill="#52B6F5"/>
<circle cx="175.0" cy="774.0" r="4" fill="#52B6F5"/>
<circle cx="179.0" cy="774.0" r="4" fill="#483D8B"/>
<circle cx="183.0" cy="774.0" r="4" fill="#483D8B"/>
<circle cx="187.0" cy="774.0" r="4" fill="#483D8B"/>
<circle cx="191.0" cy="774.0" r="4" fill="#483D8B"/>
<circle cx="195.0" cy="774.0" r="4" fill="#483D8B"/>
<circle cx="199.0" cy="774.0" r="4" fill="#A4C84E"/>
<circle cx="203.0" cy="774.0" r="4" fill="#A4C84E"/>
<circle cx="207.0" cy="774.0" r="4" fill="#483D8B"/>
<circle cx="211.0" cy="774.0" r="4" fill="#483D8B"/>
<circle cx="215.0" cy="774.0" r="4" fill="#483D8B"/>
<circle cx="219.0" cy="774.0" r="4" fill="#62C54A"/>
<circle cx="223.0" cy="774.0" r="4" fill="#62C54A"/>
<circle cx="227.0" cy="774.0" r="4" fill="#483D8B"/>
<circle cx="231.0" cy="774.0" r="4" fill="#483D8B"/>
<circle cx="235.0" cy="774.0" r="4" fill="#483D8B"/>
<circle cx="239.0" cy="774.0" r="4" fill="#52B6F5"/>
<circle cx="243.0" cy="774.0" r="4" fill="#52B6F5"/>
<circle cx="247.0" cy="774.0" r="4" fill="#52B6F5"/>
<circle cx="251.0" cy="774.0" r="4" fill="#62C54A"/>
<circle cx="255.0" cy="774.0" r="4" fill="#62C54A"/>
<circle cx="259.0" cy="774.0" r="4" fill="#62C54A"/>
<circle cx="263.0" cy="774.0" r="4" fill="#483D8B"/>
<circle cx="267.0" cy="774.0" r="4" fill="#483D8B"/>
<circle cx="271.0" cy="774.0" r="4" fill="#483D8B"/>
<circle cx="275.0" cy="774.0" r="4" fill="#483D8B"/>
<circle cx="279.0" cy="774.0" r="4" fill="#483D8B"/>
<circle cx="283.0" cy="774.0" r="4" fill="#52B6F5"/>
<circle cx="287.0" cy="774.0" r="4" fill="#52B6F5"/>
<circle cx="291.0" cy="774.0" r="4" fill="#52B6F5"/>
<circle cx="295.0" cy="774.0" r="4" fill="#483D8B"/>
<circle cx="127.0" cy="778.0" r="4" fill="#FFFF4C"/>
<circle cx="131.0" cy="778.0" r="4" fill="#FFFF4C"/>
<circle cx="135.0" cy="778.0" r="4" fill="#FFFF4C"/>
<circle cx="139.0" cy="778.0" r="4" fill="#FFFF4C"/>
<circle cx="143.0" cy="778.0" r="4" fill="#FFFF4C"/>
<circle cx="147.0" cy="778.0" r="4" fill="#A4C84E"/>
<circle cx="151.0" cy="778.0" r="4" fill="#A4C84E"/>
<circle cx="155.0" cy="778.0" r="4" fill="#A4C84E"/>
<circle cx="159.0" cy="778.0" r="4" fill="#483D8B"/>
<circle cx="163.0" cy="778.0" r="4" fill="#483D8B"/>
<circle cx="167.0" cy="778.0" r="4" fill="#483D8B"/>
<circle cx="171.0" cy="778.0" r="4" fill="#483D8B"/>
<circle cx="175.0" cy="778.0" r="4" fill="#483D8B"/>
<circle cx="179.0" cy="778.0" r="4" fill="#483D8B"/>
<circle cx="183.0" cy="778.0" r="4" fill="#483D8B"/>
<circle cx="187.0" cy="778.0" r="4" fill="#483D8B"/>
<circle cx="191.0" cy="778.0" r="4" fill="#483D8B"/>
<circle cx="195.0" cy="778.0" r="4" fill="#483D8B"/>
<circle cx="199.0" cy="778.0" r="4" fill="#A4C84E"/>
<circle cx="203.0" cy="778.0" r="4" fill="#A4C84E"/>
<circle cx="207.0" cy="778.0" r="4" fill="#483D8B"/>
<circle cx="211.0" cy="778.0" r="4" fill="#483D8B"/>
<circle cx="215.0" cy="778.0" r="4" fill="#483D8B"/>
<circle cx="219.0" cy="778.0" r="4" fill="#483D8B"/>
<circle cx="223.0" cy="778.0" r="4" fill="#483D8B"/>
<circle cx="227.0" cy="778.0" r="4" fill="#483D8B"/>
<circle cx="231.0" cy="778.0" r="4" fill="#483D8B"/>
<circle cx="235.0" cy="778.0" r="4" fill="#483D8B"/>
<circle cx="239.0" cy="778.0" r="4" fill="#52B6F5"/>
<circle cx="243.0" cy="778.0" r="4" fill="#52B6F5"/>
<circle cx="247.0" cy="778.0" r="4" fill="#52B6F5"/>
<circle cx="251.0" cy="778.0" r="4" fill="#62C54A"/>
<circle cx="255.0" cy="778.0" r="4" fill="#62C54A"/>
<circle cx="259.0" cy="778.0" r="4" fill="#62C54A"/>
<circle cx="263.0" cy="778.0" r="4" fill="#483D8B"/>
<circle cx="267.0" cy="778.0" r="4" fill="#483D8B"/>
<circle cx="271.0" cy="778.0" r="4" fill="#483D8B"/>
<circle cx="275.0" cy="778.0" r="4" fill="#483D8B"/>
<circle cx="279.0" cy="778.0" r="4" fill="#483D8B"/>
<circle cx="283.0" cy="778.0" r="4" fill="#52B6F5"/>
<circle cx="287.0" cy="778.0" r="4" fill="#52B6F5"/>
<circle cx="291.0" cy="778.0" r="4" fill="#52B6F5"/>
<circle cx="295.0" cy="778.0" r="4" fill="#483D8B"/>
<circle cx="299.0" cy="778.0" r="4" fill="#483D8B"/>
<circle cx="127.0" cy="782.0" r="4" fill="#FFFF4C"/>
<circle cx="131.0" cy="782.0" r="4" fill="#FFFF4C"/>
<circle cx="135.0" cy="782.0" r="4" fill="#FFFF4C"/>
<circle cx="139.0" cy="782.0" r="4" fill="#FFFF4C"/>
<circle cx="143.0" cy="782.0" r="4" fill="#FFFF4C"/>
<circle cx="147.0" cy="782.0" r="4" fill="#4A67D8"/>
<circle cx="151.0" cy="782.0" r="4" fill="#4A67D8"/>
<circle cx="155.0" cy="782.0" r="4" fill="#4A67D8"/>
<circle cx="159.0" cy="782.0" r="4" fill="#483D8B"/>
<circle cx="163.0" cy="782.0" r="4" fill="#483D8B"/>
<circle cx="167.0" cy="782.0" r="4" fill="#483D8B"/>
<circle cx="171.0" cy="782.0" r="4" fill="#483D8B"/>
<circle cx="175.0" cy="782.0" r="4" fill="#483D8B"/>
<circle cx="179.0" cy="782.0" r="4" fill="#483D8B"/>
<circle cx="183.0" cy="782.0" r="4" fill="#483D8B"/>
<circle cx="187.0" cy="782.0" r="4" fill="#483D8B"/>
<circle cx="191.0" cy="782.0" r="4" fill="#483D8B"/>
<circle cx="195.0" cy="782.0" r="4" fill="#483D8B"/>
<circle cx="199.0" cy="782.0" r="4" fill="#A4C84E"/>
<circle cx="203.0" cy="782.0" r="4" fill="#A4C84E"/>
<circle cx="207.0" cy="782.0" r="4" fill="#4A67D8"/>
<circle cx="211.0" cy="782.0" r="4" fill="#4A67D8"/>
<circle cx="215.0" cy="782.0" r="4" fill="#4A67D8"/>
<circle cx="219.0" cy="782.0" r="4" fill="#483D8B"/>
<circle cx="223.0" cy="782.0" r="4" fill="#483D8B"/>
<circle cx="227.0" cy="782.0" r="4" fill="#483D8B"/>
<circle cx="231.0" cy="782.0" r="4" fill="#483D8B"/>
<circle cx="235.0" cy="782.0" r="4" fill="#A4C84E"/>
<circle cx="239.0" cy="782.0" r="4" fill="#A4C84E"/>
<circle cx="243.0" cy="782.0" r="4" fill="#A4C84E"/>
<circle cx="247.0" cy="782.0" r="4" fill="#483D8B"/>
<circle cx="251.0" cy="782.0" r="4" fill="#62C54A"/>
<circle cx="255.0" cy="782.0" r="4" fill="#62C54A"/>
<circle cx="259.0" cy="782.0" r="4" fill="#4A67D8"/>
<circle cx="263.0" cy="782.0" r="4" fill="#4A67D8"/>
<circle cx="267.0" cy="782.0" r="4" fill="#52B6F5"/>
<circle cx="271.0" cy="782.0" r="4" fill="#52B6F5"/>
<circle cx="275.0" cy="782.0" r="4" fill="#52B6F5"/>
<circle cx="279.0" cy="782.0" r="4" fill="#483D8B"/>
<circle cx="283.0" cy="782.0" r="4" fill="#52B6F5"/>
<circle cx="287.0" cy="782.0" r="4" fill="#52B6F5"/>
<circle cx="291.0" cy="782.0" r="4" fill="#52B6F5"/>
<circle cx="295.0" cy="782.0" r="4" fill="#483D8B"/>
<circle cx="299.0" cy="782.0" r="4" fill="#483D8B"/>
<circle cx="127.0" cy="786.0" r="4" fill="#FFFF4C"/>
<circle cx="131.0" cy="786.0" r="4" fill="#FFFF4C"/>
<circle cx="135.0" cy="786.0" r="4" fill="#FFFF4C"/>
<circle cx="139.0" cy="786.0" r="4" fill="#FFFF4C"/>
<circle cx="143.0" cy="786.0" r="4" fill="#FFFF4C"/>
<circle cx="147.0" cy="786.0" r="4" fill="#4A67D8"/>
<circle cx="151.0" cy="786.0" r="4" fill="#4A67D8"/>
<circle cx="155.0" cy="786.0" r="4" fill="#4A67D8"/>
<circle cx="159.0" cy="786.0" r="4" fill="#4A67D8"/>
<circle cx="163.0" cy="786.0" r="4" fill="#62C54A"/>
<circle cx="167.0" cy="786.0" r="4" fill="#62C54A"/>
<circle cx="171.0" cy="786.0" r="4" fill="#62C54A"/>
<circle cx="175.0" cy="786.0" r="4" fill="#62C54A"/>
<circle cx="179.0" cy="786.0" r="4" fill="#4A67D8"/>
<circle cx="183.0" cy="786.0" r="4" fill="#4A67D8"/>
<circle cx="187.0" cy="786.0" r="4" fill="#4A67D8"/>
<circle cx="191.0" cy="786.0" r="4" fill="#483D8B"/>
<circle cx="195.0" cy="786.0" r="4" fill="#483D8B"/>
<circle cx="199.0" cy="786.0" r="4" fill="#483D8B"/>
<circle cx="203.0" cy="786.0" r="4" fill="#483D8B"/>
<circle cx="207.0" cy="786.0" r="4" fill="#4A67D8"/>
<circle cx="211.0" cy="786.0" r="4" fill="#4A67D8"/>
<circle cx="215.0" cy="786.0" r="4" fill="#4A67D8"/>
<circle cx="219.0" cy="786.0" r="4" fill="#483D8B"/>
<circle cx="223.0" cy="786.0" r="4" fill="#483D8B"/>
<circle cx="227.0" cy="786.0" r="4" fill="#483D8B"/>
<circle cx="231.0" cy="786.0" r="4" fill="#A4C84E"/>
<circle cx="235.0" cy="786.0" r="4" fill="#A4C84E"/>
<circle cx="239.0" cy="786.0" r="4" fill="#A4C84E"/>
<circle cx="243.0" cy="786.0" r="4" fill="#483D8B"/>
<circle cx="247.0" cy="786.0" r="4" fill="#483D8B"/>
<circle cx="251.0" cy="786.0" r="4" fill="#483D8B"/>
<circle cx="255.0" cy="786.0" r="4" fill="#4A67D8"/>
<circle cx="259.0" cy="786.0" r="4" fill="#4A67D8"/>
<circle cx="263.0" cy="786.0" r="4" fill="#4A67D8"/>
<circle cx="267.0" cy="786.0" r="4" fill="#52B6F5"/>
<circle cx="271.0" cy="786.0" r="4" fill="#52B6F5"/>
<circle cx="275.0" cy="786.0" r="4" fill="#52B6F5"/>
<circle cx="279.0" cy="786.0" r="4" fill="#52B6F5"/>
<circle cx="283.0" cy="786.0" r="4" fill="#52B6F5"/>
<circle cx="287.0" cy="786.0" r="4" fill="#483D8B"/>
<circle cx="291.0" cy="786.0" r="4" fill="#483D8B"/>
<circle cx="295.0" cy="786.0" r="4" fill="#483D8B"/>
<circle cx="299.0" cy="786.0" r="4" fill="#483D8B"/>
<circle cx="127.0" cy="790.0" r="4" fill="#FFFF4C"/>
<circle cx="131.0" cy="790.0" r="4" fill="#FFFF4C"/>
<circle cx="135.0" cy="790.0" r="4" fill="#FFFF4C"/>
<circle cx="139.0" cy="790.0" r="4" fill="#FFFF4C"/>
<circle cx="143.0" cy="790.0" r="4" fill="#FFFF4C"/>
<circle cx="147.0" cy="790.0" r="4" fill="#4A67D8"/>
<circle cx="151.0" cy="790.0" r="4" fill="#4A67D8"/>
<circle cx="155.0" cy="790.0" r="4" fill="#4A67D8"/>
<circle cx="159.0" cy="790.0" r="4" fill="#4A67D8"/>
<circle cx="163.0" cy="790.0" r="4" fill="#A4C84E"/>
<circle cx="167.0" cy="790.0" r="4" fill="#A4C84E"/>
<circle cx="171.0" cy="790.0" r="4" fill="#62C54A"/>
<circle cx="175.0" cy="790.0" r="4" fill="#62C54A"/>
<circle cx="179.0" cy="790.0" r="4" fill="#4A67D8"/>
<circle cx="183.0" cy="790.0" r="4" fill="#4A67D8"/>
<circle cx="187.0" cy="790.0" r="4" fill="#4A67D8"/>
<circle cx="191.0" cy="790.0" r="4" fill="#483D8B"/>
<circle cx="195.0" cy="790.0" r="4" fill="#483D8B"/>
<circle cx="199.0" cy="790.0" r="4" fill="#483D8B"/>
<circle cx="203.0" cy="790.0" r="4" fill="#483D8B"/>
<circle cx="207.0" cy="790.0" r="4" fill="#483D8B"/>
<circle cx="211.0" cy="790.0" r="4" fill="#483D8B"/>
<circle cx="215.0" cy="790.0" r="4" fill="#483D8B"/>
<circle cx="219.0" cy="790.0" r="4" fill="#483D8B"/>
<circle cx="223.0" cy="790.0" r="4" fill="#483D8B"/>
<circle cx="227.0" cy="790.0" r="4" fill="#483D8B"/>
<circle cx="231.0" cy="790.0" r="4" fill="#483D8B"/>
<circle cx="235.0" cy="790.0" r="4" fill="#62C54A"/>
<circle cx="239.0" cy="790.0" r="4" fill="#62C54A"/>
<circle cx="243.0" cy="790.0" r="4" fill="#62C54A"/>
<circle cx="247.0" cy="790.0" r="4" fill="#483D8B"/>
<circle cx="251.0" cy="790.0" r="4" fill="#483D8B"/>
<circle cx="255.0" cy="790.0" r="4" fill="#4A67D8"/>
<circle cx="259.0" cy="790.0" r="4" fill="#4A67D8"/>
<circle cx="263.0" cy="790.0" r="4" fill="#4A67D8"/>
<circle cx="267.0" cy="790.0" r="4" fill="#483D8B"/>
<circle cx="271.0" cy="790.0" r="4" fill="#52B6F5"/>
<circle cx="275.0" cy="790.0" r="4" fill="#52B6F5"/>
<circle cx="279.0" cy="790.0" r="4" fill="#52B6F5"/>
<circle cx="283.0" cy="790.0" r="4" fill="#4A67D8"/>
<circle cx="287.0" cy="790.0" r="4" fill="#4A67D8"/>
<circle cx="291.0" cy="790.0" r="4" fill="#483D8B"/>
<circle cx="295.0" cy="790.0" r="4" fill="#483D8B"/>
<circle cx="299.0" cy="790.0" r="4" fill="#483D8B"/>
<circle cx="127.0" cy="794.0" r="4" fill="#FFFF4C"/>
<circle cx="131.0" cy="794.0" r="4" fill="#FFFF4C"/>
<circle cx="135.0" cy="794.0" r="4" fill="#FFFF4C"/>
<circle cx="139.0" cy="794.0" r="4" fill="#FFFF4C"/>
<circle cx="143.0" cy="794.0" r="4" fill="#FFFF4C"/>
<circle cx="147.0" cy="794.0" r="4" fill="#4A67D8"/>
<circle cx="151.0" cy="794.0" r="4" fill="#4A67D8"/>
<circle cx="155.0" cy="794.0" r="4" fill="#4A67D8"/>
<circle cx="159.0" cy="794.0" r="4" fill="#4A67D8"/>
<circle cx="163.0" cy="794.0" r="4" fill="#A4C84E"/>
<circle cx="167.0" cy="794.0" r="4" fill="#A4C84E"/>
<circle cx="171.0" cy="794.0" r="4" fill="#A4C84E"/>
<circle cx="175.0" cy="794.0" r="4" fill="#483D8B"/>
<circle cx="179.0" cy="794.0" r="4" fill="#483D8B"/>
<circle cx="183.0" cy="794.0" r="4" fill="#4A67D8"/>
<circle cx="187.0" cy="794.0" r="4" fill="#4A67D8"/>
<circle cx="191.0" cy="794.0" r="4" fill="#4A67D8"/>
<circle cx="195.0" cy="794.0" r="4" fill="#4A67D8"/>
<circle cx="199.0" cy="794.0" r="4" fill="#4A67D8"/>
<circle cx="203.0" cy="794.0" r="4" fill="#483D8B"/>
<circle cx="207.0" cy="794.0" r="4" fill="#483D8B"/>
<circle cx="211.0" cy="794.0" r="4" fill="#483D8B"/>
<circle cx="215.0" cy="794.0" r="4" fill="#483D8B"/>
<circle cx="219.0" cy="794.0" r="4" fill="#483D8B"/>
<circle cx="223.0" cy="794.0" r="4" fill="#483D8B"/>
<circle cx="227.0" cy="794.0" r="4" fill="#483D8B"/>
<circle cx="231.0" cy="794.0" r="4" fill="#483D8B"/>
<circle cx="235.0" cy="794.0" r="4" fill="#62C54A"/>
<circle cx="239.0" cy="794.0" r="4" fill="#62C54A"/>
<circle cx="243.0" cy="794.0" r="4" fill="#62C54A"/>
<circle cx="247.0" cy="794.0" r="4" fill="#52B6F5"/>
<circle cx="251.0" cy="794.0" r="4" fill="#4A67D8"/>
<circle cx="255.0" cy="794.0" r="4" fill="#4A67D8"/>
<circle cx="259.0" cy="794.0" r="4" fill="#4A67D8"/>
<circle cx="263.0" cy="794.0" r="4" fill="#A4C84E"/>
<circle cx="267.0" cy="794.0" r="4" fill="#A4C84E"/>
<circle cx="271.0" cy="794.0" r="4" fill="#483D8B"/>
<circle cx="275.0" cy="794.0" r="4" fill="#52B6F5"/>
<circle cx="279.0" cy="794.0" r="4" fill="#4A67D8"/>
<circle cx="283.0" cy="794.0" r="4" fill="#4A67D8"/>
<circle cx="287.0" cy="794.0" r="4" fill="#4A67D8"/>
<circle cx="291.0" cy="794.0" r="4" fill="#4A67D8"/>
<circle cx="295.0" cy="794.0" r="4" fill="#483D8B"/>
<circle cx="299.0" cy="794.0" r="4" fill="#483D8B"/>
<circle cx="303.0" cy="794.0" r="4" fill="#483D8B"/>
<circle cx="127.0" cy="798.0" r="4" fill="#FFFF4C"/>
<circle cx="131.0" cy="798.0" r="4" fill="#FFFF4C"/>
<circle cx="135.0" cy="798.0" r="4" fill="#A4C84E"/>
<circle cx="139.0" cy="798.0" r="4" fill="#FFFF4C"/>
<circle cx="143.0" cy="798.0" r="4" fill="#FFFF4C"/>
<circle cx="147.0" cy="798.0" r="4" fill="#62C54A"/>
<circle cx="151.0" cy="798.0" r="4" fill="#62C54A"/>
<circle cx="155.0" cy="798.0" r="4" fill="#62C54A"/>
<circle cx="159.0" cy="798.0" r="4" fill="#483D8B"/>
<circle cx="163.0" cy="798.0" r="4" fill="#483D8B"/>
<circle cx="167.0" cy="798.0" r="4" fill="#483D8B"/>
<circle cx="171.0" cy="798.0" r="4" fill="#A4C84E"/>
<circle cx="175.0" cy="798.0" r="4" fill="#483D8B"/>
<circle cx="179.0" cy="798.0" r="4" fill="#483D8B"/>
<circle cx="183.0" cy="798.0" r="4" fill="#483D8B"/>
<circle cx="187.0" cy="798.0" r="4" fill="#483D8B"/>
<circle cx="191.0" cy="798.0" r="4" fill="#4A67D8"/>
<circle cx="195.0" cy="798.0" r="4" fill="#4A67D8"/>
<circle cx="199.0" cy="798.0" r="4" fill="#4A67D8"/>
<circle cx="203.0" cy="798.0" r="4" fill="#483D8B"/>
<circle cx="207.0" cy="798.0" r="4" fill="#483D8B"/>
<circle cx="211.0" cy="798.0" r="4" fill="#483D8B"/>
<circle cx="215.0" cy="798.0" r="4" fill="#483D8B"/>
<circle cx="219.0" cy="798.0" r="4" fill="#483D8B"/>
<circle cx="223.0" cy="798.0" r="4" fill="#483D8B"/>
<circle cx="227.0" cy="798.0" r="4" fill="#483D8B"/>
<circle cx="231.0" cy="798.0" r="4" fill="#4A67D8"/>
<circle cx="235.0" cy="798.0" r="4" fill="#4A67D8"/>
<circle cx="239.0" cy="798.0" r="4" fill="#62C54A"/>
<circle cx="243.0" cy="798.0" r="4" fill="#52B6F5"/>
<circle cx="247.0" cy="798.0" r="4" fill="#52B6F5"/>
<circle cx="251.0" cy="798.0" r="4" fill="#4A67D8"/>
<circle cx="255.0" cy="798.0" r="4" fill="#4A67D8"/>
<circle cx="259.0" cy="798.0" r="4" fill="#4A67D8"/>
<circle cx="263.0" cy="798.0" r="4" fill="#A4C84E"/>
<circle cx="267.0" cy="798.0" r="4" fill="#A4C84E"/>
<circle cx="271.0" cy="798.0" r="4" fill="#4A67D8"/>
<circle cx="275.0" cy="798.0" r="4" fill="#4A67D8"/>
<circle cx="279.0" cy="798.0" r="4" fill="#4A67D8"/>
<circle cx="283.0" cy="798.0" r="4" fill="#4A67D8"/>
<circle cx="287.0" cy="798.0" r="4" fill="#4A67D8"/>
<circle cx="291.0" cy="798.0" r="4" fill="#4A67D8"/>
<circle cx="295.0" cy="798.0" r="4" fill="#483D8B"/>
<circle cx="299.0" cy="798.0" r="4" fill="#483D8B"/>
<circle cx="303.0" cy="798.0" r="4" fill="#483D8B"/>
<circle cx="127.0" cy="802.0" r="4" fill="#FFFF4C"/>
<circle cx="131.0" cy="802.0" r="4" fill="#A4C84E"/>
<circle cx="135.0" cy="802.0" r="4" fill="#A4C84E"/>
<circle cx="139.0" cy="802.0" r="4" fill="#A4C84E"/>
<circle cx="143.0" cy="802.0" r="4" fill="#A4C84E"/>
<circle cx="147.0" cy="802.0" r="4" fill="#A4C84E"/>
<circle cx="151.0" cy="802.0" r="4" fill="#62C54A"/>
<circle cx="155.0" cy="802.0" r="4" fill="#62C54A"/>
<circle cx="159.0" cy="802.0" r="4" fill="#62C54A"/>
<circle cx="163.0" cy="802.0" r="4" fill="#483D8B"/>
<circle cx="167.0" cy="802.0" r="4" fill="#483D8B"/>
<circle cx="171.0" cy="802.0" r="4" fill="#A4C84E"/>
<circle cx="175.0" cy="802.0" r="4" fill="#A4C84E"/>
<circle cx="179.0" cy="802.0" r="4" fill="#483D8B"/>
<circle cx="183.0" cy="802.0" r="4" fill="#483D8B"/>
<circle cx="187.0" cy="802.0" r="4" fill="#483D8B"/>
<circle cx="191.0" cy="802.0" r="4" fill="#483D8B"/>
<circle cx="195.0" cy="802.0" r="4" fill="#4A67D8"/>
<circle cx="199.0" cy="802.0" r="4" fill="#483D8B"/>
<circle cx="203.0" cy="802.0" r="4" fill="#483D8B"/>
<circle cx="207.0" cy="802.0" r="4" fill="#483D8B"/>
<circle cx="211.0" cy="802.0" r="4" fill="#483D8B"/>
<circle cx="215.0" cy="802.0" r="4" fill="#483D8B"/>
<circle cx="219.0" cy="802.0" r="4" fill="#483D8B"/>
<circle cx="223.0" cy="802.0" r="4" fill="#483D8B"/>
<circle cx="227.0" cy="802.0" r="4" fill="#483D8B"/>
<circle cx="231.0" cy="802.0" r="4" fill="#483D8B"/>
<circle cx="235.0" cy="802.0" r="4" fill="#4A67D8"/>
<circle cx="239.0" cy="802.0" r="4" fill="#4A67D8"/>
<circle cx="243.0" cy="802.0" r="4" fill="#52B6F5"/>
<circle cx="247.0" cy="802.0" r="4" fill="#52B6F5"/>
<circle cx="251.0" cy="802.0" r="4" fill="#4A67D8"/>
<circle cx="255.0" cy="802.0" r="4" fill="#4A67D8"/>
<circle cx="259.0" cy="802.0" r="4" fill="#4A67D8"/>
<circle cx="263.0" cy="802.0" r="4" fill="#A4C84E"/>
<circle cx="267.0" cy="802.0" r="4" fill="#A4C84E"/>
<circle cx="271.0" cy="802.0" r="4" fill="#4A67D8"/>
<circle cx="275.0" cy="802.0" r="4" fill="#4A67D8"/>
<circle cx="279.0" cy="802.0" r="4" fill="#A4C84E"/>
<circle cx="283.0" cy="802.0" r="4" fill="#A4C84E"/>
<circle cx="287.0" cy="802.0" r="4" fill="#483D8B"/>
<circle cx="291.0" cy="802.0" r="4" fill="#483D8B"/>
<circle cx="295.0" cy="802.0" r="4" fill="#483D8B"/>
<circle cx="299.0" cy="802.0" r="4" fill="#52B6F5"/>
<circle cx="303.0" cy="802.0" r="4" fill="#52B6F5"/>
<circle cx="127.0" cy="806.0" r="4" fill="#62C54A"/>
<circle cx="131.0" cy="806.0" r="4" fill="#62C54A"/>
<circle cx="135.0" cy="806.0" r="4" fill="#A4C84E"/>
<circle cx="139.0" cy="806.0" r="4" fill="#A4C84E"/>
<circle cx="143.0" cy="806.0" r="4" fill="#A4C84E"/>
<circle cx="147.0" cy="806.0" r="4" fill="#A4C84E"/>
<circle cx="151.0" cy="806.0" r="4" fill="#62C54A"/>
<circle cx="155.0" cy="806.0" r="4" fill="#62C54A"/>
<circle cx="159.0" cy="806.0" r="4" fill="#62C54A"/>
<circle cx="163.0" cy="806.0" r="4" fill="#483D8B"/>
<circle cx="167.0" cy="806.0" r="4" fill="#483D8B"/>
<circle cx="171.0" cy="806.0" r="4" fill="#A4C84E"/>
<circle cx="175.0" cy="806.0" r="4" fill="#A4C84E"/>
<circle cx="179.0" cy="806.0" r="4" fill="#A4C84E"/>
<circle cx="183.0" cy="806.0" r="4" fill="#483D8B"/>
<circle cx="187.0" cy="806.0" r="4" fill="#483D8B"/>
<circle cx="191.0" cy="806.0" r="4" fill="#483D8B"/>
<circle cx="195.0" cy="806.0" r="4" fill="#483D8B"/>
<circle cx="199.0" cy="806.0" r="4" fill="#483D8B"/>
<circle cx="203.0" cy="806.0" r="4" fill="#483D8B"/>
<circle cx="207.0" cy="806.0" r="4" fill="#483D8B"/>
<circle cx="211.0" cy="806.0" r="4" fill="#483D8B"/>
<circle cx="215.0" cy="806.0" r="4" fill="#483D8B"/>
<circle cx="219.0" cy="806.0" r="4" fill="#483D8B"/>
<circle cx="223.0" cy="806.0" r="4" fill="#483D8B"/>
<circle cx="227.0" cy="806.0" r="4" fill="#483D8B"/>
<circle cx="231.0" cy="806.0" r="4" fill="#483D8B"/>
<circle cx="235.0" cy="806.0" r="4" fill="#4A67D8"/>
<circle cx="239.0" cy="806.0" r="4" fill="#52B6F5"/>
<circle cx="243.0" cy="806.0" r="4" fill="#52B6F5"/>
<circle cx="247.0" cy="806.0" r="4" fill="#483D8B"/>
<circle cx="251.0" cy="806.0" r="4" fill="#483D8B"/>
<circle cx="255.0" cy="806.0" r="4" fill="#483D8B"/>
<circle cx="259.0" cy="806.0" r="4" fill="#52B6F5"/>
<circle cx="263.0" cy="806.0" r="4" fill="#52B6F5"/>
<circle cx="267.0" cy="806.0" r="4" fill="#4A67D8"/>
<circle cx="271.0" cy="806.0" r="4" fill="#4A67D8"/>
<circle cx="275.0" cy="806.0" r="4" fill="#483D8B"/>
<circle cx="279.0" cy="806.0" r="4" fill="#A4C84E"/>
<circle cx="283.0" cy="806.0" r="4" fill="#A4C84E"/>
<circle cx="287.0" cy="806.0" r="4" fill="#483D8B"/>
<circle cx="291.0" cy="806.0" r="4" fill="#483D8B"/>
<circle cx="295.0" cy="806.0" r="4" fill="#483D8B"/>
<circle cx="299.0" cy="806.0" r="4" fill="#4A67D8"/>
<circle cx="303.0" cy="806.0" r="4" fill="#52B6F5"/>
<circle cx="307.0" cy="806.0" r="4" fill="#52B6F5"/>
<circle cx="127.0" cy="810.0" r="4" fill="#62C54A"/>
<circle cx="131.0" cy="810.0" r="4" fill="#62C54A"/>
<circle cx="135.0" cy="810.0" r="4" fill="#62C54A"/>
<circle cx="139.0" cy="810.0" r="4" fill="#A4C84E"/>
<circle cx="143.0" cy="810.0" r="4" fill="#A4C84E"/>
<circle cx="147.0" cy="810.0" r="4" fill="#A4C84E"/>
<circle cx="151.0" cy="810.0" r="4" fill="#A4C84E"/>
<circle cx="155.0" cy="810.0" r="4" fill="#62C54A"/>
<circle cx="159.0" cy="810.0" r="4" fill="#62C54A"/>
<circle cx="163.0" cy="810.0" r="4" fill="#62C54A"/>
<circle cx="167.0" cy="810.0" r="4" fill="#483D8B"/>
<circle cx="171.0" cy="810.0" r="4" fill="#A4C84E"/>
<circle cx="175.0" cy="810.0" r="4" fill="#A4C84E"/>
<circle cx="179.0" cy="810.0" r="4" fill="#A4C84E"/>
<circle cx="183.0" cy="810.0" r="4" fill="#4A67D8"/>
<circle cx="187.0" cy="810.0" r="4" fill="#4A67D8"/>
<circle cx="191.0" cy="810.0" r="4" fill="#483D8B"/>
<circle cx="195.0" cy="810.0" r="4" fill="#483D8B"/>
<circle cx="199.0" cy="810.0" r="4" fill="#483D8B"/>
<circle cx="203.0" cy="810.0" r="4" fill="#483D8B"/>
<circle cx="207.0" cy="810.0" r="4" fill="#483D8B"/>
<circle cx="211.0" cy="810.0" r="4" fill="#483D8B"/>
<circle cx="215.0" cy="810.0" r="4" fill="#483D8B"/>
<circle cx="219.0" cy="810.0" r="4" fill="#483D8B"/>
<circle cx="223.0" cy="810.0" r="4" fill="#483D8B"/>
<circle cx="227.0" cy="810.0" r="4" fill="#483D8B"/>
<circle cx="231.0" cy="810.0" r="4" fill="#483D8B"/>
<circle cx="235.0" cy="810.0" r="4" fill="#52B6F5"/>
<circle cx="239.0" cy="810.0" r="4" fill="#52B6F5"/>
<circle cx="243.0" cy="810.0" r="4" fill="#52B6F5"/>
<circle cx="247.0" cy="810.0" r="4" fill="#52B6F5"/>
<circle cx="251.0" cy="810.0" r="4" fill="#52B6F5"/>
<circle cx="255.0" cy="810.0" r="4" fill="#52B6F5"/>
<circle cx="259.0" cy="810.0" r="4" fill="#52B6F5"/>
<circle cx="263.0" cy="810.0" r="4" fill="#52B6F5"/>
<circle cx="267.0" cy="810.0" r="4" fill="#483D8B"/>
<circle cx="271.0" cy="810.0" r="4" fill="#483D8B"/>
<circle cx="275.0" cy="810.0" r="4" fill="#483D8B"/>
<circle cx="279.0" cy="810.0" r="4" fill="#483D8B"/>
<circle cx="283.0" cy="810.0" r="4" fill="#52B6F5"/>
<circle cx="287.0" cy="810.0" r="4" fill="#483D8B"/>
<circle cx="291.0" cy="810.0" r="4" fill="#483D8B"/>
<circle cx="295.0" cy="810.0" r="4" fill="#483D8B"/>
<circle cx="299.0" cy="810.0" r="4" fill="#4A67D8"/>
<circle cx="303.0" cy="810.0" r="4" fill="#4A67D8"/>
<circle cx="307.0" cy="810.0" r="4" fill="#4A67D8"/>
<circle cx="127.0" cy="814.0" r="4" fill="#62C54A"/>
<circle cx="131.0" cy="814.0" r="4" fill="#62C54A"/>
<circle cx="135.0" cy="814.0" r="4" fill="#62C54A"/>
<circle cx="139.0" cy="814.0" r="4" fill="#62C54A"/>
<circle cx="143.0" cy="814.0" r="4" fill="#62C54A"/>
<circle cx="147.0" cy="814.0" r="4" fill="#62C54A"/>
<circle cx="151.0" cy="814.0" r="4" fill="#62C54A"/>
<circle cx="155.0" cy="814.0" r="4" fill="#62C54A"/>
<circle cx="159.0" cy="814.0" r="4" fill="#62C54A"/>
<circle cx="163.0" cy="814.0" r="4" fill="#62C54A"/>
<circle cx="167.0" cy="814.0" r="4" fill="#62C54A"/>
<circle cx="171.0" cy="814.0" r="4" fill="#483D8B"/>
<circle cx="175.0" cy="814.0" r="4" fill="#483D8B"/>
<circle cx="179.0" cy="814.0" r="4" fill="#4A67D8"/>
<circle cx="183.0" cy="814.0" r="4" fill="#4A67D8"/>
<circle cx="187.0" cy="814.0" r="4" fill="#4A67D8"/>
<circle cx="191.0" cy="814.0" r="4" fill="#4A67D8"/>
<circle cx="195.0" cy="814.0" r="4" fill="#483D8B"/>
<circle cx="199.0" cy="814.0" r="4" fill="#483D8B"/>
<circle cx="203.0" cy="814.0" r="4" fill="#483D8B"/>
<circle cx="207.0" cy="814.0" r="4" fill="#483D8B"/>
<circle cx="211.0" cy="814.0" r="4" fill="#483D8B"/>
<circle cx="215.0" cy="814.0" r="4" fill="#483D8B"/>
<circle cx="219.0" cy="814.0" r="4" fill="#483D8B"/>
<circle cx="223.0" cy="814.0" r="4" fill="#4A67D8"/>
<circle cx="227.0" cy="814.0" r="4" fill="#4A67D8"/>
<circle cx="231.0" cy="814.0" r="4" fill="#483D8B"/>
<circle cx="235.0" cy="814.0" r="4" fill="#52B6F5"/>
<circle cx="239.0" cy="814.0" r="4" fill="#52B6F5"/>
<circle cx="243.0" cy="814.0" r="4" fill="#52B6F5"/>
<circle cx="247.0" cy="814.0" r="4" fill="#52B6F5"/>
<circle cx="251.0" cy="814.0" r="4" fill="#52B6F5"/>
<circle cx="255.0" cy="814.0" r="4" fill="#52B6F5"/>
<circle cx="259.0" cy="814.0" r="4" fill="#52B6F5"/>
<circle cx="263.0" cy="814.0" r="4" fill="#52B6F5"/>
<circle cx="267.0" cy="814.0" r="4" fill="#483D8B"/>
<circle cx="271.0" cy="814.0" r="4" fill="#483D8B"/>
<circle cx="275.0" cy="814.0" r="4" fill="#52B6F5"/>
<circle cx="279.0" cy="814.0" r="4" fill="#52B6F5"/>
<circle cx="283.0" cy="814.0" r="4" fill="#52B6F5"/>
<circle cx="287.0" cy="814.0" r="4" fill="#62C54A"/>
<circle cx="291.0" cy="814.0" r="4" fill="#62C54A"/>
<circle cx="295.0" cy="814.0" r="4" fill="#62C54A"/>
<circle cx="299.0" cy="814.0" r="4" fill="#4A67D8"/>
<circle cx="303.0" cy="814.0" r="4" fill="#4A67D8"/>
<circle cx="307.0" cy="814.0" r="4" fill="#4A67D8"/>
<circle cx="127.0" cy="818.0" r="4" fill="#62C54A"/>
<circle cx="131.0" cy="818.0" r="4" fill="#62C54A"/>
<circle cx="135.0" cy="818.0" r="4" fill="#62C54A"/>
<circle cx="139.0" cy="818.0" r="4" fill="#62C54A"/>
<circle cx="143.0" cy="818.0" r="4" fill="#62C54A"/>
<circle cx="147.0" cy="818.0" r="4" fill="#62C54A"/>
<circle cx="151.0" cy="818.0" r="4" fill="#62C54A"/>
<circle cx="155.0" cy="818.0" r="4" fill="#62C54A"/>
<circle cx="159.0" cy="818.0" r="4" fill="#62C54A"/>
<circle cx="163.0" cy="818.0" r="4" fill="#62C54A"/>
<circle cx="167.0" cy="818.0" r="4" fill="#62C54A"/>
<circle cx="171.0" cy="818.0" r="4" fill="#483D8B"/>
<circle cx="175.0" cy="818.0" r="4" fill="#483D8B"/>
<circle cx="179.0" cy="818.0" r="4" fill="#483D8B"/>
<circle cx="183.0" cy="818.0" r="4" fill="#4A67D8"/>
<circle cx="187.0" cy="818.0" r="4" fill="#4A67D8"/>
<circle cx="191.0" cy="818.0" r="4" fill="#483D8B"/>
<circle cx="195.0" cy="818.0" r="4" fill="#483D8B"/>
<circle cx="199.0" cy="818.0" r="4" fill="#483D8B"/>
<circle cx="203.0" cy="818.0" r="4" fill="#483D8B"/>
<circle cx="207.0" cy="818.0" r="4" fill="#483D8B"/>
<circle cx="211.0" cy="818.0" r="4" fill="#483D8B"/>
<circle cx="215.0" cy="818.0" r="4" fill="#483D8B"/>
<circle cx="219.0" cy="818.0" r="4" fill="#4A67D8"/>
<circle cx="223.0" cy="818.0" r="4" fill="#4A67D8"/>
<circle cx="227.0" cy="818.0" r="4" fill="#4A67D8"/>
<circle cx="231.0" cy="818.0" r="4" fill="#4A67D8"/>
<circle cx="235.0" cy="818.0" r="4" fill="#483D8B"/>
<circle cx="239.0" cy="818.0" r="4" fill="#52B6F5"/>
<circle cx="243.0" cy="818.0" r="4" fill="#52B6F5"/>
<circle cx="247.0" cy="818.0" r="4" fill="#52B6F5"/>
<circle cx="251.0" cy="818.0" r="4" fill="#52B6F5"/>
<circle cx="255.0" cy="818.0" r="4" fill="#52B6F5"/>
<circle cx="259.0" cy="818.0" r="4" fill="#52B6F5"/>
<circle cx="263.0" cy="818.0" r="4" fill="#483D8B"/>
<circle cx="267.0" cy="818.0" r="4" fill="#483D8B"/>
<circle cx="271.0" cy="818.0" r="4" fill="#483D8B"/>
<circle cx="275.0" cy="818.0" r="4" fill="#483D8B"/>
<circle cx="279.0" cy="818.0" r="4" fill="#483D8B"/>
<circle cx="283.0" cy="818.0" r="4" fill="#483D8B"/>
<circle cx="287.0" cy="818.0" r="4" fill="#62C54A"/>
<circle cx="291.0" cy="818.0" r="4" fill="#62C54A"/>
<circle cx="295.0" cy="818.0" r="4" fill="#62C54A"/>
<circle cx="299.0" cy="818.0" r="4" fill="#483D8B"/>
<circle cx="303.0" cy="818.0" r="4" fill="#483D8B"/>
<circle cx="307.0" cy="818.0" r="4" fill="#483D8B"/>
<circle cx="311.0" cy="818.0" r="4" fill="#52B6F5"/>
<circle cx="127.0" cy="822.0" r="4" fill="#62C54A"/>
<circle cx="131.0" cy="822.0" r="4" fill="#62C54A"/>
<circle cx="135.0" cy="822.0" r="4" fill="#62C54A"/>
<circle cx="139.0" cy="822.0" r="4" fill="#62C54A"/>
<circle cx="143.0" cy="822.0" r="4" fill="#62C54A"/>
<circle cx="147.0" cy="822.0" r="4" fill="#62C54A"/>
<circle cx="151.0" cy="822.0" r="4" fill="#62C54A"/>
<circle cx="155.0" cy="822.0" r="4" fill="#62C54A"/>
<circle cx="159.0" cy="822.0" r="4" fill="#483D8B"/>
<circle cx="163.0" cy="822.0" r="4" fill="#483D8B"/>
<circle cx="167.0" cy="822.0" r="4" fill="#483D8B"/>
<circle cx="171.0" cy="822.0" r="4" fill="#483D8B"/>
<circle cx="175.0" cy="822.0" r="4" fill="#483D8B"/>
<circle cx="179.0" cy="822.0" r="4" fill="#483D8B"/>
<circle cx="183.0" cy="822.0" r="4" fill="#483D8B"/>
<circle cx="187.0" cy="822.0" r="4" fill="#483D8B"/>
<circle cx="191.0" cy="822.0" r="4" fill="#483D8B"/>
<circle cx="195.0" cy="822.0" r="4" fill="#483D8B"/>
<circle cx="199.0" cy="822.0" r="4" fill="#483D8B"/>
<circle cx="203.0" cy="822.0" r="4" fill="#483D8B"/>
<circle cx="207.0" cy="822.0" r="4" fill="#483D8B"/>
<circle cx="211.0" cy="822.0" r="4" fill="#483D8B"/>
<circle cx="215.0" cy="822.0" r="4" fill="#483D8B"/>
<circle cx="219.0" cy="822.0" r="4" fill="#483D8B"/>
<circle cx="223.0" cy="822.0" r="4" fill="#4A67D8"/>
<circle cx="227.0" cy="822.0" r="4" fill="#4A67D8"/>
<circle cx="231.0" cy="822.0" r="4" fill="#483D8B"/>
<circle cx="235.0" cy="822.0" r="4" fill="#483D8B"/>
<circle cx="239.0" cy="822.0" r="4" fill="#483D8B"/>
<circle cx="243.0" cy="822.0" r="4" fill="#483D8B"/>
<circle cx="247.0" cy="822.0" r="4" fill="#52B6F5"/>
<circle cx="251.0" cy="822.0" r="4" fill="#52B6F5"/>
<circle cx="255.0" cy="822.0" r="4" fill="#52B6F5"/>
<circle cx="259.0" cy="822.0" r="4" fill="#52B6F5"/>
<circle cx="263.0" cy="822.0" r="4" fill="#483D8B"/>
<circle cx="267.0" cy="822.0" r="4" fill="#483D8B"/>
<circle cx="271.0" cy="822.0" r="4" fill="#483D8B"/>
<circle cx="275.0" cy="822.0" r="4" fill="#483D8B"/>
<circle cx="279.0" cy="822.0" r="4" fill="#483D8B"/>
<circle cx="283.0" cy="822.0" r="4" fill="#483D8B"/>
<circle cx="287.0" cy="822.0" r="4" fill="#483D8B"/>
<circle cx="291.0" cy="822.0" r="4" fill="#483D8B"/>
<circle cx="295.0" cy="822.0" r="4" fill="#483D8B"/>
<circle cx="299.0" cy="822.0" r="4" fill="#483D8B"/>
<circle cx="303.0" cy="822.0" r="4" fill="#483D8B"/>
<circle cx="307.0" cy="822.0" r="4" fill="#483D8B"/>
<circle cx="311.0" cy="822.0" r="4" fill="#52B6F5"/>
<circle cx="127.0" cy="826.0" r="4" fill="#62C54A"/>
<circle cx="131.0" cy="826.0" r="4" fill="#62C54A"/>
<circle cx="135.0" cy="826.0" r="4" fill="#62C54A"/>
<circle cx="139.0" cy="826.0" r="4" fill="#62C54A"/>
<circle cx="143.0" cy="826.0" r="4" fill="#62C54A"/>
<circle cx="147.0" cy="826.0" r="4" fill="#62C54A"/>
<circle cx="151.0" cy="826.0" r="4" fill="#62C54A"/>
<circle cx="155.0" cy="826.0" r="4" fill="#62C54A"/>
<circle cx="159.0" cy="826.0" r="4" fill="#483D8B"/>
<circle cx="163.0" cy="826.0" r="4" fill="#483D8B"/>
<circle cx="167.0" cy="826.0" r="4" fill="#483D8B"/>
<circle cx="171.0" cy="826.0" r="4" fill="#483D8B"/>
<circle cx="175.0" cy="826.0" r="4" fill="#483D8B"/>
<circle cx="179.0" cy="826.0" r="4" fill="#483D8B"/>
<circle cx="183.0" cy="826.0" r="4" fill="#483D8B"/>
<circle cx="187.0" cy="826.0" r="4" fill="#483D8B"/>
<circle cx="191.0" cy="826.0" r="4" fill="#483D8B"/>
<circle cx="195.0" cy="826.0" r="4" fill="#483D8B"/>
<circle cx="199.0" cy="826.0" r="4" fill="#483D8B"/>
<circle cx="203.0" cy="826.0" r="4" fill="#483D8B"/>
<circle cx="207.0" cy="826.0" r="4" fill="#483D8B"/>
<circle cx="211.0" cy="826.0" r="4" fill="#483D8B"/>
<circle cx="215.0" cy="826.0" r="4" fill="#483D8B"/>
<circle cx="219.0" cy="826.0" r="4" fill="#483D8B"/>
<circle cx="223.0" cy="826.0" r="4" fill="#483D8B"/>
<circle cx="227.0" cy="826.0" r="4" fill="#483D8B"/>
<circle cx="231.0" cy="826.0" r="4" fill="#483D8B"/>
<circle cx="235.0" cy="826.0" r="4" fill="#483D8B"/>
<circle cx="239.0" cy="826.0" r="4" fill="#483D8B"/>
<circle cx="243.0" cy="826.0" r="4" fill="#483D8B"/>
<circle cx="247.0" cy="826.0" r="4" fill="#52B6F5"/>
<circle cx="251.0" cy="826.0" r="4" fill="#52B6F5"/>
<circle cx="255.0" cy="826.0" r="4" fill="#52B6F5"/>
<circle cx="259.0" cy="826.0" r="4" fill="#483D8B"/>
<circle cx="263.0" cy="826.0" r="4" fill="#483D8B"/>
<circle cx="267.0" cy="826.0" r="4" fill="#483D8B"/>
<circle cx="271.0" cy="826.0" r="4" fill="#483D8B"/>
<circle cx="275.0" cy="826.0" r="4" fill="#483D8B"/>
<circle cx="279.0" cy="826.0" r="4" fill="#483D8B"/>
<circle cx="283.0" cy="826.0" r="4" fill="#483D8B"/>
<circle cx="287.0" cy="826.0" r="4" fill="#483D8B"/>
<circle cx="291.0" cy="826.0" r="4" fill="#483D8B"/>
<circle cx="295.0" cy="826.0" r="4" fill="#483D8B"/>
<circle cx="299.0" cy="826.0" r="4" fill="#483D8B"/>
<circle cx="303.0" cy="826.0" r="4" fill="#483D8B"/>
<circle cx="307.0" cy="826.0" r="4" fill="#483D8B"/>
<circle cx="311.0" cy="826.0" r="4" fill="#483D8B"/>
<circle cx="127.0" cy="830.0" r="4" fill="#A4C84E"/>
<circle cx="131.0" cy="830.0" r="4" fill="#A4C84E"/>
<circle cx="135.0" cy="830.0" r="4" fill="#62C54A"/>
<circle cx="139.0" cy="830.0" r="4" fill="#62C54A"/>
<circle cx="143.0" cy="830.0" r="4" fill="#62C54A"/>
<circle cx="147.0" cy="830.0" r="4" fill="#62C54A"/>
<circle cx="151.0" cy="830.0" r="4" fill="#62C54A"/>
<circle cx="155.0" cy="830.0" r="4" fill="#62C54A"/>
<circle cx="159.0" cy="830.0" r="4" fill="#483D8B"/>
<circle cx="163.0" cy="830.0" r="4" fill="#483D8B"/>
<circle cx="167.0" cy="830.0" r="4" fill="#4A67D8"/>
<circle cx="171.0" cy="830.0" r="4" fill="#4A67D8"/>
<circle cx="175.0" cy="830.0" r="4" fill="#4A67D8"/>
<circle cx="179.0" cy="830.0" r="4" fill="#483D8B"/>
<circle cx="183.0" cy="830.0" r="4" fill="#52B6F5"/>
<circle cx="187.0" cy="830.0" r="4" fill="#483D8B"/>
<circle cx="191.0" cy="830.0" r="4" fill="#483D8B"/>
<circle cx="195.0" cy="830.0" r="4" fill="#483D8B"/>
<circle cx="199.0" cy="830.0" r="4" fill="#483D8B"/>
<circle cx="203.0" cy="830.0" r="4" fill="#483D8B"/>
<circle cx="207.0" cy="830.0" r="4" fill="#483D8B"/>
<circle cx="211.0" cy="830.0" r="4" fill="#483D8B"/>
<circle cx="215.0" cy="830.0" r="4" fill="#483D8B"/>
<circle cx="219.0" cy="830.0" r="4" fill="#483D8B"/>
<circle cx="223.0" cy="830.0" r="4" fill="#483D8B"/>
<circle cx="227.0" cy="830.0" r="4" fill="#483D8B"/>
<circle cx="231.0" cy="830.0" r="4" fill="#483D8B"/>
<circle cx="235.0" cy="830.0" r="4" fill="#483D8B"/>
<circle cx="239.0" cy="830.0" r="4" fill="#483D8B"/>
<circle cx="243.0" cy="830.0" r="4" fill="#483D8B"/>
<circle cx="247.0" cy="830.0" r="4" fill="#483D8B"/>
<circle cx="251.0" cy="830.0" r="4" fill="#483D8B"/>
<circle cx="255.0" cy="830.0" r="4" fill="#483D8B"/>
<circle cx="259.0" cy="830.0" r="4" fill="#483D8B"/>
<circle cx="263.0" cy="830.0" r="4" fill="#483D8B"/>
<circle cx="267.0" cy="830.0" r="4" fill="#483D8B"/>
<circle cx="271.0" cy="830.0" r="4" fill="#483D8B"/>
<circle cx="275.0" cy="830.0" r="4" fill="#483D8B"/>
<circle cx="279.0" cy="830.0" r="4" fill="#4A67D8"/>
<circle cx="283.0" cy="830.0" r="4" fill="#483D8B"/>
<circle cx="287.0" cy="830.0" r="4" fill="#483D8B"/>
<circle cx="291.0" cy="830.0" r="4" fill="#483D8B"/>
<circle cx="295.0" cy="830.0" r="4" fill="#483D8B"/>
<circle cx="299.0" cy="830.0" r="4" fill="#483D8B"/>
<circle cx="303.0" cy="830.0" r="4" fill="#4A67D8"/>
<circle cx="307.0" cy="830.0" r="4" fill="#483D8B"/>
<circle cx="311.0" cy="830.0" r="4" fill="#483D8B"/>
<circle cx="315.0" cy="830.0" r="4" fill="#483D8B"/>
<circle cx="127.0" cy="834.0" r="4" fill="#A4C84E"/>
<circle cx="131.0" cy="834.0" r="4" fill="#A4C84E"/>
<circle cx="135.0" cy="834.0" r="4" fill="#62C54A"/>
<circle cx="139.0" cy="834.0" r="4" fill="#62C54A"/>
<circle cx="143.0" cy="834.0" r="4" fill="#62C54A"/>
<circle cx="147.0" cy="834.0" r="4" fill="#62C54A"/>
<circle cx="151.0" cy="834.0" r="4" fill="#62C54A"/>
<circle cx="155.0" cy="834.0" r="4" fill="#52B6F5"/>
<circle cx="159.0" cy="834.0" r="4" fill="#52B6F5"/>
<circle cx="163.0" cy="834.0" r="4" fill="#52B6F5"/>
<circle cx="167.0" cy="834.0" r="4" fill="#4A67D8"/>
<circle cx="171.0" cy="834.0" r="4" fill="#4A67D8"/>
<circle cx="175.0" cy="834.0" r="4" fill="#4A67D8"/>
<circle cx="179.0" cy="834.0" r="4" fill="#52B6F5"/>
<circle cx="183.0" cy="834.0" r="4" fill="#52B6F5"/>
<circle cx="187.0" cy="834.0" r="4" fill="#52B6F5"/>
<circle cx="191.0" cy="834.0" r="4" fill="#483D8B"/>
<circle cx="195.0" cy="834.0" r="4" fill="#483D8B"/>
<circle cx="199.0" cy="834.0" r="4" fill="#483D8B"/>
<circle cx="203.0" cy="834.0" r="4" fill="#483D8B"/>
<circle cx="207.0" cy="834.0" r="4" fill="#483D8B"/>
<circle cx="211.0" cy="834.0" r="4" fill="#483D8B"/>
<circle cx="215.0" cy="834.0" r="4" fill="#483D8B"/>
<circle cx="219.0" cy="834.0" r="4" fill="#483D8B"/>
<circle cx="223.0" cy="834.0" r="4" fill="#483D8B"/>
<circle cx="227.0" cy="834.0" r="4" fill="#483D8B"/>
<circle cx="231.0" cy="834.0" r="4" fill="#483D8B"/>
<circle cx="235.0" cy="834.0" r="4" fill="#483D8B"/>
<circle cx="239.0" cy="834.0" r="4" fill="#483D8B"/>
<circle cx="243.0" cy="834.0" r="4" fill="#483D8B"/>
<circle cx="247.0" cy="834.0" r="4" fill="#483D8B"/>
<circle cx="251.0" cy="834.0" r="4" fill="#483D8B"/>
<circle cx="255.0" cy="834.0" r="4" fill="#483D8B"/>
<circle cx="259.0" cy="834.0" r="4" fill="#483D8B"/>
<circle cx="263.0" cy="834.0" r="4" fill="#483D8B"/>
<circle cx="267.0" cy="834.0" r="4" fill="#483D8B"/>
<circle cx="271.0" cy="834.0" r="4" fill="#483D8B"/>
<circle cx="275.0" cy="834.0" r="4" fill="#4A67D8"/>
<circle cx="279.0" cy="834.0" r="4" fill="#4A67D8"/>
<circle cx="283.0" cy="834.0" r="4" fill="#4A67D8"/>
<circle cx="287.0" cy="834.0" r="4" fill="#483D8B"/>
<circle cx="291.0" cy="834.0" r="4" fill="#483D8B"/>
<circle cx="295.0" cy="834.0" r="4" fill="#483D8B"/>
<circle cx="299.0" cy="834.0" r="4" fill="#4A67D8"/>
<circle cx="303.0" cy="834.0" r="4" fill="#4A67D8"/>
<circle cx="307.0" cy="834.0" r="4" fill="#4A67D8"/>
<circle cx="311.0" cy="834.0" r="4" fill="#4A67D8"/>
<circle cx="315.0" cy="834.0" r="4" fill="#4A67D8"/>
<circle cx="127.0" cy="838.0" r="4" fill="#62C54A"/>
<circle cx="131.0" cy="838.0" r="4" fill="#62C54A"/>
<circle cx="135.0" cy="838.0" r="4" fill="#62C54A"/>
<circle cx="139.0" cy="838.0" r="4" fill="#62C54A"/>
<circle cx="143.0" cy="838.0" r="4" fill="#62C54A"/>
<circle cx="147.0" cy="838.0" r="4" fill="#62C54A"/>
<circle cx="151.0" cy="838.0" r="4" fill="#62C54A"/>
<circle cx="155.0" cy="838.0" r="4" fill="#52B6F5"/>
<circle cx="159.0" cy="838.0" r="4" fill="#52B6F5"/>
<circle cx="163.0" cy="838.0" r="4" fill="#52B6F5"/>
<circle cx="167.0" cy="838.0" r="4" fill="#4A67D8"/>
<circle cx="171.0" cy="838.0" r="4" fill="#4A67D8"/>
<circle cx="175.0" cy="838.0" r="4" fill="#4A67D8"/>
<circle cx="179.0" cy="838.0" r="4" fill="#52B6F5"/>
<circle cx="183.0" cy="838.0" r="4" fill="#52B6F5"/>
<circle cx="187.0" cy="838.0" r="4" fill="#52B6F5"/>
<circle cx="191.0" cy="838.0" r="4" fill="#483D8B"/>
<circle cx="195.0" cy="838.0" r="4" fill="#483D8B"/>
<circle cx="199.0" cy="838.0" r="4" fill="#483D8B"/>
<circle cx="203.0" cy="838.0" r="4" fill="#483D8B"/>
<circle cx="207.0" cy="838.0" r="4" fill="#483D8B"/>
<circle cx="211.0" cy="838.0" r="4" fill="#483D8B"/>
<circle cx="215.0" cy="838.0" r="4" fill="#62C54A"/>
<circle cx="219.0" cy="838.0" r="4" fill="#483D8B"/>
<circle cx="223.0" cy="838.0" r="4" fill="#483D8B"/>
<circle cx="227.0" cy="838.0" r="4" fill="#483D8B"/>
<circle cx="231.0" cy="838.0" r="4" fill="#483D8B"/>
<circle cx="235.0" cy="838.0" r="4" fill="#483D8B"/>
<circle cx="239.0" cy="838.0" r="4" fill="#483D8B"/>
<circle cx="243.0" cy="838.0" r="4" fill="#483D8B"/>
<circle cx="247.0" cy="838.0" r="4" fill="#483D8B"/>
<circle cx="251.0" cy="838.0" r="4" fill="#483D8B"/>
<circle cx="255.0" cy="838.0" r="4" fill="#483D8B"/>
<circle cx="259.0" cy="838.0" r="4" fill="#483D8B"/>
<circle cx="263.0" cy="838.0" r="4" fill="#483D8B"/>
<circle cx="267.0" cy="838.0" r="4" fill="#483D8B"/>
<circle cx="271.0" cy="838.0" r="4" fill="#483D8B"/>
<circle cx="275.0" cy="838.0" r="4" fill="#4A67D8"/>
<circle cx="279.0" cy="838.0" r="4" fill="#4A67D8"/>
<circle cx="283.0" cy="838.0" r="4" fill="#4A67D8"/>
<circle cx="287.0" cy="838.0" r="4" fill="#483D8B"/>
<circle cx="291.0" cy="838.0" r="4" fill="#4A67D8"/>
<circle cx="295.0" cy="838.0" r="4" fill="#4A67D8"/>
<circle cx="299.0" cy="838.0" r="4" fill="#4A67D8"/>
<circle cx="303.0" cy="838.0" r="4" fill="#4A67D8"/>
<circle cx="307.0" cy="838.0" r="4" fill="#4A67D8"/>
<circle cx="311.0" cy="838.0" r="4" fill="#483D8B"/>
<circle cx="315.0" cy="838.0" r="4" fill="#4A67D8"/>
<circle cx="127.0" cy="842.0" r="4" fill="#62C54A"/>
<circle cx="131.0" cy="842.0" r="4" fill="#62C54A"/>
<circle cx="135.0" cy="842.0" r="4" fill="#62C54A"/>
<circle cx="139.0" cy="842.0" r="4" fill="#62C54A"/>
<circle cx="143.0" cy="842.0" r="4" fill="#62C54A"/>
<circle cx="147.0" cy="842.0" r="4" fill="#4A67D8"/>
<circle cx="151.0" cy="842.0" r="4" fill="#4A67D8"/>
<circle cx="155.0" cy="842.0" r="4" fill="#4A67D8"/>
<circle cx="159.0" cy="842.0" r="4" fill="#52B6F5"/>
<circle cx="163.0" cy="842.0" r="4" fill="#62C54A"/>
<circle cx="167.0" cy="842.0" r="4" fill="#62C54A"/>
<circle cx="171.0" cy="842.0" r="4" fill="#4A67D8"/>
<circle cx="175.0" cy="842.0" r="4" fill="#4A67D8"/>
<circle cx="179.0" cy="842.0" r="4" fill="#483D8B"/>
<circle cx="183.0" cy="842.0" r="4" fill="#483D8B"/>
<circle cx="187.0" cy="842.0" r="4" fill="#52B6F5"/>
<circle cx="191.0" cy="842.0" r="4" fill="#483D8B"/>
<circle cx="195.0" cy="842.0" r="4" fill="#483D8B"/>
<circle cx="199.0" cy="842.0" r="4" fill="#483D8B"/>
<circle cx="203.0" cy="842.0" r="4" fill="#483D8B"/>
<circle cx="207.0" cy="842.0" r="4" fill="#483D8B"/>
<circle cx="211.0" cy="842.0" r="4" fill="#62C54A"/>
<circle cx="215.0" cy="842.0" r="4" fill="#62C54A"/>
<circle cx="219.0" cy="842.0" r="4" fill="#62C54A"/>
<circle cx="223.0" cy="842.0" r="4" fill="#483D8B"/>
<circle cx="227.0" cy="842.0" r="4" fill="#483D8B"/>
<circle cx="231.0" cy="842.0" r="4" fill="#483D8B"/>
<circle cx="235.0" cy="842.0" r="4" fill="#483D8B"/>
<circle cx="239.0" cy="842.0" r="4" fill="#483D8B"/>
<circle cx="243.0" cy="842.0" r="4" fill="#483D8B"/>
<circle cx="247.0" cy="842.0" r="4" fill="#483D8B"/>
<circle cx="251.0" cy="842.0" r="4" fill="#483D8B"/>
<circle cx="255.0" cy="842.0" r="4" fill="#483D8B"/>
<circle cx="259.0" cy="842.0" r="4" fill="#483D8B"/>
<circle cx="263.0" cy="842.0" r="4" fill="#483D8B"/>
<circle cx="267.0" cy="842.0" r="4" fill="#483D8B"/>
<circle cx="271.0" cy="842.0" r="4" fill="#483D8B"/>
<circle cx="275.0" cy="842.0" r="4" fill="#483D8B"/>
<circle cx="279.0" cy="842.0" r="4" fill="#483D8B"/>
<circle cx="283.0" cy="842.0" r="4" fill="#483D8B"/>
<circle cx="287.0" cy="842.0" r="4" fill="#483D8B"/>
<circle cx="291.0" cy="842.0" r="4" fill="#4A67D8"/>
<circle cx="295.0" cy="842.0" r="4" fill="#4A67D8"/>
<circle cx="299.0" cy="842.0" r="4" fill="#4A67D8"/>
<circle cx="303.0" cy="842.0" r="4" fill="#483D8B"/>
<circle cx="307.0" cy="842.0" r="4" fill="#483D8B"/>
<circle cx="311.0" cy="842.0" r="4" fill="#483D8B"/>
<circle cx="315.0" cy="842.0" r="4" fill="#4A67D8"/>
<circle cx="319.0" cy="842.0" r="4" fill="#4A67D8"/>
<circle cx="127.0" cy="846.0" r="4" fill="#62C54A"/>
<circle cx="131.0" cy="846.0" r="4" fill="#62C54A"/>
<circle cx="135.0" cy="846.0" r="4" fill="#62C54A"/>
<circle cx="139.0" cy="846.0" r="4" fill="#62C54A"/>
<circle cx="143.0" cy="846.0" r="4" fill="#62C54A"/>
<circle cx="147.0" cy="846.0" r="4" fill="#4A67D8"/>
<circle cx="151.0" cy="846.0" r="4" fill="#4A67D8"/>
<circle cx="155.0" cy="846.0" r="4" fill="#4A67D8"/>
<circle cx="159.0" cy="846.0" r="4" fill="#62C54A"/>
<circle cx="163.0" cy="846.0" r="4" fill="#62C54A"/>
<circle cx="167.0" cy="846.0" r="4" fill="#62C54A"/>
<circle cx="171.0" cy="846.0" r="4" fill="#4A67D8"/>
<circle cx="175.0" cy="846.0" r="4" fill="#4A67D8"/>
<circle cx="179.0" cy="846.0" r="4" fill="#483D8B"/>
<circle cx="183.0" cy="846.0" r="4" fill="#483D8B"/>
<circle cx="187.0" cy="846.0" r="4" fill="#483D8B"/>
<circle cx="191.0" cy="846.0" r="4" fill="#483D8B"/>
<circle cx="195.0" cy="846.0" r="4" fill="#483D8B"/>
<circle cx="199.0" cy="846.0" r="4" fill="#483D8B"/>
<circle cx="203.0" cy="846.0" r="4" fill="#483D8B"/>
<circle cx="207.0" cy="846.0" r="4" fill="#483D8B"/>
<circle cx="211.0" cy="846.0" r="4" fill="#62C54A"/>
<circle cx="215.0" cy="846.0" r="4" fill="#62C54A"/>
<circle cx="219.0" cy="846.0" r="4" fill="#62C54A"/>
<circle cx="223.0" cy="846.0" r="4" fill="#483D8B"/>
<circle cx="227.0" cy="846.0" r="4" fill="#483D8B"/>
<circle cx="231.0" cy="846.0" r="4" fill="#483D8B"/>
<circle cx="235.0" cy="846.0" r="4" fill="#483D8B"/>
<circle cx="239.0" cy="846.0" r="4" fill="#483D8B"/>
<circle cx="243.0" cy="846.0" r="4" fill="#483D8B"/>
<circle cx="247.0" cy="846.0" r="4" fill="#483D8B"/>
<circle cx="251.0" cy="846.0" r="4" fill="#483D8B"/>
<circle cx="255.0" cy="846.0" r="4" fill="#483D8B"/>
<circle cx="259.0" cy="846.0" r="4" fill="#483D8B"/>
<circle cx="263.0" cy="846.0" r="4" fill="#483D8B"/>
<circle cx="267.0" cy="846.0" r="4" fill="#483D8B"/>
<circle cx="271.0" cy="846.0" r="4" fill="#483D8B"/>
<circle cx="275.0" cy="846.0" r="4" fill="#483D8B"/>
<circle cx="279.0" cy="846.0" r="4" fill="#483D8B"/>
<circle cx="283.0" cy="846.0" r="4" fill="#483D8B"/>
<circle cx="287.0" cy="846.0" r="4" fill="#483D8B"/>
<circle cx="291.0" cy="846.0" r="4" fill="#4A67D8"/>
<circle cx="295.0" cy="846.0" r="4" fill="#4A67D8"/>
<circle cx="299.0" cy="846.0" r="4" fill="#4A67D8"/>
<circle cx="303.0" cy="846.0" r="4" fill="#483D8B"/>
<circle cx="307.0" cy="846.0" r="4" fill="#483D8B"/>
<circle cx="311.0" cy="846.0" r="4" fill="#483D8B"/>
<circle cx="315.0" cy="846.0" r="4" fill="#483D8B"/>
<circle cx="319.0" cy="846.0" r="4" fill="#483D8B"/>
<circle cx="390.4" cy="643.2" r="5.9" fill="#483D8B"/>
<circle cx="336.4" cy="668.4" r="5.9" fill="#A4C84E"/>
<circle cx="377.4" cy="684.9" r="5.9" fill="#483D8B"/>
<circle cx="357.0" cy="696.5" r="5.9" fill="#483D8B"/>
<circle cx="349.3" cy="689.0" r="5.9" fill="#FFFF4C"/>
<circle cx="401.5" cy="691.2" r="5.9" fill="#FFFF4C"/>
<circle cx="435.2" cy="685.7" r="5.9" fill="#52B6F5"/>
<circle cx="379.5" cy="706.9" r="5.9" fill="#483D8B"/>
<circle cx="395.8" cy="708.6" r="5.9" fill="#4A67D8"/>
<circle cx="421.9" cy="710.2" r="5.9" fill="#483D8B"/>
<circle cx="504.2" cy="640.8" r="5.9" fill="#483D8B"/>
<circle cx="334.8" cy="719.3" r="5.9" fill="#483D8B"/>
<circle cx="357.0" cy="733.2" r="5.9" fill="#52B6F5"/>
<circle cx="381.1" cy="726.5" r="5.9" fill="#483D8B"/>
<circle cx="442.4" cy="733.7" r="5.9" fill="#4A67D8"/>
<circle cx="381.1" cy="745.4" r="5.9" fill="#52B6F5"/>
<circle cx="332.4" cy="759.4" r="5.9" fill="#483D8B"/>
<circle cx="349.3" cy="758.6" r="5.9" fill="#4A67D8"/>
<circle cx="354.9" cy="764.2" r="5.9" fill="#483D8B"/>
<circle cx="342.0" cy="768.3" r="5.9" fill="#A4C84E"/>
<circle cx="332.4" cy="769.1" r="5.9" fill="#483D8B"/>
<circle cx="344.1" cy="775.2" r="5.9" fill="#483D8B"/>
<circle cx="381.1" cy="762.3" r="5.9" fill="#483D8B"/>
<circle cx="399.4" cy="767.1" r="5.9" fill="#483D8B"/>
<circle cx="405.5" cy="772.3" r="5.9" fill="#52B6F5"/>
<circle cx="415.6" cy="778.4" r="5.9" fill="#483D8B"/>
<circle cx="444.3" cy="768.7" r="5.9" fill="#483D8B"/>
<circle cx="466.5" cy="769.1" r="5.9" fill="#483D8B"/>
<circle cx="340.4" cy="782.7" r="5.9" fill="#4A67D8"/>
<circle cx="330.0" cy="787.5" r="5.9" fill="#483D8B"/>
<circle cx="341.6" cy="791.5" r="5.9" fill="#483D8B"/>
<circle cx="358.9" cy="789.9" r="5.9" fill="#483D8B"/>
<circle cx="379.0" cy="781.6" r="5.9" fill="#483D8B"/>
<circle cx="332.4" cy="798.8" r="5.9" fill="#483D8B"/>
<circle cx="342.0" cy="799.6" r="5.9" fill="#483D8B"/>
<circle cx="419.9" cy="803.1" r="5.9" fill="#483D8B"/>
<circle cx="442.4" cy="803.3" r="5.9" fill="#483D8B"/>
<circle cx="461.4" cy="797.6" r="5.9" fill="#483D8B"/>
<circle cx="362.1" cy="805.2" r="5.9" fill="#4A67D8"/>
<circle cx="351.7" cy="806.8" r="5.9" fill="#483D8B"/>
<circle cx="354.9" cy="811.6" r="5.9" fill="#483D8B"/>
<circle cx="391.8" cy="808.4" r="5.9" fill="#4A67D8"/>
<circle cx="397.8" cy="809.7" r="5.9" fill="#483D8B"/>
<circle cx="373.7" cy="814.0" r="5.9" fill="#483D8B"/>
<circle cx="342.8" cy="814.8" r="5.9" fill="#62C54A"/>
<circle cx="333.2" cy="822.1" r="5.9" fill="#62C54A"/>
<circle cx="345.3" cy="821.3" r="5.9" fill="#4A67D8"/>
<circle cx="350.9" cy="827.7" r="5.9" fill="#483D8B"/>
<circle cx="360.5" cy="829.8" r="5.9" fill="#483D8B"/>
<circle cx="409.0" cy="823.3" r="5.9" fill="#4A67D8"/>
<circle cx="429.6" cy="820.8" r="5.9" fill="#483D8B"/>
<circle cx="401.5" cy="836.5" r="5.9" fill="#4A67D8"/>
<circle cx="433.1" cy="839.4" r="5.9" fill="#4A67D8"/>
<circle cx="342.0" cy="841.3" r="5.9" fill="#483D8B"/>
<circle cx="350.9" cy="837.3" r="5.9" fill="#4A67D8"/>
<circle cx="353.3" cy="843.7" r="5.9" fill="#4A67D8"/>
<circle cx="363.7" cy="842.1" r="5.9" fill="#483D8B"/>
<circle cx="370.1" cy="846.9" r="5.9" fill="#483D8B"/>
<circle cx="383.0" cy="846.9" r="5.9" fill="#483D8B"/>
<circle cx="395.8" cy="845.3" r="5.9" fill="#483D8B"/>
<circle cx="409.5" cy="845.3" r="5.9" fill="#483D8B"/>
<circle cx="330.0" cy="842.9" r="5.9" fill="#483D8B"/>
<circle cx="558.0" cy="755.1" r="5.9" fill="#483D8B"/>
<circle cx="580.5" cy="794.0" r="5.9" fill="#483D8B"/>
<circle cx="493.0" cy="831.7" r="5.9" fill="#483D8B"/>
<circle cx="504.2" cy="839.7" r="5.9" fill="#483D8B"/>
<circle cx="489.0" cy="845.3" r="5.9" fill="#483D8B"/>
<circle cx="533.9" cy="829.0" r="5.9" fill="#483D8B"/>
<circle cx="593.3" cy="837.8" r="5.9" fill="#483D8B"/>
<circle cx="643.7" cy="830.1" r="5.9" fill="#483D8B"/>
<circle cx="677.4" cy="845.3" r="5.9" fill="#483D8B"/>
<circle cx="714.5" cy="847.4" r="5.9" fill="#483D8B"/>
<circle cx="235.9" cy="528.5" r="5.9" fill="#A4C84E"/>
<circle cx="261.8" cy="531.7" r="5.9" fill="#483D8B"/>
<circle cx="267.4" cy="523.7" r="5.9" fill="#62C54A"/>
<circle cx="241.2" cy="543.7" r="5.9" fill="#483D8B"/>
<circle cx="245.3" cy="548.6" r="5.9" fill="#52B6F5"/>
<circle cx="132.1" cy="227.0" r="5.9" fill="#52B6F5"/>
<circle cx="129.2" cy="236.6" r="5.9" fill="#C0884A"/>
<circle cx="129.2" cy="232.8" r="5.9" fill="#4A67D8"/>
<circle cx="129.2" cy="241.4" r="5.9" fill="#52B6F5"/>
<circle cx="129.2" cy="257.7" r="5.9" fill="#52B6F5"/>
<circle cx="137.8" cy="267.3" r="5.9" fill="#52B6F5"/>
<circle cx="131.6" cy="262.0" r="5.9" fill="#62C54A"/>
<circle cx="129.2" cy="271.6" r="5.9" fill="#4A67D8"/>
<circle cx="129.2" cy="280.2" r="5.9" fill="#62C54A"/>
<circle cx="129.2" cy="286.5" r="5.9" fill="#52B6F5"/>
<circle cx="139.3" cy="296.6" r="5.9" fill="#52B6F5"/>
<circle cx="129.2" cy="297.5" r="5.9" fill="#4A67D8"/>
<circle cx="129.2" cy="301.4" r="5.9" fill="#52B6F5"/>
<circle cx="135.6" cy="309.4" r="5.9" fill="#FFFF4C"/>
<circle cx="129.2" cy="309.9" r="5.9" fill="#52B6F5"/>
<circle cx="129.2" cy="320.1" r="5.9" fill="#4A67D8"/>
<circle cx="134.5" cy="331.2" r="5.9" fill="#52B6F5"/>
<circle cx="129.2" cy="331.8" r="5.9" fill="#483D8B"/>
<circle cx="129.2" cy="337.6" r="5.9" fill="#62C54A"/>
<circle cx="132.4" cy="345.1" r="5.9" fill="#52B6F5"/>
<circle cx="130.8" cy="345.1" r="5.9" fill="#4A67D8"/>
<circle cx="145.2" cy="349.4" r="5.9" fill="#483D8B"/>
<circle cx="157.4" cy="352.6" r="5.9" fill="#483D8B"/>
<circle cx="132.4" cy="352.6" r="5.9" fill="#52B6F5"/>
<circle cx="145.7" cy="360.6" r="5.9" fill="#483D8B"/>
<circle cx="130.3" cy="357.9" r="5.9" fill="#4A67D8"/>
<circle cx="139.3" cy="365.4" r="5.9" fill="#A4C84E"/>
<circle cx="129.2" cy="366.4" r="5.9" fill="#FFFF4C"/>
<circle cx="136.1" cy="368.6" r="5.9" fill="#4A67D8"/>
<circle cx="129.2" cy="373.9" r="5.9" fill="#62C54A"/>
<circle cx="142.0" cy="379.2" r="5.9" fill="#483D8B"/>
<circle cx="143.0" cy="383.5" r="5.9" fill="#FFFF4C"/>
<circle cx="129.2" cy="384.6" r="5.9" fill="#4A67D8"/>
<circle cx="143.0" cy="388.8" r="5.9" fill="#4A67D8"/>
<circle cx="152.6" cy="392.0" r="5.9" fill="#483D8B"/>
<circle cx="129.2" cy="392.0" r="5.9" fill="#52B6F5"/>
<circle cx="128.9" cy="404.6" r="5.9" fill="#62C54A"/>
<circle cx="129.3" cy="385.4" r="5.9" fill="#483D8B"/>
<circle cx="129.3" cy="398.7" r="5.9" fill="#4A67D8"/>
<circle cx="129.3" cy="414.3" r="5.9" fill="#FFFF4C"/>
<circle cx="129.3" cy="421.2" r="5.9" fill="#A4C84E"/>
<circle cx="129.3" cy="428.2" r="5.9" fill="#52B6F5"/>
<circle cx="129.3" cy="435.7" r="5.9" fill="#483D8B"/>
<circle cx="129.3" cy="445.8" r="5.9" fill="#FFFF4C"/>
<circle cx="129.3" cy="454.9" r="5.9" fill="#52B6F5"/>
<circle cx="128.9" cy="463.5" r="5.9" fill="#C0884A"/>
<circle cx="129.8" cy="464.6" r="5.9" fill="#FFFF4C"/>
<circle cx="129.8" cy="474.2" r="5.9" fill="#52B6F5"/>
<circle cx="151.8" cy="404.1" r="5.9" fill="#483D8B"/>
<circle cx="148.5" cy="398.7" r="5.9" fill="#A4C84E"/>
<circle cx="161.4" cy="401.4" r="5.9" fill="#A4C84E"/>
<circle cx="166.7" cy="405.2" r="5.9" fill="#A4C84E"/>
<circle cx="136.8" cy="401.4" r="5.9" fill="#4A67D8"/>
<circle cx="150.7" cy="425.0" r="5.9" fill="#A4C84E"/>
<circle cx="143.2" cy="413.2" r="5.9" fill="#FFFF4C"/>
<circle cx="145.3" cy="418.5" r="5.9" fill="#A4C84E"/>
<circle cx="141.0" cy="433.5" r="5.9" fill="#4A67D8"/>
<circle cx="141.0" cy="440.0" r="5.9" fill="#4A67D8"/>
<circle cx="151.2" cy="453.9" r="5.9" fill="#D4A43C"/>
<circle cx="140.5" cy="451.7" r="5.9" fill="#4A67D8"/>
<circle cx="156.0" cy="430.3" r="5.9" fill="#483D8B"/>
<circle cx="155.0" cy="461.4" r="5.9" fill="#A4C84E"/>
<circle cx="135.7" cy="464.6" r="5.9" fill="#FFFF4C"/>
<circle cx="143.2" cy="464.6" r="5.9" fill="#483D8B"/>
<circle cx="152.8" cy="471.0" r="5.9" fill="#52B6F5"/>
<circle cx="142.1" cy="475.3" r="5.9" fill="#62C54A"/>
<circle cx="157.1" cy="476.4" r="5.9" fill="#A4C84E"/>
<circle cx="183.9" cy="424.4" r="5.9" fill="#A4C84E"/>
<circle cx="166.7" cy="448.5" r="5.9" fill="#483D8B"/>
<circle cx="168.4" cy="454.9" r="5.9" fill="#483D8B"/>
<circle cx="167.8" cy="468.9" r="5.9" fill="#483D8B"/>
<circle cx="174.2" cy="469.9" r="5.9" fill="#A4C84E"/>
<circle cx="189.2" cy="474.2" r="5.9" fill="#483D8B"/>
<circle cx="205.3" cy="469.4" r="5.9" fill="#A4C84E"/>
<circle cx="170.0" cy="476.4" r="5.9" fill="#4A67D8"/>
<circle cx="130.3" cy="486.1" r="5.9" fill="#C0884A"/>
<circle cx="129.3" cy="496.8" r="5.9" fill="#FFFF4C"/>
<circle cx="128.9" cy="506.4" r="5.9" fill="#FFFF4C"/>
<circle cx="130.3" cy="512.8" r="5.9" fill="#A4C84E"/>
<circle cx="129.3" cy="520.3" r="5.9" fill="#A4C84E"/>
<circle cx="128.9" cy="525.7" r="5.9" fill="#4A67D8"/>
<circle cx="133.6" cy="528.9" r="5.9" fill="#C0884A"/>
<circle cx="129.3" cy="539.6" r="5.9" fill="#D4A43C"/>
<circle cx="130.3" cy="547.1" r="5.9" fill="#D4A43C"/>
<circle cx="128.9" cy="555.7" r="5.9" fill="#4A67D8"/>
<circle cx="133.6" cy="554.6" r="5.9" fill="#D4A43C"/>
<circle cx="129.3" cy="564.2" r="5.9" fill="#FFFF4C"/>
<circle cx="142.1" cy="488.2" r="5.9" fill="#483D8B"/>
<circle cx="148.5" cy="486.1" r="5.9" fill="#4A67D8"/>
<circle cx="155.0" cy="486.1" r="5.9" fill="#FFFF4C"/>
<circle cx="144.3" cy="496.8" r="5.9" fill="#52B6F5"/>
<circle cx="156.0" cy="496.8" r="5.9" fill="#52B6F5"/>
<circle cx="148.5" cy="506.4" r="5.9" fill="#483D8B"/>
<circle cx="148.5" cy="513.9" r="5.9" fill="#483D8B"/>
<circle cx="159.3" cy="508.5" r="5.9" fill="#A4C84E"/>
<circle cx="141.0" cy="515.0" r="5.9" fill="#52B6F5"/>
<circle cx="147.5" cy="522.5" r="5.9" fill="#483D8B"/>
<circle cx="152.8" cy="530.0" r="5.9" fill="#483D8B"/>
<circle cx="137.8" cy="540.7" r="5.9" fill="#D4A43C"/>
<circle cx="146.4" cy="535.3" r="5.9" fill="#D4A43C"/>
<circle cx="146.4" cy="543.9" r="5.9" fill="#D4A43C"/>
<circle cx="144.3" cy="553.5" r="5.9" fill="#483D8B"/>
<circle cx="152.8" cy="553.5" r="5.9" fill="#483D8B"/>
<circle cx="146.4" cy="564.2" r="5.9" fill="#62C54A"/>
<circle cx="156.0" cy="564.2" r="5.9" fill="#483D8B"/>
<circle cx="164.6" cy="481.8" r="5.9" fill="#483D8B"/>
<circle cx="174.2" cy="485.0" r="5.9" fill="#52B6F5"/>
<circle cx="173.2" cy="494.6" r="5.9" fill="#483D8B"/>
<circle cx="165.7" cy="501.0" r="5.9" fill="#62C54A"/>
<circle cx="166.7" cy="515.0" r="5.9" fill="#483D8B"/>
<circle cx="176.4" cy="511.8" r="5.9" fill="#62C54A"/>
<circle cx="183.9" cy="512.8" r="5.9" fill="#62C54A"/>
<circle cx="159.3" cy="519.3" r="5.9" fill="#52B6F5"/>
<circle cx="165.7" cy="526.7" r="5.9" fill="#4A67D8"/>
<circle cx="176.4" cy="523.5" r="5.9" fill="#483D8B"/>
<circle cx="176.4" cy="531.0" r="5.9" fill="#483D8B"/>
<circle cx="164.6" cy="536.4" r="5.9" fill="#62C54A"/>
<circle cx="184.9" cy="523.5" r="5.9" fill="#A4C84E"/>
<circle cx="187.1" cy="532.1" r="5.9" fill="#52B6F5"/>
<circle cx="194.6" cy="525.7" r="5.9" fill="#52B6F5"/>
<circle cx="180.7" cy="539.6" r="5.9" fill="#A4C84E"/>
<circle cx="174.2" cy="546.0" r="5.9" fill="#4A67D8"/>
<circle cx="161.4" cy="555.7" r="5.9" fill="#62C54A"/>
<circle cx="170.0" cy="555.7" r="5.9" fill="#A4C84E"/>
<circle cx="179.6" cy="557.8" r="5.9" fill="#62C54A"/>
<circle cx="186.0" cy="562.1" r="5.9" fill="#A4C84E"/>
<circle cx="174.2" cy="565.3" r="5.9" fill="#52B6F5"/>
<circle cx="200.5" cy="492.5" r="5.9" fill="#4A67D8"/>
<circle cx="196.7" cy="499.4" r="5.9" fill="#A4C84E"/>
<circle cx="205.3" cy="541.7" r="5.9" fill="#483D8B"/>
<circle cx="187.1" cy="542.8" r="5.9" fill="#4A67D8"/>
<circle cx="192.4" cy="544.9" r="5.9" fill="#A4C84E"/>
<circle cx="197.8" cy="544.9" r="5.9" fill="#483D8B"/>
<circle cx="193.5" cy="551.4" r="5.9" fill="#483D8B"/>
<circle cx="195.7" cy="555.7" r="5.9" fill="#4A67D8"/>
<circle cx="204.2" cy="561.0" r="5.9" fill="#52B6F5"/>
<circle cx="197.8" cy="566.4" r="5.9" fill="#62C54A"/>
<circle cx="208.5" cy="553.5" r="5.9" fill="#483D8B"/>
<circle cx="128.9" cy="547.1" r="5.9" fill="#C0884A"/>
<circle cx="138.8" cy="555.7" r="5.9" fill="#D4A43C"/>
<circle cx="139.7" cy="569.4" r="5.9" fill="#D4A43C"/>
<circle cx="131.1" cy="583.1" r="5.9" fill="#C0884A"/>
<circle cx="128.9" cy="590.0" r="5.9" fill="#C0884A"/>
<circle cx="128.9" cy="598.5" r="5.9" fill="#A4C84E"/>
<circle cx="137.1" cy="584.8" r="5.9" fill="#D4A43C"/>
<circle cx="150.0" cy="579.7" r="5.9" fill="#A4C84E"/>
<circle cx="157.7" cy="578.0" r="5.9" fill="#D4A43C"/>
<circle cx="156.8" cy="588.2" r="5.9" fill="#483D8B"/>
<circle cx="145.7" cy="589.1" r="5.9" fill="#FFFF4C"/>
<circle cx="145.7" cy="598.5" r="5.9" fill="#C0884A"/>
<circle cx="157.7" cy="598.5" r="5.9" fill="#FFFF4C"/>
<circle cx="153.4" cy="607.9" r="5.9" fill="#62C54A"/>
<circle cx="160.3" cy="547.1" r="5.9" fill="#4A67D8"/>
<circle cx="164.5" cy="558.3" r="5.9" fill="#A4C84E"/>
<circle cx="180.0" cy="568.5" r="5.9" fill="#52B6F5"/>
<circle cx="168.0" cy="580.5" r="5.9" fill="#52B6F5"/>
<circle cx="173.1" cy="583.1" r="5.9" fill="#4A67D8"/>
<circle cx="181.7" cy="579.7" r="5.9" fill="#483D8B"/>
<circle cx="195.4" cy="574.5" r="5.9" fill="#483D8B"/>
<circle cx="195.4" cy="583.1" r="5.9" fill="#483D8B"/>
<circle cx="190.2" cy="589.1" r="5.9" fill="#A4C84E"/>
<circle cx="177.4" cy="591.7" r="5.9" fill="#4A67D8"/>
<circle cx="171.4" cy="595.1" r="5.9" fill="#52B6F5"/>
<circle cx="195.4" cy="598.5" r="5.9" fill="#52B6F5"/>
<circle cx="183.4" cy="601.1" r="5.9" fill="#A4C84E"/>
<circle cx="128.9" cy="613.4" r="5.9" fill="#D4A43C"/>
<circle cx="142.3" cy="612.6" r="5.9" fill="#D4A43C"/>
<circle cx="129.4" cy="622.8" r="5.9" fill="#483D8B"/>
<circle cx="139.7" cy="620.3" r="5.9" fill="#FFFF4C"/>
<circle cx="138.8" cy="629.7" r="5.9" fill="#C0884A"/>
<circle cx="154.3" cy="613.4" r="5.9" fill="#62C54A"/>
<circle cx="159.4" cy="617.7" r="5.9" fill="#FFFF4C"/>
<circle cx="168.8" cy="614.3" r="5.9" fill="#4A67D8"/>
<circle cx="180.0" cy="614.3" r="5.9" fill="#52B6F5"/>
<circle cx="161.1" cy="624.6" r="5.9" fill="#52B6F5"/>
<circle cx="176.1" cy="628.0" r="5.9" fill="#FFFF4C"/>
<circle cx="191.1" cy="627.1" r="5.9" fill="#62C54A"/>
<circle cx="192.8" cy="635.7" r="5.9" fill="#62C54A"/>
<circle cx="150.0" cy="629.7" r="5.9" fill="#A4C84E"/>
<circle cx="161.1" cy="631.4" r="5.9" fill="#A4C84E"/>
<circle cx="152.5" cy="640.8" r="5.9" fill="#FFFF4C"/>
<circle cx="168.0" cy="638.3" r="5.9" fill="#52B6F5"/>
<circle cx="178.2" cy="637.4" r="5.9" fill="#4A67D8"/>
<circle cx="129.4" cy="635.7" r="5.9" fill="#A4C84E"/>
<circle cx="129.4" cy="646.0" r="5.9" fill="#A4C84E"/>
<circle cx="129.4" cy="654.5" r="5.9" fill="#A4C84E"/>
<circle cx="139.7" cy="638.3" r="5.9" fill="#D4A43C"/>
<circle cx="143.1" cy="646.0" r="5.9" fill="#A4C84E"/>
<circle cx="150.8" cy="649.4" r="5.9" fill="#52B6F5"/>
<circle cx="163.7" cy="649.4" r="5.9" fill="#A4C84E"/>
<circle cx="178.2" cy="651.1" r="5.9" fill="#A4C84E"/>
<circle cx="191.1" cy="647.7" r="5.9" fill="#A4C84E"/>
<circle cx="144.0" cy="654.5" r="5.9" fill="#A4C84E"/>
<circle cx="138.8" cy="662.2" r="5.9" fill="#52B6F5"/>
<circle cx="148.3" cy="663.1" r="5.9" fill="#52B6F5"/>
<circle cx="157.7" cy="663.1" r="5.9" fill="#62C54A"/>
<circle cx="168.0" cy="664.8" r="5.9" fill="#A4C84E"/>
<circle cx="178.2" cy="664.8" r="5.9" fill="#4A67D8"/>
<circle cx="195.4" cy="664.8" r="5.9" fill="#483D8B"/>
<circle cx="129.4" cy="665.7" r="5.9" fill="#A4C84E"/>
<circle cx="129.4" cy="675.1" r="5.9" fill="#62C54A"/>
<circle cx="145.7" cy="670.0" r="5.9" fill="#C0884A"/>
<circle cx="140.6" cy="675.1" r="5.9" fill="#D4A43C"/>
<circle cx="144.0" cy="683.7" r="5.9" fill="#D4A43C"/>
<circle cx="157.7" cy="676.0" r="5.9" fill="#4A67D8"/>
<circle cx="170.5" cy="675.1" r="5.9" fill="#A4C84E"/>
<circle cx="168.0" cy="681.9" r="5.9" fill="#A4C84E"/>
<circle cx="178.2" cy="677.7" r="5.9" fill="#62C54A"/>
<circle cx="190.2" cy="675.1" r="5.9" fill="#483D8B"/>
<circle cx="187.7" cy="684.5" r="5.9" fill="#FFFF4C"/>
<circle cx="192.8" cy="682.8" r="5.9" fill="#52B6F5"/>
<circle cx="180.0" cy="687.1" r="5.9" fill="#483D8B"/>
<circle cx="138.0" cy="686.2" r="5.9" fill="#FFFF4C"/>
<circle cx="129.4" cy="685.4" r="5.9" fill="#A4C84E"/>
<circle cx="168.0" cy="687.1" r="5.9" fill="#C0884A"/>
<circle cx="129.4" cy="694.3" r="5.9" fill="#52B6F5"/>
<circle cx="142.3" cy="695.1" r="5.9" fill="#52B6F5"/>
<circle cx="137.1" cy="699.4" r="5.9" fill="#A4C84E"/>
<circle cx="129.4" cy="711.4" r="5.9" fill="#52B6F5"/>
<circle cx="148.3" cy="692.6" r="5.9" fill="#D4A43C"/>
<circle cx="145.7" cy="703.7" r="5.9" fill="#D4A43C"/>
<circle cx="149.1" cy="707.1" r="5.9" fill="#C0884A"/>
<circle cx="159.4" cy="695.1" r="5.9" fill="#A4C84E"/>
<circle cx="161.1" cy="701.1" r="5.9" fill="#A4C84E"/>
<circle cx="176.5" cy="695.1" r="5.9" fill="#4A67D8"/>
<circle cx="185.1" cy="700.3" r="5.9" fill="#A4C84E"/>
<circle cx="195.4" cy="696.0" r="5.9" fill="#52B6F5"/>
<circle cx="171.4" cy="706.3" r="5.9" fill="#A4C84E"/>
<circle cx="197.1" cy="708.8" r="5.9" fill="#483D8B"/>
<circle cx="195.4" cy="715.7" r="5.9" fill="#483D8B"/>
<circle cx="154.3" cy="712.3" r="5.9" fill="#D4A43C"/>
<circle cx="161.1" cy="715.7" r="5.9" fill="#C0884A"/>
<circle cx="148.3" cy="721.7" r="5.9" fill="#FFFF4C"/>
<circle cx="159.4" cy="727.7" r="5.9" fill="#FFFF4C"/>
<circle cx="170.5" cy="721.7" r="5.9" fill="#4A67D8"/>
<circle cx="181.7" cy="720.8" r="5.9" fill="#52B6F5"/>
<circle cx="187.7" cy="726.8" r="5.9" fill="#52B6F5"/>
<circle cx="195.4" cy="724.3" r="5.9" fill="#4A67D8"/>
<circle cx="129.4" cy="726.0" r="5.9" fill="#FFFF4C"/>
<circle cx="129.4" cy="734.5" r="5.9" fill="#FFFF4C"/>
<circle cx="139.7" cy="733.7" r="5.9" fill="#A4C84E"/>
<circle cx="147.4" cy="732.8" r="5.9" fill="#483D8B"/>
<circle cx="159.4" cy="737.1" r="5.9" fill="#483D8B"/>
<circle cx="169.7" cy="732.0" r="5.9" fill="#D4A43C"/>
<circle cx="180.0" cy="728.5" r="5.9" fill="#D4A43C"/>
<circle cx="178.2" cy="738.0" r="5.9" fill="#FFFF4C"/>
<circle cx="153.4" cy="740.5" r="5.9" fill="#FFFF4C"/>
<circle cx="190.2" cy="742.2" r="5.9" fill="#483D8B"/>
<circle cx="195.4" cy="750.0" r="5.9" fill="#FFFF4C"/>
<circle cx="139.7" cy="741.4" r="5.9" fill="#D4A43C"/>
<circle cx="145.7" cy="746.5" r="5.9" fill="#62C54A"/>
<circle cx="141.4" cy="751.7" r="5.9" fill="#52B6F5"/>
<circle cx="150.8" cy="755.1" r="5.9" fill="#52B6F5"/>
<circle cx="162.8" cy="750.0" r="5.9" fill="#A4C84E"/>
<circle cx="175.7" cy="749.1" r="5.9" fill="#A4C84E"/>
<circle cx="129.4" cy="750.0" r="5.9" fill="#FFFF4C"/>
<circle cx="129.4" cy="760.2" r="5.9" fill="#FFFF4C"/>
<circle cx="137.1" cy="760.2" r="5.9" fill="#D4A43C"/>
<circle cx="148.3" cy="762.8" r="5.9" fill="#62C54A"/>
<circle cx="164.5" cy="759.4" r="5.9" fill="#4A67D8"/>
<circle cx="179.1" cy="757.7" r="5.9" fill="#4A67D8"/>
<circle cx="181.7" cy="751.7" r="5.9" fill="#483D8B"/>
<circle cx="170.5" cy="765.4" r="5.9" fill="#483D8B"/>
<circle cx="195.4" cy="762.8" r="5.9" fill="#483D8B"/>
<circle cx="144.0" cy="767.9" r="5.9" fill="#52B6F5"/>
<circle cx="129.4" cy="775.1" r="5.9" fill="#FFFF4C"/>
<circle cx="137.1" cy="776.9" r="5.9" fill="#FFFF4C"/>
<circle cx="129.4" cy="785.4" r="5.9" fill="#FFFF4C"/>
<circle cx="138.8" cy="787.1" r="5.9" fill="#FFFF4C"/>
<circle cx="129.4" cy="795.7" r="5.9" fill="#FFFF4C"/>
<circle cx="137.1" cy="794.8" r="5.9" fill="#FFFF4C"/>
<circle cx="150.0" cy="775.1" r="5.9" fill="#A4C84E"/>
<circle cx="150.0" cy="785.4" r="5.9" fill="#4A67D8"/>
<circle cx="154.3" cy="790.6" r="5.9" fill="#4A67D8"/>
<circle cx="161.1" cy="775.1" r="5.9" fill="#483D8B"/>
<circle cx="171.4" cy="781.1" r="5.9" fill="#483D8B"/>
<circle cx="185.1" cy="777.7" r="5.9" fill="#483D8B"/>
<circle cx="193.7" cy="783.7" r="5.9" fill="#483D8B"/>
<circle cx="169.7" cy="772.6" r="5.9" fill="#52B6F5"/>
<circle cx="172.2" cy="787.1" r="5.9" fill="#62C54A"/>
<circle cx="195.4" cy="795.7" r="5.9" fill="#4A67D8"/>
<circle cx="183.4" cy="790.6" r="5.9" fill="#4A67D8"/>
<circle cx="178.2" cy="795.7" r="5.9" fill="#483D8B"/>
<circle cx="164.5" cy="800.0" r="5.9" fill="#483D8B"/>
<circle cx="135.4" cy="801.7" r="5.9" fill="#A4C84E"/>
<circle cx="144.0" cy="806.8" r="5.9" fill="#A4C84E"/>
<circle cx="154.3" cy="802.5" r="5.9" fill="#62C54A"/>
<circle cx="130.3" cy="811.1" r="5.9" fill="#62C54A"/>
<circle cx="142.3" cy="816.3" r="5.9" fill="#62C54A"/>
<circle cx="161.1" cy="814.5" r="5.9" fill="#62C54A"/>
<circle cx="152.5" cy="821.4" r="5.9" fill="#62C54A"/>
<circle cx="174.0" cy="806.8" r="5.9" fill="#A4C84E"/>
<circle cx="188.5" cy="806.0" r="5.9" fill="#483D8B"/>
<circle cx="197.1" cy="808.5" r="5.9" fill="#483D8B"/>
<circle cx="184.2" cy="812.8" r="5.9" fill="#4A67D8"/>
<circle cx="173.1" cy="821.4" r="5.9" fill="#483D8B"/>
<circle cx="191.1" cy="822.2" r="5.9" fill="#483D8B"/>
<circle cx="160.3" cy="828.2" r="5.9" fill="#483D8B"/>
<circle cx="128.9" cy="830.0" r="5.9" fill="#A4C84E"/>
<circle cx="129.4" cy="823.1" r="5.9" fill="#62C54A"/>
<circle cx="137.1" cy="830.0" r="5.9" fill="#62C54A"/>
<circle cx="150.0" cy="831.7" r="5.9" fill="#62C54A"/>
<circle cx="157.7" cy="836.0" r="5.9" fill="#52B6F5"/>
<circle cx="183.8" cy="836.4" r="5.9" fill="#52B6F5"/>
<circle cx="171.4" cy="835.1" r="5.9" fill="#4A67D8"/>
<circle cx="129.4" cy="840.2" r="5.9" fill="#62C54A"/>
<circle cx="137.1" cy="843.7" r="5.9" fill="#62C54A"/>
<circle cx="165.4" cy="843.7" r="5.9" fill="#62C54A"/>
<circle cx="150.0" cy="845.4" r="5.9" fill="#4A67D8"/>
<circle cx="195.4" cy="842.8" r="5.9" fill="#483D8B"/>
<circle cx="180.0" cy="845.4" r="5.9" fill="#483D8B"/>
<circle cx="174.8" cy="845.4" r="5.9" fill="#4A67D8"/>
<circle cx="195.4" cy="830.0" r="5.9" fill="#483D8B"/>
<circle cx="221.0" cy="535.6" r="5.9" fill="#483D8B"/>
<circle cx="214.6" cy="544.1" r="5.9" fill="#52B6F5"/>
<circle cx="204.3" cy="581.4" r="5.9" fill="#62C54A"/>
<circle cx="209.4" cy="576.7" r="5.9" fill="#52B6F5"/>
<circle cx="217.1" cy="581.4" r="5.9" fill="#4A67D8"/>
<circle cx="233.8" cy="575.8" r="5.9" fill="#A4C84E"/>
<circle cx="265.5" cy="573.3" r="5.9" fill="#483D8B"/>
<circle cx="224.8" cy="596.0" r="5.9" fill="#483D8B"/>
<circle cx="230.4" cy="593.0" r="5.9" fill="#A4C84E"/>
<circle cx="245.0" cy="602.8" r="5.9" fill="#483D8B"/>
<circle cx="209.4" cy="594.2" r="5.9" fill="#483D8B"/>
<circle cx="212.8" cy="601.1" r="5.9" fill="#483D8B"/>
<circle cx="200.9" cy="597.7" r="5.9" fill="#52B6F5"/>
<circle cx="205.1" cy="604.5" r="5.9" fill="#483D8B"/>
<circle cx="200.9" cy="607.1" r="5.9" fill="#A4C84E"/>
<circle cx="206.9" cy="610.9" r="5.9" fill="#483D8B"/>
<circle cx="203.4" cy="615.1" r="5.9" fill="#62C54A"/>
<circle cx="212.0" cy="617.7" r="5.9" fill="#52B6F5"/>
<circle cx="220.6" cy="615.1" r="5.9" fill="#483D8B"/>
<circle cx="230.8" cy="615.1" r="5.9" fill="#52B6F5"/>
<circle cx="200.9" cy="622.8" r="5.9" fill="#52B6F5"/>
<circle cx="254.0" cy="628.0" r="5.9" fill="#483D8B"/>
<circle cx="279.7" cy="628.8" r="5.9" fill="#483D8B"/>
<circle cx="209.4" cy="637.4" r="5.9" fill="#483D8B"/>
<circle cx="212.0" cy="631.4" r="5.9" fill="#52B6F5"/>
<circle cx="228.7" cy="633.1" r="5.9" fill="#4A67D8"/>
<circle cx="243.3" cy="634.8" r="5.9" fill="#52B6F5"/>
<circle cx="245.4" cy="644.3" r="5.9" fill="#483D8B"/>
<circle cx="211.1" cy="646.0" r="5.9" fill="#A4C84E"/>
<circle cx="217.1" cy="643.4" r="5.9" fill="#62C54A"/>
<circle cx="227.4" cy="646.0" r="5.9" fill="#52B6F5"/>
<circle cx="237.7" cy="647.7" r="5.9" fill="#52B6F5"/>
<circle cx="219.7" cy="650.3" r="5.9" fill="#52B6F5"/>
<circle cx="203.4" cy="652.8" r="5.9" fill="#62C54A"/>
<circle cx="211.1" cy="655.4" r="5.9" fill="#483D8B"/>
<circle cx="242.8" cy="654.5" r="5.9" fill="#4A67D8"/>
<circle cx="232.5" cy="652.8" r="5.9" fill="#52B6F5"/>
<circle cx="271.1" cy="654.5" r="5.9" fill="#62C54A"/>
<circle cx="267.7" cy="662.2" r="5.9" fill="#52B6F5"/>
<circle cx="234.3" cy="663.1" r="5.9" fill="#4A67D8"/>
<circle cx="245.4" cy="663.1" r="5.9" fill="#A4C84E"/>
<circle cx="250.5" cy="670.0" r="5.9" fill="#62C54A"/>
<circle cx="263.8" cy="670.0" r="5.9" fill="#A4C84E"/>
<circle cx="272.8" cy="673.4" r="5.9" fill="#52B6F5"/>
<circle cx="202.6" cy="666.5" r="5.9" fill="#483D8B"/>
<circle cx="210.3" cy="667.4" r="5.9" fill="#4A67D8"/>
<circle cx="211.1" cy="675.1" r="5.9" fill="#4A67D8"/>
<circle cx="217.1" cy="671.7" r="5.9" fill="#4A67D8"/>
<circle cx="224.8" cy="665.7" r="5.9" fill="#52B6F5"/>
<circle cx="227.4" cy="674.2" r="5.9" fill="#483D8B"/>
<circle cx="204.3" cy="680.2" r="5.9" fill="#D4A43C"/>
<circle cx="215.4" cy="684.5" r="5.9" fill="#52B6F5"/>
<circle cx="226.6" cy="684.5" r="5.9" fill="#62C54A"/>
<circle cx="248.0" cy="681.1" r="5.9" fill="#483D8B"/>
<circle cx="242.8" cy="681.9" r="5.9" fill="#4A67D8"/>
<circle cx="271.1" cy="680.2" r="5.9" fill="#A4C84E"/>
<circle cx="260.0" cy="687.9" r="5.9" fill="#483D8B"/>
<circle cx="266.8" cy="687.1" r="5.9" fill="#4A67D8"/>
<circle cx="200.9" cy="695.1" r="5.9" fill="#52B6F5"/>
<circle cx="215.4" cy="693.4" r="5.9" fill="#52B6F5"/>
<circle cx="212.8" cy="702.8" r="5.9" fill="#483D8B"/>
<circle cx="232.5" cy="697.7" r="5.9" fill="#A4C84E"/>
<circle cx="235.1" cy="695.1" r="5.9" fill="#4A67D8"/>
<circle cx="248.0" cy="696.9" r="5.9" fill="#4A67D8"/>
<circle cx="227.4" cy="704.6" r="5.9" fill="#483D8B"/>
<circle cx="255.7" cy="708.8" r="5.9" fill="#4A67D8"/>
<circle cx="243.3" cy="711.4" r="5.9" fill="#A4C84E"/>
<circle cx="266.0" cy="702.8" r="5.9" fill="#483D8B"/>
<circle cx="275.4" cy="705.4" r="5.9" fill="#483D8B"/>
<circle cx="205.1" cy="709.7" r="5.9" fill="#52B6F5"/>
<circle cx="216.3" cy="718.3" r="5.9" fill="#4A67D8"/>
<circle cx="234.3" cy="720.8" r="5.9" fill="#4A67D8"/>
<circle cx="268.5" cy="719.1" r="5.9" fill="#4A67D8"/>
<circle cx="258.2" cy="717.4" r="5.9" fill="#483D8B"/>
<circle cx="255.7" cy="722.5" r="5.9" fill="#4A67D8"/>
<circle cx="206.0" cy="725.5" r="5.9" fill="#A4C84E"/>
<circle cx="236.0" cy="730.3" r="5.9" fill="#52B6F5"/>
<circle cx="218.0" cy="733.7" r="5.9" fill="#52B6F5"/>
<circle cx="253.1" cy="725.1" r="5.9" fill="#A4C84E"/>
<circle cx="250.5" cy="734.5" r="5.9" fill="#4A67D8"/>
<circle cx="270.2" cy="730.3" r="5.9" fill="#483D8B"/>
<circle cx="277.1" cy="737.1" r="5.9" fill="#483D8B"/>
<circle cx="259.1" cy="738.8" r="5.9" fill="#A4C84E"/>
<circle cx="268.5" cy="743.1" r="5.9" fill="#62C54A"/>
<circle cx="205.1" cy="738.0" r="5.9" fill="#483D8B"/>
<circle cx="210.3" cy="741.4" r="5.9" fill="#483D8B"/>
<circle cx="230.8" cy="744.0" r="5.9" fill="#FFFF4C"/>
<circle cx="215.4" cy="747.4" r="5.9" fill="#D4A43C"/>
<circle cx="230.8" cy="756.8" r="5.9" fill="#FFFF4C"/>
<circle cx="230.8" cy="751.7" r="5.9" fill="#483D8B"/>
<circle cx="244.5" cy="750.0" r="5.9" fill="#4A67D8"/>
<circle cx="260.0" cy="750.0" r="5.9" fill="#52B6F5"/>
<circle cx="275.4" cy="751.7" r="5.9" fill="#52B6F5"/>
<circle cx="213.7" cy="756.8" r="5.9" fill="#483D8B"/>
<circle cx="239.4" cy="761.9" r="5.9" fill="#52B6F5"/>
<circle cx="253.1" cy="758.5" r="5.9" fill="#483D8B"/>
<circle cx="261.7" cy="763.7" r="5.9" fill="#483D8B"/>
<circle cx="206.0" cy="762.8" r="5.9" fill="#A4C84E"/>
<circle cx="216.3" cy="764.5" r="5.9" fill="#52B6F5"/>
<circle cx="278.8" cy="760.2" r="5.9" fill="#62C54A"/>
<circle cx="270.2" cy="767.1" r="5.9" fill="#483D8B"/>
<circle cx="200.9" cy="750.0" r="5.9" fill="#FFFF4C"/>
<circle cx="211.1" cy="781.1" r="5.9" fill="#4A67D8"/>
<circle cx="208.6" cy="795.7" r="5.9" fill="#483D8B"/>
<circle cx="208.6" cy="808.5" r="5.9" fill="#483D8B"/>
<circle cx="208.6" cy="830.0" r="5.9" fill="#483D8B"/>
<circle cx="225.7" cy="778.6" r="5.9" fill="#483D8B"/>
<circle cx="234.3" cy="830.0" r="5.9" fill="#483D8B"/>
<circle cx="260.0" cy="834.2" r="5.9" fill="#483D8B"/>
<circle cx="268.5" cy="823.1" r="5.9" fill="#483D8B"/>
<circle cx="247.1" cy="842.8" r="5.9" fill="#483D8B"/>
<circle cx="272.8" cy="845.4" r="5.9" fill="#483D8B"/>
<circle cx="227.4" cy="808.5" r="5.9" fill="#483D8B"/>
<circle cx="203.4" cy="845.4" r="5.9" fill="#483D8B"/>
<circle cx="201.7" cy="778.6" r="5.9" fill="#A4C84E"/>
<circle cx="218.8" cy="770.9" r="5.9" fill="#62C54A"/>
<circle cx="242.8" cy="774.3" r="5.9" fill="#52B6F5"/>
<circle cx="254.0" cy="776.9" r="5.9" fill="#62C54A"/>
<circle cx="237.7" cy="784.6" r="5.9" fill="#A4C84E"/>
<circle cx="239.4" cy="791.4" r="5.9" fill="#62C54A"/>
<circle cx="247.1" cy="788.0" r="5.9" fill="#483D8B"/>
<circle cx="260.0" cy="785.4" r="5.9" fill="#4A67D8"/>
<circle cx="271.9" cy="784.6" r="5.9" fill="#52B6F5"/>
<circle cx="277.1" cy="789.7" r="5.9" fill="#52B6F5"/>
<circle cx="233.4" cy="802.5" r="5.9" fill="#4A67D8"/>
<circle cx="246.3" cy="798.3" r="5.9" fill="#52B6F5"/>
<circle cx="254.8" cy="798.3" r="5.9" fill="#4A67D8"/>
<circle cx="264.2" cy="798.3" r="5.9" fill="#A4C84E"/>
<circle cx="271.9" cy="801.7" r="5.9" fill="#4A67D8"/>
<circle cx="277.9" cy="804.3" r="5.9" fill="#A4C84E"/>
<circle cx="241.1" cy="812.0" r="5.9" fill="#52B6F5"/>
<circle cx="260.0" cy="811.1" r="5.9" fill="#52B6F5"/>
<circle cx="251.4" cy="814.5" r="5.9" fill="#52B6F5"/>
<circle cx="224.8" cy="818.0" r="5.9" fill="#4A67D8"/>
<circle cx="252.2" cy="823.1" r="5.9" fill="#52B6F5"/>
<circle cx="213.7" cy="844.5" r="5.9" fill="#62C54A"/>
<circle cx="278.8" cy="836.8" r="5.9" fill="#4A67D8"/>
<circle cx="286.3" cy="645.5" r="5.9" fill="#483D8B"/>
<circle cx="289.7" cy="667.4" r="5.9" fill="#483D8B"/>
<circle cx="306.4" cy="678.1" r="5.9" fill="#483D8B"/>
<circle cx="288.8" cy="681.9" r="5.9" fill="#4A67D8"/>
<circle cx="321.4" cy="689.7" r="5.9" fill="#62C54A"/>
<circle cx="306.8" cy="689.2" r="5.9" fill="#52B6F5"/>
<circle cx="291.4" cy="689.7" r="5.9" fill="#A4C84E"/>
<circle cx="306.4" cy="694.3" r="5.9" fill="#52B6F5"/>
<circle cx="321.4" cy="694.7" r="5.9" fill="#62C54A"/>
<circle cx="287.1" cy="705.4" r="5.9" fill="#483D8B"/>
<circle cx="284.6" cy="711.4" r="5.9" fill="#4A67D8"/>
<circle cx="272.6" cy="715.7" r="5.9" fill="#52B6F5"/>
<circle cx="286.3" cy="717.4" r="5.9" fill="#4A67D8"/>
<circle cx="297.4" cy="718.7" r="5.9" fill="#483D8B"/>
<circle cx="316.3" cy="713.1" r="5.9" fill="#52B6F5"/>
<circle cx="321.8" cy="719.1" r="5.9" fill="#4A67D8"/>
<circle cx="312.8" cy="729.4" r="5.9" fill="#62C54A"/>
<circle cx="320.1" cy="729.8" r="5.9" fill="#52B6F5"/>
<circle cx="285.4" cy="726.0" r="5.9" fill="#52B6F5"/>
<circle cx="288.8" cy="729.4" r="5.9" fill="#4A67D8"/>
<circle cx="299.1" cy="734.5" r="5.9" fill="#483D8B"/>
<circle cx="296.6" cy="743.1" r="5.9" fill="#4A67D8"/>
<circle cx="312.0" cy="740.5" r="5.9" fill="#4A67D8"/>
<circle cx="323.1" cy="742.2" r="5.9" fill="#483D8B"/>
<circle cx="306.0" cy="749.1" r="5.9" fill="#A4C84E"/>
<circle cx="288.8" cy="751.7" r="5.9" fill="#52B6F5"/>
<circle cx="323.1" cy="753.4" r="5.9" fill="#4A67D8"/>
<circle cx="318.0" cy="751.7" r="5.9" fill="#483D8B"/>
<circle cx="304.3" cy="761.1" r="5.9" fill="#4A67D8"/>
<circle cx="298.3" cy="758.5" r="5.9" fill="#483D8B"/>
<circle cx="316.3" cy="764.5" r="5.9" fill="#483D8B"/>
<circle cx="283.7" cy="766.2" r="5.9" fill="#4A67D8"/>
<circle cx="308.5" cy="767.9" r="5.9" fill="#52B6F5"/>
<circle cx="300.0" cy="765.4" r="5.9" fill="#483D8B"/>
<circle cx="274.3" cy="774.3" r="5.9" fill="#483D8B"/>
<circle cx="300.0" cy="776.9" r="5.9" fill="#483D8B"/>
<circle cx="295.7" cy="791.4" r="5.9" fill="#483D8B"/>
<circle cx="304.3" cy="795.7" r="5.9" fill="#483D8B"/>
<circle cx="278.6" cy="821.4" r="5.9" fill="#483D8B"/>
<circle cx="295.7" cy="825.7" r="5.9" fill="#483D8B"/>
<circle cx="282.8" cy="845.4" r="5.9" fill="#483D8B"/>
<circle cx="306.0" cy="828.2" r="5.9" fill="#483D8B"/>
<circle cx="275.1" cy="808.5" r="5.9" fill="#483D8B"/>
<circle cx="287.1" cy="776.9" r="5.9" fill="#52B6F5"/>
<circle cx="309.4" cy="773.4" r="5.9" fill="#52B6F5"/>
<circle cx="280.3" cy="794.8" r="5.9" fill="#4A67D8"/>
<circle cx="287.1" cy="795.7" r="5.9" fill="#4A67D8"/>
<circle cx="306.0" cy="785.4" r="5.9" fill="#4A67D8"/>
<circle cx="305.1" cy="803.4" r="5.9" fill="#52B6F5"/>
<circle cx="291.4" cy="806.0" r="5.9" fill="#483D8B"/>
<circle cx="278.6" cy="814.5" r="5.9" fill="#52B6F5"/>
<circle cx="291.8" cy="814.5" r="5.9" fill="#62C54A"/>
<circle cx="301.7" cy="810.3" r="5.9" fill="#4A67D8"/>
<circle cx="310.3" cy="810.3" r="5.9" fill="#4A67D8"/>
<circle cx="294.8" cy="841.9" r="5.9" fill="#4A67D8"/>
<circle cx="304.3" cy="832.5" r="5.9" fill="#4A67D8"/>
<circle cx="306.0" cy="844.5" r="5.9" fill="#483D8B"/>
<circle cx="315.4" cy="818.8" r="5.9" fill="#52B6F5"/>
<circle cx="318.4" cy="782.0" r="5.9" fill="#62C54A"/>
<circle cx="321.4" cy="798.3" r="5.9" fill="#483D8B"/>
<circle cx="318.0" cy="807.7" r="5.9" fill="#483D8B"/>
<circle cx="335.1" cy="813.7" r="5.9" fill="#483D8B"/>
<circle cx="321.4" cy="821.4" r="5.9" fill="#483D8B"/>
<circle cx="321.4" cy="829.1" r="5.9" fill="#483D8B"/>
<circle cx="318.0" cy="836.8" r="5.9" fill="#4A67D8"/>
<circle cx="481.7" cy="697.9" r="5.9" fill="#A4C84E"/>
<circle cx="211.0" cy="775.2" r="5.9" fill="#483D8B"/>
<circle cx="198.1" cy="786.9" r="5.9" fill="#483D8B"/>
<circle cx="202.8" cy="810.4" r="5.9" fill="#483D8B"/>
<circle cx="238.0" cy="833.8" r="5.9" fill="#483D8B"/>
<circle cx="232.1" cy="803.3" r="5.9" fill="#483D8B"/>
<circle cx="159.4" cy="743.5" r="5.9" fill="#C0884A"/>
<circle cx="171.1" cy="744.7" r="5.9" fill="#D4A43C"/>
<circle cx="153.5" cy="764.6" r="5.9" fill="#62C54A"/>
<circle cx="168.8" cy="793.9" r="5.9" fill="#A4C84E"/>
</g>
<path d="M129.20 51.15V850.2M222.60 51.15V850.2M314.30 51.15V850.2M407.60 51.15V850.2M501.10 51.15V850.2M594.50 51.15V850.2M687.80 51.15V850.2M101.45 850.20H744.7M101.45 660.00H744.7M101.45 469.70H744.7M101.45 279.40H744.7M101.45 89.25H744.7" stroke="#b0b0b0" stroke-width="1.92" fill="none"/>
<rect x="101.45" y="51.15" width="643.25" height="799.05" fill="none" stroke="#000" stroke-width="1.92" stroke-linejoin="miter" stroke-linecap="square"/>
<path d="M129.20 850.2v8.4M222.60 850.2v8.4M314.30 850.2v8.4M407.60 850.2v8.4M501.10 850.2v8.4M594.50 850.2v8.4M687.80 850.2v8.4M101.45 850.20h-8.4M101.45 660.00h-8.4M101.45 469.70h-8.4M101.45 279.40h-8.4M101.45 89.25h-8.4" stroke="#000" stroke-width="1.92" fill="none"/>
<path d="M101.45 812.15h-4.8M101.45 774.10h-4.8M101.45 736.05h-4.8M101.45 698.00h-4.8M101.45 621.90h-4.8M101.45 583.85h-4.8M101.45 545.80h-4.8M101.45 507.75h-4.8M101.45 431.65h-4.8M101.45 393.60h-4.8M101.45 355.55h-4.8M101.45 317.50h-4.8M101.45 241.40h-4.8M101.45 203.35h-4.8M101.45 165.30h-4.8M101.45 127.25h-4.8M101.45 51.15h-4.8" stroke="#000" stroke-width="1.44" fill="none"/>
<g opacity="0.995">
<text x="121.99" y="885.50" font-size="25" textLength="14.05" lengthAdjust="spacingAndGlyphs">0</text>
<text x="206.15" y="885.50" font-size="25" textLength="29.16" lengthAdjust="spacingAndGlyphs">50</text>
<text x="292.54" y="885.50" font-size="25" textLength="44.67" lengthAdjust="spacingAndGlyphs">100</text>
<text x="385.64" y="885.50" font-size="25" textLength="44.67" lengthAdjust="spacingAndGlyphs">150</text>
<text x="477.96" y="885.50" font-size="25" textLength="44.90" lengthAdjust="spacingAndGlyphs">200</text>
<text x="571.16" y="885.50" font-size="25" textLength="44.90" lengthAdjust="spacingAndGlyphs">250</text>
<text x="664.46" y="885.50" font-size="25" textLength="44.48" lengthAdjust="spacingAndGlyphs">300</text>
<text x="69.99" y="859.75" font-size="25" textLength="14.05" lengthAdjust="spacingAndGlyphs">0</text>
<text x="69.30" y="669.30" font-size="25" textLength="13.17" lengthAdjust="spacingAndGlyphs">5</text>
<text x="53.27" y="479.20" font-size="25" textLength="29.35" lengthAdjust="spacingAndGlyphs">10</text>
<text x="53.36" y="289.05" font-size="25" textLength="28.79" lengthAdjust="spacingAndGlyphs">15</text>
<text x="54.75" y="98.90" font-size="25" textLength="29.58" lengthAdjust="spacingAndGlyphs">20</text>
<text x="308.08" y="920.60" font-size="25" textLength="228.34" lengthAdjust="spacingAndGlyphs">Duration (minutes)</text>
<text transform="translate(36.50 630.43) rotate(-90)" x="0" y="0" font-size="25" textLength="357.24" lengthAdjust="spacingAndGlyphs">Wind Speed (1-Min Avg) [m/s]</text>
<text x="83.61" y="36.50" font-size="30" textLength="676.02" lengthAdjust="spacingAndGlyphs">Duration of Constant Temperature vs Wind Spd</text>
</g>
<rect x="784.8" y="748.95" width="39.80" height="101.45" fill="#C0884A"/>
<rect x="784.8" y="649.10" width="39.80" height="100.05" fill="#D4A43C"/>
<rect x="784.8" y="549.40" width="39.80" height="99.90" fill="#FFFF4C"/>
<rect x="784.8" y="449.70" width="39.80" height="99.90" fill="#A4C84E"/>
<rect x="784.8" y="349.40" width="39.80" height="100.50" fill="#62C54A"/>
<rect x="784.8" y="249.16" width="39.80" height="100.44" fill="#52B6F5"/>
<rect x="784.8" y="148.95" width="39.80" height="100.41" fill="#4A67D8"/>
<rect x="784.8" y="51.30" width="39.80" height="97.85" fill="#483D8B"/>
<rect x="784.8" y="51.3" width="39.80" height="798.90" fill="none" stroke="#000" stroke-width="1.92"/>
<text x="843.14" y="859.50" font-size="25" textLength="29.54" lengthAdjust="spacingAndGlyphs">40</text>
<text x="843.15" y="759.15" font-size="25" textLength="29.16" lengthAdjust="spacingAndGlyphs">50</text>
<text x="842.66" y="659.30" font-size="25" textLength="29.72" lengthAdjust="spacingAndGlyphs">60</text>
<text x="842.68" y="559.60" font-size="25" textLength="29.31" lengthAdjust="spacingAndGlyphs">70</text>
<text x="843.00" y="459.90" font-size="25" textLength="29.57" lengthAdjust="spacingAndGlyphs">80</text>
<text x="843.03" y="359.60" font-size="25" textLength="29.03" lengthAdjust="spacingAndGlyphs">85</text>
<text x="842.80" y="259.36" font-size="25" textLength="29.71" lengthAdjust="spacingAndGlyphs">90</text>
<text x="842.82" y="159.15" font-size="25" textLength="29.17" lengthAdjust="spacingAndGlyphs">95</text>
<text x="842.59" y="60.60" font-size="25" textLength="44.67" lengthAdjust="spacingAndGlyphs">100</text>
<path d="M824.6 850.20h8.4M824.6 749.85h8.4M824.6 650.00h8.4M824.6 550.30h8.4M824.6 450.60h8.4M824.6 350.30h8.4M824.6 250.06h8.4M824.6 149.85h8.4M824.6 51.30h8.4" stroke="#000" stroke-width="1.92" fill="none"/>
<g opacity="0.995">
<text transform="translate(913.20 494.51) rotate(-90)" x="0" y="0" font-size="25" textLength="83.40" lengthAdjust="spacingAndGlyphs">RH [%]</text>
</g>
</svg></body></html>
